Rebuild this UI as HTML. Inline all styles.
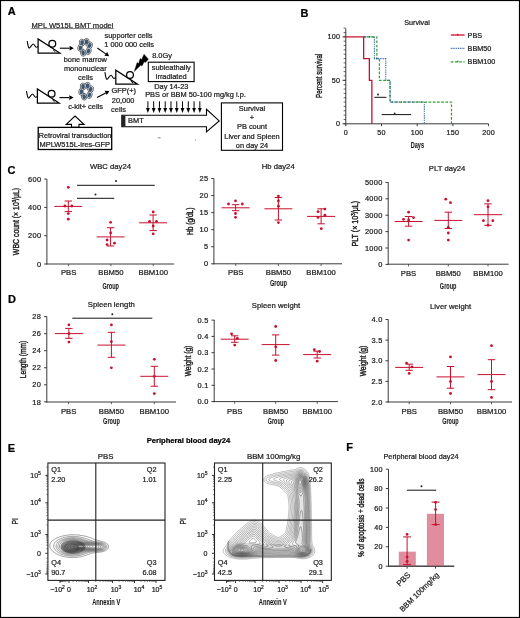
<!DOCTYPE html>
<html><head><meta charset="utf-8"><style>
html,body{margin:0;padding:0;background:#fff;}
body{width:520px;height:618px;overflow:hidden;position:relative;}
svg{position:absolute;left:0;top:0;font-family:"Liberation Sans",sans-serif;}
.frame{position:absolute;left:0;top:0;width:518px;height:616px;border:1px solid #000;}
</style></head><body>
<div style="position:absolute;left:0;top:0;width:520px;height:618px;will-change:transform"><svg width="520" height="618" viewBox="0 0 520 618">
<rect x="0" y="0" width="520" height="618" fill="#fff"/>
<text transform="translate(11.75,11.05)" x="0" y="3.94" font-size="11.0" text-anchor="middle" font-weight="bold" fill="#000" stroke="#000" stroke-width="0.22">A</text>
<text transform="translate(72.50,25.00)" x="0" y="2.72" font-size="7.6" text-anchor="middle" font-weight="normal" fill="#222" stroke="#222" stroke-width="0.22">MPL W515L BMT model</text>
<line x1="31.20" y1="28.60" x2="113.80" y2="28.60" stroke="#444" stroke-width="0.7"/>
<path d="M38.1,39.0 L38.1,53.0 L59.8,53.0 Z" fill="none" stroke="#000" stroke-width="1.25" stroke-linejoin="miter"/>
<circle cx="52.3" cy="43.7" r="3.4" fill="#fff" stroke="#000" stroke-width="1.25"/>
<path d="M53.1,49.8 L55.3,51.8" stroke="#000" stroke-width="1.0"/>
<path d="M27.200000000000003,41.0 C27.700000000000003,44.0 28.3,48.5 29.5,48.0 C30.700000000000003,47.4 31.900000000000002,44.2 33.300000000000004,44.0 C34.5,43.8 34.9,47.2 36.300000000000004,47.2 C37.1,47.2 37.6,46.5 38.1,46.2" fill="none" stroke="#000" stroke-width="1.05"/>
<line x1="59.80" y1="48.20" x2="69.60" y2="48.20" stroke="#000" stroke-width="1.1"/>
<path d="M73.80,48.20 L69.60,50.60 L69.60,45.80 Z" fill="#000"/>
<g>
<ellipse cx="82.00" cy="42.60" rx="2.7" ry="3.5" transform="rotate(-10 82.00 42.60)" fill="#eef1f4" stroke="#2a2a2a" stroke-width="0.6"/>
<ellipse cx="86.50" cy="41.80" rx="2.7" ry="3.5" transform="rotate(5 86.50 41.80)" fill="#eef1f4" stroke="#2a2a2a" stroke-width="0.6"/>
<ellipse cx="89.70" cy="45.40" rx="2.7" ry="3.5" transform="rotate(15 89.70 45.40)" fill="#eef1f4" stroke="#2a2a2a" stroke-width="0.6"/>
<ellipse cx="88.40" cy="51.10" rx="2.7" ry="3.5" transform="rotate(20 88.40 51.10)" fill="#eef1f4" stroke="#2a2a2a" stroke-width="0.6"/>
<ellipse cx="83.10" cy="52.80" rx="2.7" ry="3.5" transform="rotate(-15 83.10 52.80)" fill="#eef1f4" stroke="#2a2a2a" stroke-width="0.6"/>
<ellipse cx="80.40" cy="47.90" rx="2.7" ry="3.5" transform="rotate(5 80.40 47.90)" fill="#eef1f4" stroke="#2a2a2a" stroke-width="0.6"/>
<ellipse cx="82.00" cy="42.60" rx="1.75" ry="2.5" transform="rotate(-10 82.00 42.60)" fill="#3b5572"/>
<ellipse cx="86.50" cy="41.80" rx="1.75" ry="2.5" transform="rotate(5 86.50 41.80)" fill="#3b5572"/>
<ellipse cx="89.70" cy="45.40" rx="1.75" ry="2.5" transform="rotate(15 89.70 45.40)" fill="#3b5572"/>
<ellipse cx="88.40" cy="51.10" rx="1.75" ry="2.5" transform="rotate(20 88.40 51.10)" fill="#3b5572"/>
<ellipse cx="83.10" cy="52.80" rx="1.75" ry="2.5" transform="rotate(-15 83.10 52.80)" fill="#3b5572"/>
<ellipse cx="80.40" cy="47.90" rx="1.75" ry="2.5" transform="rotate(5 80.40 47.90)" fill="#3b5572"/>
<circle cx="84.6" cy="47.3" r="1.6" fill="#fff"/>
</g>
<text transform="translate(128.50,35.80)" x="0" y="2.65" font-size="7.4" text-anchor="middle" font-weight="normal" fill="#1a1a1a" stroke="#1a1a1a" stroke-width="0.22">supporter cells</text>
<text transform="translate(129.20,44.40)" x="0" y="2.65" font-size="7.4" text-anchor="middle" font-weight="normal" fill="#1a1a1a" stroke="#1a1a1a" stroke-width="0.22">1 000 000 cells</text>
<text transform="translate(85.30,59.80)" x="0" y="2.65" font-size="7.4" text-anchor="middle" font-weight="normal" fill="#1a1a1a" stroke="#1a1a1a" stroke-width="0.22">bone marrow</text>
<text transform="translate(85.30,68.80)" x="0" y="2.65" font-size="7.4" text-anchor="middle" font-weight="normal" fill="#1a1a1a" stroke="#1a1a1a" stroke-width="0.22">mononuclear</text>
<text transform="translate(85.50,77.70)" x="0" y="2.65" font-size="7.4" text-anchor="middle" font-weight="normal" fill="#1a1a1a" stroke="#1a1a1a" stroke-width="0.22">cells</text>
<line x1="97.30" y1="48.00" x2="105.76" y2="53.90" stroke="#000" stroke-width="1.1"/>
<path d="M109.20,56.30 L104.38,55.87 L107.13,51.93 Z" fill="#000"/>
<path d="M115.8,70.2 L115.8,84.2 L137.5,84.2 Z" fill="none" stroke="#000" stroke-width="1.25" stroke-linejoin="miter"/>
<circle cx="130.0" cy="74.9" r="3.4" fill="#fff" stroke="#000" stroke-width="1.25"/>
<path d="M130.8,81.0 L133.0,83.0" stroke="#000" stroke-width="1.0"/>
<path d="M104.89999999999999,72.2 C105.39999999999999,75.2 106.0,79.7 107.2,79.2 C108.39999999999999,78.60000000000001 109.6,75.4 111.0,75.2 C112.2,75.0 112.6,78.4 114.0,78.4 C114.8,78.4 115.3,77.7 115.8,77.4" fill="none" stroke="#000" stroke-width="1.05"/>
<path d="M134.2,71.6 L137.1,62.4 L138.6,63.4 L140.1,58.5 L141.6,59.6 L144.0,54.2 L148.5,59.2 L145.3,62.5 L144.2,61.8 L142.0,66.0 L140.8,65.2 Z" fill="#000" stroke="#000" stroke-width="0.3"/>
<text transform="translate(162.00,55.10)" x="0" y="2.65" font-size="7.4" text-anchor="middle" font-weight="normal" fill="#1a1a1a" stroke="#1a1a1a" stroke-width="0.22">8.0Gy</text>
<rect x="148.3" y="62.2" width="45.8" height="19.4" fill="none" stroke="#000" stroke-width="1.1"/>
<text transform="translate(171.20,67.40)" x="0" y="2.65" font-size="7.4" text-anchor="middle" font-weight="normal" fill="#1a1a1a" stroke="#1a1a1a" stroke-width="0.22">subleathally</text>
<text transform="translate(171.20,76.00)" x="0" y="2.65" font-size="7.4" text-anchor="middle" font-weight="normal" fill="#1a1a1a" stroke="#1a1a1a" stroke-width="0.22">irradiated</text>
<text transform="translate(171.30,86.70)" x="0" y="2.65" font-size="7.4" text-anchor="middle" font-weight="normal" fill="#1a1a1a" stroke="#1a1a1a" stroke-width="0.22">Day 14-23</text>
<text transform="translate(195.50,94.80)" x="0" y="2.65" font-size="7.4" text-anchor="middle" font-weight="normal" fill="#1a1a1a" stroke="#1a1a1a" stroke-width="0.22">PBS or BBM 50-100 mg/kg i.p.</text>
<line x1="147.90" y1="101.30" x2="147.90" y2="107.90" stroke="#000" stroke-width="1.0"/>
<path d="M147.90,112.90 L146.00,107.90 L149.80,107.90 Z" fill="#000"/>
<line x1="153.67" y1="101.30" x2="153.67" y2="107.90" stroke="#000" stroke-width="1.0"/>
<path d="M153.67,112.90 L151.77,107.90 L155.57,107.90 Z" fill="#000"/>
<line x1="159.44" y1="101.30" x2="159.44" y2="107.90" stroke="#000" stroke-width="1.0"/>
<path d="M159.44,112.90 L157.54,107.90 L161.34,107.90 Z" fill="#000"/>
<line x1="165.21" y1="101.30" x2="165.21" y2="107.90" stroke="#000" stroke-width="1.0"/>
<path d="M165.21,112.90 L163.31,107.90 L167.11,107.90 Z" fill="#000"/>
<line x1="170.98" y1="101.30" x2="170.98" y2="107.90" stroke="#000" stroke-width="1.0"/>
<path d="M170.98,112.90 L169.08,107.90 L172.88,107.90 Z" fill="#000"/>
<line x1="176.75" y1="101.30" x2="176.75" y2="107.90" stroke="#000" stroke-width="1.0"/>
<path d="M176.75,112.90 L174.85,107.90 L178.65,107.90 Z" fill="#000"/>
<line x1="182.52" y1="101.30" x2="182.52" y2="107.90" stroke="#000" stroke-width="1.0"/>
<path d="M182.52,112.90 L180.62,107.90 L184.42,107.90 Z" fill="#000"/>
<line x1="188.29" y1="101.30" x2="188.29" y2="107.90" stroke="#000" stroke-width="1.0"/>
<path d="M188.29,112.90 L186.39,107.90 L190.19,107.90 Z" fill="#000"/>
<line x1="194.06" y1="101.30" x2="194.06" y2="107.90" stroke="#000" stroke-width="1.0"/>
<path d="M194.06,112.90 L192.16,107.90 L195.96,107.90 Z" fill="#000"/>
<line x1="199.83" y1="101.30" x2="199.83" y2="107.90" stroke="#000" stroke-width="1.0"/>
<path d="M199.83,112.90 L197.93,107.90 L201.73,107.90 Z" fill="#000"/>
<path d="M121.8,115.2 L206.5,115.2 L206.5,109.3 L219.2,120.9 L206.5,131.9 L206.5,126.7 L121.8,126.7 Z" fill="#fff" stroke="#000" stroke-width="1.1" stroke-linejoin="miter"/>
<rect x="122" y="115.6" width="3.4" height="10.8" fill="#222"/>
<text transform="translate(135.90,120.80)" x="0" y="2.65" font-size="7.4" text-anchor="middle" font-weight="normal" fill="#1a1a1a" stroke="#1a1a1a" stroke-width="0.22">BMT</text>
<line x1="157.80" y1="137.80" x2="160.60" y2="137.80" stroke="#555" stroke-width="0.7"/>
<circle cx="195.5" cy="140" r="0.5" fill="#666"/>
<rect x="221.4" y="102.9" width="61.1" height="47.4" fill="none" stroke="#000" stroke-width="1.1"/>
<text transform="translate(252.00,108.40)" x="0" y="2.65" font-size="7.4" text-anchor="middle" font-weight="normal" fill="#1a1a1a" stroke="#1a1a1a" stroke-width="0.22">Survival</text>
<text transform="translate(252.00,117.60)" x="0" y="2.65" font-size="7.4" text-anchor="middle" font-weight="normal" fill="#1a1a1a" stroke="#1a1a1a" stroke-width="0.22">+</text>
<text transform="translate(252.00,126.80)" x="0" y="2.65" font-size="7.4" text-anchor="middle" font-weight="normal" fill="#1a1a1a" stroke="#1a1a1a" stroke-width="0.22">PB count</text>
<text transform="translate(252.00,135.90)" x="0" y="2.65" font-size="7.4" text-anchor="middle" font-weight="normal" fill="#1a1a1a" stroke="#1a1a1a" stroke-width="0.22">Liver and Spleen</text>
<text transform="translate(252.00,145.50)" x="0" y="2.65" font-size="7.4" text-anchor="middle" font-weight="normal" fill="#1a1a1a" stroke="#1a1a1a" stroke-width="0.22">on day 24</text>
<path d="M37.4,89.0 L37.4,103.0 L59.099999999999994,103.0 Z" fill="none" stroke="#000" stroke-width="1.25" stroke-linejoin="miter"/>
<circle cx="51.599999999999994" cy="93.7" r="3.4" fill="#fff" stroke="#000" stroke-width="1.25"/>
<path d="M52.4,99.8 L54.599999999999994,101.8" stroke="#000" stroke-width="1.0"/>
<path d="M26.5,91.0 C27.0,94.0 27.599999999999998,98.5 28.799999999999997,98.0 C30.0,97.4 31.2,94.2 32.6,94.0 C33.8,93.8 34.199999999999996,97.2 35.6,97.2 C36.4,97.2 36.9,96.5 37.4,96.2" fill="none" stroke="#000" stroke-width="1.05"/>
<line x1="59.40" y1="97.60" x2="69.30" y2="97.60" stroke="#000" stroke-width="1.1"/>
<path d="M73.50,97.60 L69.30,100.00 L69.30,95.20 Z" fill="#000"/>
<g>
<ellipse cx="83.00" cy="86.50" rx="2.7" ry="3.5" transform="rotate(-10 83.00 86.50)" fill="#eef1f4" stroke="#2a2a2a" stroke-width="0.6"/>
<ellipse cx="87.50" cy="85.70" rx="2.7" ry="3.5" transform="rotate(5 87.50 85.70)" fill="#eef1f4" stroke="#2a2a2a" stroke-width="0.6"/>
<ellipse cx="90.70" cy="89.30" rx="2.7" ry="3.5" transform="rotate(15 90.70 89.30)" fill="#eef1f4" stroke="#2a2a2a" stroke-width="0.6"/>
<ellipse cx="89.40" cy="95.00" rx="2.7" ry="3.5" transform="rotate(20 89.40 95.00)" fill="#eef1f4" stroke="#2a2a2a" stroke-width="0.6"/>
<ellipse cx="84.10" cy="96.70" rx="2.7" ry="3.5" transform="rotate(-15 84.10 96.70)" fill="#eef1f4" stroke="#2a2a2a" stroke-width="0.6"/>
<ellipse cx="81.40" cy="91.80" rx="2.7" ry="3.5" transform="rotate(5 81.40 91.80)" fill="#eef1f4" stroke="#2a2a2a" stroke-width="0.6"/>
<ellipse cx="83.00" cy="86.50" rx="1.75" ry="2.5" transform="rotate(-10 83.00 86.50)" fill="#3b5572"/>
<ellipse cx="87.50" cy="85.70" rx="1.75" ry="2.5" transform="rotate(5 87.50 85.70)" fill="#3b5572"/>
<ellipse cx="90.70" cy="89.30" rx="1.75" ry="2.5" transform="rotate(15 90.70 89.30)" fill="#3b5572"/>
<ellipse cx="89.40" cy="95.00" rx="1.75" ry="2.5" transform="rotate(20 89.40 95.00)" fill="#3b5572"/>
<ellipse cx="84.10" cy="96.70" rx="1.75" ry="2.5" transform="rotate(-15 84.10 96.70)" fill="#3b5572"/>
<ellipse cx="81.40" cy="91.80" rx="1.75" ry="2.5" transform="rotate(5 81.40 91.80)" fill="#3b5572"/>
<circle cx="85.6" cy="91.2" r="1.6" fill="#fff"/>
</g>
<text transform="translate(85.50,106.40)" x="0" y="2.65" font-size="7.4" text-anchor="middle" font-weight="normal" fill="#1a1a1a" stroke="#1a1a1a" stroke-width="0.22">c-kit+ cells</text>
<line x1="97.00" y1="97.60" x2="105.69" y2="92.97" stroke="#000" stroke-width="1.1"/>
<path d="M109.40,91.00 L106.82,95.09 L104.56,90.85 Z" fill="#000"/>
<text transform="translate(123.80,90.80)" x="0" y="2.65" font-size="7.4" text-anchor="middle" font-weight="normal" fill="#1a1a1a" stroke="#1a1a1a" stroke-width="0.22">GFP(+)</text>
<text transform="translate(123.10,100.20)" x="0" y="2.65" font-size="7.4" text-anchor="middle" font-weight="normal" fill="#1a1a1a" stroke="#1a1a1a" stroke-width="0.22">20,000</text>
<text transform="translate(118.50,109.80)" x="0" y="2.65" font-size="7.4" text-anchor="middle" font-weight="normal" fill="#1a1a1a" stroke="#1a1a1a" stroke-width="0.22">cells</text>
<path d="M75,116 L84.0,124.4 L79.0,124.4 L79.0,127.4 L71.5,127.4 L71.5,124.4 L66.2,124.4 Z" fill="#fff" stroke="#000" stroke-width="1.1" stroke-linejoin="miter"/>
<rect x="38.2" y="127.4" width="73.5" height="22.1" fill="#fff" stroke="#000" stroke-width="1.3"/>
<text transform="translate(75.00,135.20)" x="0" y="2.60" font-size="7.25" text-anchor="middle" font-weight="normal" fill="#1a1a1a" stroke="#1a1a1a" stroke-width="0.22">Retroviral transduction</text>
<text transform="translate(74.80,143.90)" x="0" y="2.67" font-size="7.45" text-anchor="middle" font-weight="normal" fill="#1a1a1a" stroke="#1a1a1a" stroke-width="0.22">MPLW515L-ires-GFP</text>
<text transform="translate(304.45,12.80)" x="0" y="3.94" font-size="11.0" text-anchor="middle" font-weight="bold" fill="#000" stroke="#000" stroke-width="0.22">B</text>
<text transform="translate(417.00,22.00)" x="0" y="2.58" font-size="7.2" text-anchor="middle" font-weight="normal" fill="#1a1a1a" stroke="#1a1a1a" stroke-width="0.22">Survival</text>
<line x1="345.80" y1="28.50" x2="345.80" y2="124.30" stroke="#3a3a3a" stroke-width="1.0"/>
<line x1="345.30" y1="123.80" x2="488.60" y2="123.80" stroke="#3a3a3a" stroke-width="1.0"/>
<line x1="343.60" y1="123.80" x2="345.80" y2="123.80" stroke="#3a3a3a" stroke-width="0.8"/>
<line x1="343.60" y1="119.45" x2="345.80" y2="119.45" stroke="#3a3a3a" stroke-width="0.8"/>
<line x1="343.60" y1="115.10" x2="345.80" y2="115.10" stroke="#3a3a3a" stroke-width="0.8"/>
<line x1="343.60" y1="110.76" x2="345.80" y2="110.76" stroke="#3a3a3a" stroke-width="0.8"/>
<line x1="343.60" y1="106.41" x2="345.80" y2="106.41" stroke="#3a3a3a" stroke-width="0.8"/>
<line x1="343.60" y1="102.06" x2="345.80" y2="102.06" stroke="#3a3a3a" stroke-width="0.8"/>
<line x1="343.60" y1="97.72" x2="345.80" y2="97.72" stroke="#3a3a3a" stroke-width="0.8"/>
<line x1="343.60" y1="93.37" x2="345.80" y2="93.37" stroke="#3a3a3a" stroke-width="0.8"/>
<line x1="343.60" y1="89.02" x2="345.80" y2="89.02" stroke="#3a3a3a" stroke-width="0.8"/>
<line x1="343.60" y1="84.67" x2="345.80" y2="84.67" stroke="#3a3a3a" stroke-width="0.8"/>
<line x1="343.60" y1="80.32" x2="345.80" y2="80.32" stroke="#3a3a3a" stroke-width="0.8"/>
<line x1="343.60" y1="75.98" x2="345.80" y2="75.98" stroke="#3a3a3a" stroke-width="0.8"/>
<line x1="343.60" y1="71.63" x2="345.80" y2="71.63" stroke="#3a3a3a" stroke-width="0.8"/>
<line x1="343.60" y1="67.28" x2="345.80" y2="67.28" stroke="#3a3a3a" stroke-width="0.8"/>
<line x1="343.60" y1="62.93" x2="345.80" y2="62.93" stroke="#3a3a3a" stroke-width="0.8"/>
<line x1="343.60" y1="58.59" x2="345.80" y2="58.59" stroke="#3a3a3a" stroke-width="0.8"/>
<line x1="343.60" y1="54.24" x2="345.80" y2="54.24" stroke="#3a3a3a" stroke-width="0.8"/>
<line x1="343.60" y1="49.89" x2="345.80" y2="49.89" stroke="#3a3a3a" stroke-width="0.8"/>
<line x1="343.60" y1="45.54" x2="345.80" y2="45.54" stroke="#3a3a3a" stroke-width="0.8"/>
<line x1="343.60" y1="41.20" x2="345.80" y2="41.20" stroke="#3a3a3a" stroke-width="0.8"/>
<line x1="343.60" y1="36.85" x2="345.80" y2="36.85" stroke="#3a3a3a" stroke-width="0.8"/>
<line x1="343.60" y1="32.50" x2="345.80" y2="32.50" stroke="#3a3a3a" stroke-width="0.8"/>
<line x1="343.60" y1="28.15" x2="345.80" y2="28.15" stroke="#3a3a3a" stroke-width="0.8"/>
<line x1="342.60" y1="123.80" x2="345.80" y2="123.80" stroke="#3a3a3a" stroke-width="1.0"/>
<text transform="translate(340.20,123.80)" x="0" y="2.58" font-size="7.2" text-anchor="end" font-weight="normal" fill="#1a1a1a" letter-spacing="0.25" stroke="#1a1a1a" stroke-width="0.22">0</text>
<line x1="342.60" y1="80.32" x2="345.80" y2="80.32" stroke="#3a3a3a" stroke-width="1.0"/>
<text transform="translate(340.20,80.32)" x="0" y="2.58" font-size="7.2" text-anchor="end" font-weight="normal" fill="#1a1a1a" letter-spacing="0.25" stroke="#1a1a1a" stroke-width="0.22">50</text>
<line x1="342.60" y1="36.85" x2="345.80" y2="36.85" stroke="#3a3a3a" stroke-width="1.0"/>
<text transform="translate(340.20,36.85)" x="0" y="2.58" font-size="7.2" text-anchor="end" font-weight="normal" fill="#1a1a1a" letter-spacing="0.25" stroke="#1a1a1a" stroke-width="0.22">100</text>
<line x1="345.80" y1="123.80" x2="345.80" y2="126.20" stroke="#3a3a3a" stroke-width="1.0"/>
<text transform="translate(345.80,132.80)" x="0" y="2.58" font-size="7.2" text-anchor="middle" font-weight="normal" fill="#1a1a1a" letter-spacing="0.25" stroke="#1a1a1a" stroke-width="0.22">0</text>
<line x1="381.50" y1="123.80" x2="381.50" y2="126.20" stroke="#3a3a3a" stroke-width="1.0"/>
<text transform="translate(381.50,132.80)" x="0" y="2.58" font-size="7.2" text-anchor="middle" font-weight="normal" fill="#1a1a1a" letter-spacing="0.25" stroke="#1a1a1a" stroke-width="0.22">50</text>
<line x1="417.20" y1="123.80" x2="417.20" y2="126.20" stroke="#3a3a3a" stroke-width="1.0"/>
<text transform="translate(417.20,132.80)" x="0" y="2.58" font-size="7.2" text-anchor="middle" font-weight="normal" fill="#1a1a1a" letter-spacing="0.25" stroke="#1a1a1a" stroke-width="0.22">100</text>
<line x1="452.90" y1="123.80" x2="452.90" y2="126.20" stroke="#3a3a3a" stroke-width="1.0"/>
<text transform="translate(452.90,132.80)" x="0" y="2.58" font-size="7.2" text-anchor="middle" font-weight="normal" fill="#1a1a1a" letter-spacing="0.25" stroke="#1a1a1a" stroke-width="0.22">150</text>
<line x1="488.60" y1="123.80" x2="488.60" y2="126.20" stroke="#3a3a3a" stroke-width="1.0"/>
<text transform="translate(488.60,132.80)" x="0" y="2.58" font-size="7.2" text-anchor="middle" font-weight="normal" fill="#1a1a1a" letter-spacing="0.25" stroke="#1a1a1a" stroke-width="0.22">200</text>
<text transform="translate(417.40,148.00)" x="0" y="0" font-size="9.3" text-anchor="middle" font-weight="bold" fill="#1a1a1a" textLength="13.2" lengthAdjust="spacingAndGlyphs" stroke="#1a1a1a" stroke-width="0.1">Days</text>
<text transform="translate(322.10,75.80) rotate(-90)" x="0" y="0" font-size="9.3" text-anchor="middle" font-weight="normal" fill="#1a1a1a" textLength="44.2" lengthAdjust="spacingAndGlyphs" stroke="#1a1a1a" stroke-width="0.4">Percent survival</text>
<path d="M363.65,36.85 L376.86,36.85 L376.86,58.59 L379.36,58.59 L379.36,80.32 L390.07,80.32 L390.07,102.06 L451.47,102.06 L451.47,123.80" fill="none" stroke="#2ca02c" stroke-width="1.2" stroke-dasharray="2.6,1.6"/>
<path d="M363.65,36.85 L374.36,36.85 L374.36,58.59 L385.78,58.59 L385.78,80.32 L390.07,80.32 L390.07,102.06 L424.34,102.06 L424.34,123.80" fill="none" stroke="#1f5499" stroke-width="1.1" stroke-dasharray="0.9,0.9"/>
<path d="M345.80,36.85 L363.65,36.85 L363.65,58.59 L369.36,58.59 L369.36,80.32 L371.86,80.32 L371.86,123.80" fill="none" stroke="#c8102e" stroke-width="1.3"/>
<line x1="374.30" y1="97.30" x2="386.40" y2="97.30" stroke="#111" stroke-width="1.0"/>
<circle cx="378.00" cy="94.50" r="1.0" fill="#222"/>
<line x1="381.70" y1="114.60" x2="411.10" y2="114.60" stroke="#111" stroke-width="1.0"/>
<circle cx="394.70" cy="113.40" r="0.9" fill="#222"/>
<line x1="450.80" y1="35.00" x2="464.60" y2="35.00" stroke="#c8102e" stroke-width="1.3"/>
<circle cx="457.70" cy="34.60" r="0.9" fill="#c8102e"/>
<text transform="translate(467.60,35.00)" x="0" y="2.58" font-size="7.2" text-anchor="start" font-weight="normal" fill="#1a1a1a" stroke="#1a1a1a" stroke-width="0.22">PBS</text>
<line x1="450.80" y1="48.40" x2="464.60" y2="48.40" stroke="#1f5499" stroke-width="1.1" stroke-dasharray="0.9,0.9"/>
<text transform="translate(467.60,48.40)" x="0" y="2.58" font-size="7.2" text-anchor="start" font-weight="normal" fill="#1a1a1a" stroke="#1a1a1a" stroke-width="0.22">BBM50</text>
<line x1="450.80" y1="61.80" x2="464.60" y2="61.80" stroke="#2ca02c" stroke-width="1.2" stroke-dasharray="2.6,1.6"/>
<circle cx="457.70" cy="61.40" r="0.9" fill="#2ca02c"/>
<text transform="translate(467.60,61.80)" x="0" y="2.58" font-size="7.2" text-anchor="start" font-weight="normal" fill="#1a1a1a" stroke="#1a1a1a" stroke-width="0.22">BBM100</text>
<text transform="translate(11.40,170.20)" x="0" y="3.94" font-size="11.0" text-anchor="middle" font-weight="bold" fill="#000" stroke="#000" stroke-width="0.22">C</text>
<line x1="46.90" y1="179.20" x2="46.90" y2="264.50" stroke="#3a3a3a" stroke-width="1.0"/>
<line x1="46.40" y1="264.00" x2="174.20" y2="264.00" stroke="#3a3a3a" stroke-width="1.0"/>
<line x1="44.20" y1="264.00" x2="46.90" y2="264.00" stroke="#3a3a3a" stroke-width="1.0"/>
<text transform="translate(41.30,264.00)" x="0" y="2.65" font-size="7.4" text-anchor="end" font-weight="normal" fill="#1a1a1a" letter-spacing="0.3" stroke="#1a1a1a" stroke-width="0.22">0</text>
<line x1="44.20" y1="235.70" x2="46.90" y2="235.70" stroke="#3a3a3a" stroke-width="1.0"/>
<text transform="translate(41.30,235.70)" x="0" y="2.65" font-size="7.4" text-anchor="end" font-weight="normal" fill="#1a1a1a" letter-spacing="0.3" stroke="#1a1a1a" stroke-width="0.22">200</text>
<line x1="44.20" y1="207.40" x2="46.90" y2="207.40" stroke="#3a3a3a" stroke-width="1.0"/>
<text transform="translate(41.30,207.40)" x="0" y="2.65" font-size="7.4" text-anchor="end" font-weight="normal" fill="#1a1a1a" letter-spacing="0.3" stroke="#1a1a1a" stroke-width="0.22">400</text>
<line x1="44.20" y1="179.10" x2="46.90" y2="179.10" stroke="#3a3a3a" stroke-width="1.0"/>
<text transform="translate(41.30,179.10)" x="0" y="2.65" font-size="7.4" text-anchor="end" font-weight="normal" fill="#1a1a1a" letter-spacing="0.3" stroke="#1a1a1a" stroke-width="0.22">600</text>
<line x1="68.60" y1="264.00" x2="68.60" y2="266.20" stroke="#3a3a3a" stroke-width="0.8"/>
<line x1="110.90" y1="264.00" x2="110.90" y2="266.20" stroke="#3a3a3a" stroke-width="0.8"/>
<line x1="153.30" y1="264.00" x2="153.30" y2="266.20" stroke="#3a3a3a" stroke-width="0.8"/>
<text transform="translate(68.60,272.40)" x="0" y="2.76" font-size="7.7" text-anchor="middle" font-weight="normal" fill="#1a1a1a" stroke="#1a1a1a" stroke-width="0.22">PBS</text>
<text transform="translate(110.90,272.40)" x="0" y="2.76" font-size="7.7" text-anchor="middle" font-weight="normal" fill="#1a1a1a" stroke="#1a1a1a" stroke-width="0.22">BBM50</text>
<text transform="translate(153.30,272.40)" x="0" y="2.76" font-size="7.7" text-anchor="middle" font-weight="normal" fill="#1a1a1a" stroke="#1a1a1a" stroke-width="0.22">BBM100</text>
<text transform="translate(110.65,288.80)" x="0" y="0" font-size="9.3" text-anchor="middle" font-weight="bold" fill="#1a1a1a" textLength="16.5" lengthAdjust="spacingAndGlyphs" stroke="#1a1a1a" stroke-width="0.1">Group</text>
<text transform="translate(110.50,166.00)" x="0" y="2.76" font-size="7.7" text-anchor="middle" font-weight="normal" fill="#1a1a1a" stroke="#1a1a1a" stroke-width="0.22">WBC day24</text>
<text transform="translate(18.70,221.50) rotate(-90)" x="0" y="0" font-size="9.0" text-anchor="middle" font-weight="normal" fill="#1a1a1a" textLength="67.3" lengthAdjust="spacingAndGlyphs" stroke="#1a1a1a" stroke-width="0.4">WBC count (× 10<tspan baseline-shift="super" font-size="5.5">3</tspan>/μL)</text>
<line x1="54.30" y1="206.40" x2="82.30" y2="206.40" stroke="#c8102e" stroke-width="1.0"/>
<line x1="68.30" y1="201.00" x2="68.30" y2="211.60" stroke="#c8102e" stroke-width="1.0"/>
<line x1="64.60" y1="201.00" x2="72.00" y2="201.00" stroke="#c8102e" stroke-width="1.0"/>
<line x1="64.60" y1="211.60" x2="72.00" y2="211.60" stroke="#c8102e" stroke-width="1.0"/>
<circle cx="68.30" cy="187.30" r="1.4" fill="#c8102e"/>
<circle cx="64.90" cy="206.00" r="1.4" fill="#c8102e"/>
<circle cx="71.80" cy="206.00" r="1.4" fill="#c8102e"/>
<circle cx="68.30" cy="213.60" r="1.4" fill="#c8102e"/>
<circle cx="68.30" cy="219.20" r="1.4" fill="#c8102e"/>
<line x1="96.60" y1="236.90" x2="124.60" y2="236.90" stroke="#c8102e" stroke-width="1.0"/>
<line x1="110.60" y1="227.70" x2="110.60" y2="246.00" stroke="#c8102e" stroke-width="1.0"/>
<line x1="106.90" y1="227.70" x2="114.30" y2="227.70" stroke="#c8102e" stroke-width="1.0"/>
<line x1="106.90" y1="246.00" x2="114.30" y2="246.00" stroke="#c8102e" stroke-width="1.0"/>
<circle cx="110.60" cy="222.30" r="1.4" fill="#c8102e"/>
<circle cx="110.60" cy="232.90" r="1.4" fill="#c8102e"/>
<circle cx="107.10" cy="240.00" r="1.4" fill="#c8102e"/>
<circle cx="114.50" cy="243.20" r="1.4" fill="#c8102e"/>
<circle cx="107.10" cy="244.60" r="1.4" fill="#c8102e"/>
<line x1="139.10" y1="222.80" x2="167.10" y2="222.80" stroke="#c8102e" stroke-width="1.0"/>
<line x1="153.10" y1="215.00" x2="153.10" y2="230.60" stroke="#c8102e" stroke-width="1.0"/>
<line x1="149.40" y1="215.00" x2="156.80" y2="215.00" stroke="#c8102e" stroke-width="1.0"/>
<line x1="149.40" y1="230.60" x2="156.80" y2="230.60" stroke="#c8102e" stroke-width="1.0"/>
<circle cx="153.20" cy="212.00" r="1.4" fill="#c8102e"/>
<circle cx="149.50" cy="221.50" r="1.4" fill="#c8102e"/>
<circle cx="156.50" cy="221.50" r="1.4" fill="#c8102e"/>
<circle cx="153.20" cy="226.00" r="1.4" fill="#c8102e"/>
<circle cx="153.20" cy="233.80" r="1.4" fill="#c8102e"/>
<line x1="77.00" y1="185.30" x2="154.80" y2="185.30" stroke="#111" stroke-width="1.0"/>
<circle cx="116.05" cy="180.90" r="1.0" fill="#222"/>
<line x1="77.00" y1="198.30" x2="114.30" y2="198.30" stroke="#111" stroke-width="1.0"/>
<circle cx="95.50" cy="194.40" r="1.0" fill="#222"/>
<line x1="213.90" y1="178.50" x2="213.90" y2="264.30" stroke="#3a3a3a" stroke-width="1.0"/>
<line x1="213.40" y1="263.80" x2="342.00" y2="263.80" stroke="#3a3a3a" stroke-width="1.0"/>
<line x1="211.20" y1="263.80" x2="213.90" y2="263.80" stroke="#3a3a3a" stroke-width="1.0"/>
<text transform="translate(208.30,263.80)" x="0" y="2.65" font-size="7.4" text-anchor="end" font-weight="normal" fill="#1a1a1a" letter-spacing="0.3" stroke="#1a1a1a" stroke-width="0.22">0</text>
<line x1="211.20" y1="246.75" x2="213.90" y2="246.75" stroke="#3a3a3a" stroke-width="1.0"/>
<text transform="translate(208.30,246.75)" x="0" y="2.65" font-size="7.4" text-anchor="end" font-weight="normal" fill="#1a1a1a" letter-spacing="0.3" stroke="#1a1a1a" stroke-width="0.22">5</text>
<line x1="211.20" y1="229.70" x2="213.90" y2="229.70" stroke="#3a3a3a" stroke-width="1.0"/>
<text transform="translate(208.30,229.70)" x="0" y="2.65" font-size="7.4" text-anchor="end" font-weight="normal" fill="#1a1a1a" letter-spacing="0.3" stroke="#1a1a1a" stroke-width="0.22">10</text>
<line x1="211.20" y1="212.65" x2="213.90" y2="212.65" stroke="#3a3a3a" stroke-width="1.0"/>
<text transform="translate(208.30,212.65)" x="0" y="2.65" font-size="7.4" text-anchor="end" font-weight="normal" fill="#1a1a1a" letter-spacing="0.3" stroke="#1a1a1a" stroke-width="0.22">15</text>
<line x1="211.20" y1="195.60" x2="213.90" y2="195.60" stroke="#3a3a3a" stroke-width="1.0"/>
<text transform="translate(208.30,195.60)" x="0" y="2.65" font-size="7.4" text-anchor="end" font-weight="normal" fill="#1a1a1a" letter-spacing="0.3" stroke="#1a1a1a" stroke-width="0.22">20</text>
<line x1="211.20" y1="178.55" x2="213.90" y2="178.55" stroke="#3a3a3a" stroke-width="1.0"/>
<text transform="translate(208.30,178.55)" x="0" y="2.65" font-size="7.4" text-anchor="end" font-weight="normal" fill="#1a1a1a" letter-spacing="0.3" stroke="#1a1a1a" stroke-width="0.22">25</text>
<line x1="235.70" y1="263.80" x2="235.70" y2="266.00" stroke="#3a3a3a" stroke-width="0.8"/>
<line x1="278.40" y1="263.80" x2="278.40" y2="266.00" stroke="#3a3a3a" stroke-width="0.8"/>
<line x1="321.10" y1="263.80" x2="321.10" y2="266.00" stroke="#3a3a3a" stroke-width="0.8"/>
<text transform="translate(235.70,272.00)" x="0" y="2.76" font-size="7.7" text-anchor="middle" font-weight="normal" fill="#1a1a1a" stroke="#1a1a1a" stroke-width="0.22">PBS</text>
<text transform="translate(278.40,272.00)" x="0" y="2.76" font-size="7.7" text-anchor="middle" font-weight="normal" fill="#1a1a1a" stroke="#1a1a1a" stroke-width="0.22">BBM50</text>
<text transform="translate(321.10,272.00)" x="0" y="2.76" font-size="7.7" text-anchor="middle" font-weight="normal" fill="#1a1a1a" stroke="#1a1a1a" stroke-width="0.22">BBM100</text>
<text transform="translate(278.40,285.70)" x="0" y="0" font-size="9.3" text-anchor="middle" font-weight="bold" fill="#1a1a1a" textLength="17.0" lengthAdjust="spacingAndGlyphs" stroke="#1a1a1a" stroke-width="0.1">Group</text>
<text transform="translate(278.20,166.00)" x="0" y="2.76" font-size="7.7" text-anchor="middle" font-weight="normal" fill="#1a1a1a" stroke="#1a1a1a" stroke-width="0.22">Hb day24</text>
<text transform="translate(193.40,221.30) rotate(-90)" x="0" y="0" font-size="9.0" text-anchor="middle" font-weight="normal" fill="#1a1a1a" textLength="27.6" lengthAdjust="spacingAndGlyphs" stroke="#1a1a1a" stroke-width="0.4">Hb (g/dL)</text>
<line x1="221.60" y1="207.80" x2="249.60" y2="207.80" stroke="#c8102e" stroke-width="1.0"/>
<line x1="235.60" y1="204.70" x2="235.60" y2="210.70" stroke="#c8102e" stroke-width="1.0"/>
<line x1="231.90" y1="204.70" x2="239.30" y2="204.70" stroke="#c8102e" stroke-width="1.0"/>
<line x1="231.90" y1="210.70" x2="239.30" y2="210.70" stroke="#c8102e" stroke-width="1.0"/>
<circle cx="235.50" cy="200.80" r="1.4" fill="#c8102e"/>
<circle cx="228.50" cy="204.00" r="1.4" fill="#c8102e"/>
<circle cx="242.30" cy="204.00" r="1.4" fill="#c8102e"/>
<circle cx="235.50" cy="213.50" r="1.4" fill="#c8102e"/>
<circle cx="235.50" cy="217.30" r="1.4" fill="#c8102e"/>
<line x1="264.40" y1="208.80" x2="292.40" y2="208.80" stroke="#c8102e" stroke-width="1.0"/>
<line x1="278.40" y1="197.50" x2="278.40" y2="220.00" stroke="#c8102e" stroke-width="1.0"/>
<line x1="274.70" y1="197.50" x2="282.10" y2="197.50" stroke="#c8102e" stroke-width="1.0"/>
<line x1="274.70" y1="220.00" x2="282.10" y2="220.00" stroke="#c8102e" stroke-width="1.0"/>
<circle cx="278.40" cy="196.10" r="1.4" fill="#c8102e"/>
<circle cx="278.40" cy="201.00" r="1.4" fill="#c8102e"/>
<circle cx="278.40" cy="206.20" r="1.4" fill="#c8102e"/>
<circle cx="278.40" cy="222.60" r="1.4" fill="#c8102e"/>
<line x1="307.10" y1="216.40" x2="335.10" y2="216.40" stroke="#c8102e" stroke-width="1.0"/>
<line x1="321.10" y1="208.80" x2="321.10" y2="223.80" stroke="#c8102e" stroke-width="1.0"/>
<line x1="317.40" y1="208.80" x2="324.80" y2="208.80" stroke="#c8102e" stroke-width="1.0"/>
<line x1="317.40" y1="223.80" x2="324.80" y2="223.80" stroke="#c8102e" stroke-width="1.0"/>
<circle cx="324.90" cy="209.10" r="1.4" fill="#c8102e"/>
<circle cx="318.00" cy="211.70" r="1.4" fill="#c8102e"/>
<circle cx="324.90" cy="215.20" r="1.4" fill="#c8102e"/>
<circle cx="318.00" cy="217.40" r="1.4" fill="#c8102e"/>
<circle cx="321.30" cy="228.70" r="1.4" fill="#c8102e"/>
<line x1="388.20" y1="182.20" x2="388.20" y2="264.70" stroke="#3a3a3a" stroke-width="1.0"/>
<line x1="387.70" y1="264.20" x2="508.60" y2="264.20" stroke="#3a3a3a" stroke-width="1.0"/>
<line x1="385.50" y1="264.40" x2="388.20" y2="264.40" stroke="#3a3a3a" stroke-width="1.0"/>
<text transform="translate(382.60,264.40)" x="0" y="2.65" font-size="7.4" text-anchor="end" font-weight="normal" fill="#1a1a1a" letter-spacing="0.3" stroke="#1a1a1a" stroke-width="0.22">0</text>
<line x1="385.50" y1="248.00" x2="388.20" y2="248.00" stroke="#3a3a3a" stroke-width="1.0"/>
<text transform="translate(382.60,248.00)" x="0" y="2.65" font-size="7.4" text-anchor="end" font-weight="normal" fill="#1a1a1a" letter-spacing="0.3" stroke="#1a1a1a" stroke-width="0.22">1000</text>
<line x1="385.50" y1="231.60" x2="388.20" y2="231.60" stroke="#3a3a3a" stroke-width="1.0"/>
<text transform="translate(382.60,231.60)" x="0" y="2.65" font-size="7.4" text-anchor="end" font-weight="normal" fill="#1a1a1a" letter-spacing="0.3" stroke="#1a1a1a" stroke-width="0.22">2000</text>
<line x1="385.50" y1="215.20" x2="388.20" y2="215.20" stroke="#3a3a3a" stroke-width="1.0"/>
<text transform="translate(382.60,215.20)" x="0" y="2.65" font-size="7.4" text-anchor="end" font-weight="normal" fill="#1a1a1a" letter-spacing="0.3" stroke="#1a1a1a" stroke-width="0.22">3000</text>
<line x1="385.50" y1="198.80" x2="388.20" y2="198.80" stroke="#3a3a3a" stroke-width="1.0"/>
<text transform="translate(382.60,198.80)" x="0" y="2.65" font-size="7.4" text-anchor="end" font-weight="normal" fill="#1a1a1a" letter-spacing="0.3" stroke="#1a1a1a" stroke-width="0.22">4000</text>
<line x1="385.50" y1="182.40" x2="388.20" y2="182.40" stroke="#3a3a3a" stroke-width="1.0"/>
<text transform="translate(382.60,182.40)" x="0" y="2.65" font-size="7.4" text-anchor="end" font-weight="normal" fill="#1a1a1a" letter-spacing="0.3" stroke="#1a1a1a" stroke-width="0.22">5000</text>
<line x1="408.50" y1="264.20" x2="408.50" y2="266.40" stroke="#3a3a3a" stroke-width="0.8"/>
<line x1="448.30" y1="264.20" x2="448.30" y2="266.40" stroke="#3a3a3a" stroke-width="0.8"/>
<line x1="488.00" y1="264.20" x2="488.00" y2="266.40" stroke="#3a3a3a" stroke-width="0.8"/>
<text transform="translate(408.50,273.00)" x="0" y="2.76" font-size="7.7" text-anchor="middle" font-weight="normal" fill="#1a1a1a" stroke="#1a1a1a" stroke-width="0.22">PBS</text>
<text transform="translate(448.30,273.00)" x="0" y="2.76" font-size="7.7" text-anchor="middle" font-weight="normal" fill="#1a1a1a" stroke="#1a1a1a" stroke-width="0.22">BBM50</text>
<text transform="translate(488.00,273.00)" x="0" y="2.76" font-size="7.7" text-anchor="middle" font-weight="normal" fill="#1a1a1a" stroke="#1a1a1a" stroke-width="0.22">BBM100</text>
<text transform="translate(448.10,288.60)" x="0" y="0" font-size="9.3" text-anchor="middle" font-weight="bold" fill="#1a1a1a" textLength="16.5" lengthAdjust="spacingAndGlyphs" stroke="#1a1a1a" stroke-width="0.1">Group</text>
<text transform="translate(447.10,167.80)" x="0" y="2.76" font-size="7.7" text-anchor="middle" font-weight="normal" fill="#1a1a1a" stroke="#1a1a1a" stroke-width="0.22">PLT day24</text>
<text transform="translate(358.40,223.70) rotate(-90)" x="0" y="0" font-size="9.0" text-anchor="middle" font-weight="normal" fill="#1a1a1a" textLength="45.8" lengthAdjust="spacingAndGlyphs" stroke="#1a1a1a" stroke-width="0.4">PLT (× 10<tspan baseline-shift="super" font-size="5.5">3</tspan>/μL)</text>
<line x1="394.60" y1="221.50" x2="422.60" y2="221.50" stroke="#c8102e" stroke-width="1.0"/>
<line x1="408.60" y1="216.50" x2="408.60" y2="226.20" stroke="#c8102e" stroke-width="1.0"/>
<line x1="404.90" y1="216.50" x2="412.30" y2="216.50" stroke="#c8102e" stroke-width="1.0"/>
<line x1="404.90" y1="226.20" x2="412.30" y2="226.20" stroke="#c8102e" stroke-width="1.0"/>
<circle cx="408.60" cy="212.20" r="1.4" fill="#c8102e"/>
<circle cx="403.50" cy="219.30" r="1.4" fill="#c8102e"/>
<circle cx="413.50" cy="217.60" r="1.4" fill="#c8102e"/>
<circle cx="408.60" cy="220.00" r="1.4" fill="#c8102e"/>
<circle cx="408.60" cy="240.10" r="1.4" fill="#c8102e"/>
<line x1="434.30" y1="220.40" x2="462.30" y2="220.40" stroke="#c8102e" stroke-width="1.0"/>
<line x1="448.30" y1="212.20" x2="448.30" y2="228.50" stroke="#c8102e" stroke-width="1.0"/>
<line x1="444.60" y1="212.20" x2="452.00" y2="212.20" stroke="#c8102e" stroke-width="1.0"/>
<line x1="444.60" y1="228.50" x2="452.00" y2="228.50" stroke="#c8102e" stroke-width="1.0"/>
<circle cx="445.80" cy="199.20" r="1.4" fill="#c8102e"/>
<circle cx="450.50" cy="202.70" r="1.4" fill="#c8102e"/>
<circle cx="448.30" cy="227.30" r="1.4" fill="#c8102e"/>
<circle cx="448.30" cy="233.00" r="1.4" fill="#c8102e"/>
<circle cx="448.30" cy="240.10" r="1.4" fill="#c8102e"/>
<line x1="474.00" y1="214.70" x2="502.00" y2="214.70" stroke="#c8102e" stroke-width="1.0"/>
<line x1="488.00" y1="203.90" x2="488.00" y2="225.30" stroke="#c8102e" stroke-width="1.0"/>
<line x1="484.30" y1="203.90" x2="491.70" y2="203.90" stroke="#c8102e" stroke-width="1.0"/>
<line x1="484.30" y1="225.30" x2="491.70" y2="225.30" stroke="#c8102e" stroke-width="1.0"/>
<circle cx="488.00" cy="200.70" r="1.4" fill="#c8102e"/>
<circle cx="488.00" cy="206.80" r="1.4" fill="#c8102e"/>
<circle cx="483.40" cy="220.70" r="1.4" fill="#c8102e"/>
<circle cx="492.80" cy="220.70" r="1.4" fill="#c8102e"/>
<circle cx="488.00" cy="225.30" r="1.4" fill="#c8102e"/>
<text transform="translate(11.90,299.40)" x="0" y="3.94" font-size="11.0" text-anchor="middle" font-weight="bold" fill="#000" stroke="#000" stroke-width="0.22">D</text>
<line x1="46.80" y1="316.60" x2="46.80" y2="402.50" stroke="#3a3a3a" stroke-width="1.0"/>
<line x1="46.30" y1="402.00" x2="176.00" y2="402.00" stroke="#3a3a3a" stroke-width="1.0"/>
<line x1="44.10" y1="401.85" x2="46.80" y2="401.85" stroke="#3a3a3a" stroke-width="1.0"/>
<text transform="translate(41.20,401.85)" x="0" y="2.65" font-size="7.4" text-anchor="end" font-weight="normal" fill="#1a1a1a" letter-spacing="0.3" stroke="#1a1a1a" stroke-width="0.22">18</text>
<line x1="44.10" y1="384.80" x2="46.80" y2="384.80" stroke="#3a3a3a" stroke-width="1.0"/>
<text transform="translate(41.20,384.80)" x="0" y="2.65" font-size="7.4" text-anchor="end" font-weight="normal" fill="#1a1a1a" letter-spacing="0.3" stroke="#1a1a1a" stroke-width="0.22">20</text>
<line x1="44.10" y1="367.75" x2="46.80" y2="367.75" stroke="#3a3a3a" stroke-width="1.0"/>
<text transform="translate(41.20,367.75)" x="0" y="2.65" font-size="7.4" text-anchor="end" font-weight="normal" fill="#1a1a1a" letter-spacing="0.3" stroke="#1a1a1a" stroke-width="0.22">22</text>
<line x1="44.10" y1="350.70" x2="46.80" y2="350.70" stroke="#3a3a3a" stroke-width="1.0"/>
<text transform="translate(41.20,350.70)" x="0" y="2.65" font-size="7.4" text-anchor="end" font-weight="normal" fill="#1a1a1a" letter-spacing="0.3" stroke="#1a1a1a" stroke-width="0.22">24</text>
<line x1="44.10" y1="333.65" x2="46.80" y2="333.65" stroke="#3a3a3a" stroke-width="1.0"/>
<text transform="translate(41.20,333.65)" x="0" y="2.65" font-size="7.4" text-anchor="end" font-weight="normal" fill="#1a1a1a" letter-spacing="0.3" stroke="#1a1a1a" stroke-width="0.22">26</text>
<line x1="44.10" y1="316.60" x2="46.80" y2="316.60" stroke="#3a3a3a" stroke-width="1.0"/>
<text transform="translate(41.20,316.60)" x="0" y="2.65" font-size="7.4" text-anchor="end" font-weight="normal" fill="#1a1a1a" letter-spacing="0.3" stroke="#1a1a1a" stroke-width="0.22">28</text>
<line x1="68.60" y1="402.00" x2="68.60" y2="404.20" stroke="#3a3a3a" stroke-width="0.8"/>
<line x1="111.40" y1="402.00" x2="111.40" y2="404.20" stroke="#3a3a3a" stroke-width="0.8"/>
<line x1="154.30" y1="402.00" x2="154.30" y2="404.20" stroke="#3a3a3a" stroke-width="0.8"/>
<text transform="translate(68.60,410.90)" x="0" y="2.76" font-size="7.7" text-anchor="middle" font-weight="normal" fill="#1a1a1a" stroke="#1a1a1a" stroke-width="0.22">PBS</text>
<text transform="translate(111.40,410.90)" x="0" y="2.76" font-size="7.7" text-anchor="middle" font-weight="normal" fill="#1a1a1a" stroke="#1a1a1a" stroke-width="0.22">BBM50</text>
<text transform="translate(154.30,410.90)" x="0" y="2.76" font-size="7.7" text-anchor="middle" font-weight="normal" fill="#1a1a1a" stroke="#1a1a1a" stroke-width="0.22">BBM100</text>
<text transform="translate(111.45,423.80)" x="0" y="0" font-size="9.3" text-anchor="middle" font-weight="bold" fill="#1a1a1a" textLength="16.7" lengthAdjust="spacingAndGlyphs" stroke="#1a1a1a" stroke-width="0.1">Group</text>
<text transform="translate(111.30,304.50)" x="0" y="2.76" font-size="7.7" text-anchor="middle" font-weight="normal" fill="#1a1a1a" stroke="#1a1a1a" stroke-width="0.22">Spleen length</text>
<text transform="translate(26.20,359.50) rotate(-90)" x="0" y="0" font-size="9.0" text-anchor="middle" font-weight="normal" fill="#1a1a1a" textLength="37.3" lengthAdjust="spacingAndGlyphs" stroke="#1a1a1a" stroke-width="0.4">Length (mm)</text>
<line x1="54.90" y1="333.60" x2="82.90" y2="333.60" stroke="#c8102e" stroke-width="1.0"/>
<line x1="68.90" y1="328.40" x2="68.90" y2="338.30" stroke="#c8102e" stroke-width="1.0"/>
<line x1="65.20" y1="328.40" x2="72.60" y2="328.40" stroke="#c8102e" stroke-width="1.0"/>
<line x1="65.20" y1="338.30" x2="72.60" y2="338.30" stroke="#c8102e" stroke-width="1.0"/>
<circle cx="68.90" cy="324.80" r="1.4" fill="#c8102e"/>
<circle cx="68.90" cy="333.60" r="1.4" fill="#c8102e"/>
<circle cx="68.90" cy="342.10" r="1.4" fill="#c8102e"/>
<line x1="97.40" y1="345.10" x2="125.40" y2="345.10" stroke="#c8102e" stroke-width="1.0"/>
<line x1="111.40" y1="332.30" x2="111.40" y2="357.30" stroke="#c8102e" stroke-width="1.0"/>
<line x1="107.70" y1="332.30" x2="115.10" y2="332.30" stroke="#c8102e" stroke-width="1.0"/>
<line x1="107.70" y1="357.30" x2="115.10" y2="357.30" stroke="#c8102e" stroke-width="1.0"/>
<circle cx="111.40" cy="324.90" r="1.4" fill="#c8102e"/>
<circle cx="111.40" cy="341.70" r="1.4" fill="#c8102e"/>
<circle cx="111.40" cy="367.80" r="1.4" fill="#c8102e"/>
<line x1="140.30" y1="376.30" x2="168.30" y2="376.30" stroke="#c8102e" stroke-width="1.0"/>
<line x1="154.30" y1="366.30" x2="154.30" y2="386.20" stroke="#c8102e" stroke-width="1.0"/>
<line x1="150.60" y1="366.30" x2="158.00" y2="366.30" stroke="#c8102e" stroke-width="1.0"/>
<line x1="150.60" y1="386.20" x2="158.00" y2="386.20" stroke="#c8102e" stroke-width="1.0"/>
<circle cx="154.30" cy="359.30" r="1.4" fill="#c8102e"/>
<circle cx="154.30" cy="376.30" r="1.4" fill="#c8102e"/>
<circle cx="154.30" cy="393.60" r="1.4" fill="#c8102e"/>
<line x1="72.30" y1="318.20" x2="152.30" y2="318.20" stroke="#111" stroke-width="1.0"/>
<circle cx="112.30" cy="314.20" r="1.0" fill="#222"/>
<line x1="214.20" y1="320.00" x2="214.20" y2="402.10" stroke="#3a3a3a" stroke-width="1.0"/>
<line x1="213.70" y1="401.60" x2="337.90" y2="401.60" stroke="#3a3a3a" stroke-width="1.0"/>
<line x1="211.50" y1="401.60" x2="214.20" y2="401.60" stroke="#3a3a3a" stroke-width="1.0"/>
<text transform="translate(208.60,401.60)" x="0" y="2.65" font-size="7.4" text-anchor="end" font-weight="normal" fill="#1a1a1a" letter-spacing="0.3" stroke="#1a1a1a" stroke-width="0.22">0.0</text>
<line x1="211.50" y1="385.30" x2="214.20" y2="385.30" stroke="#3a3a3a" stroke-width="1.0"/>
<text transform="translate(208.60,385.30)" x="0" y="2.65" font-size="7.4" text-anchor="end" font-weight="normal" fill="#1a1a1a" letter-spacing="0.3" stroke="#1a1a1a" stroke-width="0.22">0.1</text>
<line x1="211.50" y1="369.00" x2="214.20" y2="369.00" stroke="#3a3a3a" stroke-width="1.0"/>
<text transform="translate(208.60,369.00)" x="0" y="2.65" font-size="7.4" text-anchor="end" font-weight="normal" fill="#1a1a1a" letter-spacing="0.3" stroke="#1a1a1a" stroke-width="0.22">0.2</text>
<line x1="211.50" y1="352.70" x2="214.20" y2="352.70" stroke="#3a3a3a" stroke-width="1.0"/>
<text transform="translate(208.60,352.70)" x="0" y="2.65" font-size="7.4" text-anchor="end" font-weight="normal" fill="#1a1a1a" letter-spacing="0.3" stroke="#1a1a1a" stroke-width="0.22">0.3</text>
<line x1="211.50" y1="336.40" x2="214.20" y2="336.40" stroke="#3a3a3a" stroke-width="1.0"/>
<text transform="translate(208.60,336.40)" x="0" y="2.65" font-size="7.4" text-anchor="end" font-weight="normal" fill="#1a1a1a" letter-spacing="0.3" stroke="#1a1a1a" stroke-width="0.22">0.4</text>
<line x1="211.50" y1="320.10" x2="214.20" y2="320.10" stroke="#3a3a3a" stroke-width="1.0"/>
<text transform="translate(208.60,320.10)" x="0" y="2.65" font-size="7.4" text-anchor="end" font-weight="normal" fill="#1a1a1a" letter-spacing="0.3" stroke="#1a1a1a" stroke-width="0.22">0.5</text>
<line x1="234.70" y1="401.60" x2="234.70" y2="403.80" stroke="#3a3a3a" stroke-width="0.8"/>
<line x1="275.70" y1="401.60" x2="275.70" y2="403.80" stroke="#3a3a3a" stroke-width="0.8"/>
<line x1="317.20" y1="401.60" x2="317.20" y2="403.80" stroke="#3a3a3a" stroke-width="0.8"/>
<text transform="translate(234.70,410.90)" x="0" y="2.76" font-size="7.7" text-anchor="middle" font-weight="normal" fill="#1a1a1a" stroke="#1a1a1a" stroke-width="0.22">PBS</text>
<text transform="translate(275.70,410.90)" x="0" y="2.76" font-size="7.7" text-anchor="middle" font-weight="normal" fill="#1a1a1a" stroke="#1a1a1a" stroke-width="0.22">BBM50</text>
<text transform="translate(317.20,410.90)" x="0" y="2.76" font-size="7.7" text-anchor="middle" font-weight="normal" fill="#1a1a1a" stroke="#1a1a1a" stroke-width="0.22">BBM100</text>
<text transform="translate(275.90,423.80)" x="0" y="0" font-size="9.3" text-anchor="middle" font-weight="bold" fill="#1a1a1a" textLength="16.1" lengthAdjust="spacingAndGlyphs" stroke="#1a1a1a" stroke-width="0.1">Group</text>
<text transform="translate(276.00,305.60)" x="0" y="2.76" font-size="7.7" text-anchor="middle" font-weight="normal" fill="#1a1a1a" stroke="#1a1a1a" stroke-width="0.22">Spleen weight</text>
<text transform="translate(190.90,361.00) rotate(-90)" x="0" y="0" font-size="9.0" text-anchor="middle" font-weight="normal" fill="#1a1a1a" textLength="30.7" lengthAdjust="spacingAndGlyphs" stroke="#1a1a1a" stroke-width="0.4">Weight (g)</text>
<line x1="220.70" y1="339.20" x2="248.70" y2="339.20" stroke="#c8102e" stroke-width="1.0"/>
<line x1="234.70" y1="335.80" x2="234.70" y2="342.30" stroke="#c8102e" stroke-width="1.0"/>
<line x1="231.00" y1="335.80" x2="238.40" y2="335.80" stroke="#c8102e" stroke-width="1.0"/>
<line x1="231.00" y1="342.30" x2="238.40" y2="342.30" stroke="#c8102e" stroke-width="1.0"/>
<circle cx="231.60" cy="333.80" r="1.4" fill="#c8102e"/>
<circle cx="237.30" cy="338.50" r="1.4" fill="#c8102e"/>
<circle cx="234.70" cy="345.10" r="1.4" fill="#c8102e"/>
<line x1="261.70" y1="344.60" x2="289.70" y2="344.60" stroke="#c8102e" stroke-width="1.0"/>
<line x1="275.70" y1="334.90" x2="275.70" y2="355.10" stroke="#c8102e" stroke-width="1.0"/>
<line x1="272.00" y1="334.90" x2="279.40" y2="334.90" stroke="#c8102e" stroke-width="1.0"/>
<line x1="272.00" y1="355.10" x2="279.40" y2="355.10" stroke="#c8102e" stroke-width="1.0"/>
<circle cx="275.70" cy="326.50" r="1.4" fill="#c8102e"/>
<circle cx="275.70" cy="346.90" r="1.4" fill="#c8102e"/>
<circle cx="275.70" cy="360.50" r="1.4" fill="#c8102e"/>
<line x1="303.20" y1="354.60" x2="331.20" y2="354.60" stroke="#c8102e" stroke-width="1.0"/>
<line x1="317.20" y1="351.20" x2="317.20" y2="358.00" stroke="#c8102e" stroke-width="1.0"/>
<line x1="313.50" y1="351.20" x2="320.90" y2="351.20" stroke="#c8102e" stroke-width="1.0"/>
<line x1="313.50" y1="358.00" x2="320.90" y2="358.00" stroke="#c8102e" stroke-width="1.0"/>
<circle cx="314.30" cy="349.70" r="1.4" fill="#c8102e"/>
<circle cx="319.50" cy="351.50" r="1.4" fill="#c8102e"/>
<circle cx="317.20" cy="361.20" r="1.4" fill="#c8102e"/>
<line x1="388.20" y1="319.50" x2="388.20" y2="402.50" stroke="#3a3a3a" stroke-width="1.0"/>
<line x1="387.70" y1="402.00" x2="512.00" y2="402.00" stroke="#3a3a3a" stroke-width="1.0"/>
<line x1="385.50" y1="402.00" x2="388.20" y2="402.00" stroke="#3a3a3a" stroke-width="1.0"/>
<text transform="translate(382.60,402.00)" x="0" y="2.65" font-size="7.4" text-anchor="end" font-weight="normal" fill="#1a1a1a" letter-spacing="0.3" stroke="#1a1a1a" stroke-width="0.22">2.0</text>
<line x1="385.50" y1="381.38" x2="388.20" y2="381.38" stroke="#3a3a3a" stroke-width="1.0"/>
<text transform="translate(382.60,381.38)" x="0" y="2.65" font-size="7.4" text-anchor="end" font-weight="normal" fill="#1a1a1a" letter-spacing="0.3" stroke="#1a1a1a" stroke-width="0.22">2.5</text>
<line x1="385.50" y1="360.75" x2="388.20" y2="360.75" stroke="#3a3a3a" stroke-width="1.0"/>
<text transform="translate(382.60,360.75)" x="0" y="2.65" font-size="7.4" text-anchor="end" font-weight="normal" fill="#1a1a1a" letter-spacing="0.3" stroke="#1a1a1a" stroke-width="0.22">3.0</text>
<line x1="385.50" y1="340.12" x2="388.20" y2="340.12" stroke="#3a3a3a" stroke-width="1.0"/>
<text transform="translate(382.60,340.12)" x="0" y="2.65" font-size="7.4" text-anchor="end" font-weight="normal" fill="#1a1a1a" letter-spacing="0.3" stroke="#1a1a1a" stroke-width="0.22">3.5</text>
<line x1="385.50" y1="319.50" x2="388.20" y2="319.50" stroke="#3a3a3a" stroke-width="1.0"/>
<text transform="translate(382.60,319.50)" x="0" y="2.65" font-size="7.4" text-anchor="end" font-weight="normal" fill="#1a1a1a" letter-spacing="0.3" stroke="#1a1a1a" stroke-width="0.22">4.0</text>
<line x1="409.20" y1="402.00" x2="409.20" y2="404.20" stroke="#3a3a3a" stroke-width="0.8"/>
<line x1="450.50" y1="402.00" x2="450.50" y2="404.20" stroke="#3a3a3a" stroke-width="0.8"/>
<line x1="491.50" y1="402.00" x2="491.50" y2="404.20" stroke="#3a3a3a" stroke-width="0.8"/>
<text transform="translate(409.20,410.90)" x="0" y="2.76" font-size="7.7" text-anchor="middle" font-weight="normal" fill="#1a1a1a" stroke="#1a1a1a" stroke-width="0.22">PBS</text>
<text transform="translate(450.50,410.90)" x="0" y="2.76" font-size="7.7" text-anchor="middle" font-weight="normal" fill="#1a1a1a" stroke="#1a1a1a" stroke-width="0.22">BBM50</text>
<text transform="translate(491.50,410.90)" x="0" y="2.76" font-size="7.7" text-anchor="middle" font-weight="normal" fill="#1a1a1a" stroke="#1a1a1a" stroke-width="0.22">BBM100</text>
<text transform="translate(450.45,423.80)" x="0" y="0" font-size="9.3" text-anchor="middle" font-weight="bold" fill="#1a1a1a" textLength="16.5" lengthAdjust="spacingAndGlyphs" stroke="#1a1a1a" stroke-width="0.1">Group</text>
<text transform="translate(450.60,306.60)" x="0" y="2.76" font-size="7.7" text-anchor="middle" font-weight="normal" fill="#1a1a1a" stroke="#1a1a1a" stroke-width="0.22">Liver weight</text>
<text transform="translate(365.80,361.00) rotate(-90)" x="0" y="0" font-size="9.0" text-anchor="middle" font-weight="normal" fill="#1a1a1a" textLength="30.6" lengthAdjust="spacingAndGlyphs" stroke="#1a1a1a" stroke-width="0.4">Weight (g)</text>
<line x1="395.20" y1="367.40" x2="423.20" y2="367.40" stroke="#c8102e" stroke-width="1.0"/>
<line x1="409.20" y1="364.20" x2="409.20" y2="370.30" stroke="#c8102e" stroke-width="1.0"/>
<line x1="405.50" y1="364.20" x2="412.90" y2="364.20" stroke="#c8102e" stroke-width="1.0"/>
<line x1="405.50" y1="370.30" x2="412.90" y2="370.30" stroke="#c8102e" stroke-width="1.0"/>
<circle cx="406.60" cy="363.10" r="1.4" fill="#c8102e"/>
<circle cx="412.00" cy="366.90" r="1.4" fill="#c8102e"/>
<circle cx="409.20" cy="373.40" r="1.4" fill="#c8102e"/>
<line x1="436.50" y1="376.90" x2="464.50" y2="376.90" stroke="#c8102e" stroke-width="1.0"/>
<line x1="450.50" y1="366.50" x2="450.50" y2="388.20" stroke="#c8102e" stroke-width="1.0"/>
<line x1="446.80" y1="366.50" x2="454.20" y2="366.50" stroke="#c8102e" stroke-width="1.0"/>
<line x1="446.80" y1="388.20" x2="454.20" y2="388.20" stroke="#c8102e" stroke-width="1.0"/>
<circle cx="450.50" cy="356.90" r="1.4" fill="#c8102e"/>
<circle cx="450.50" cy="381.50" r="1.4" fill="#c8102e"/>
<circle cx="450.50" cy="393.50" r="1.4" fill="#c8102e"/>
<line x1="477.50" y1="374.60" x2="505.50" y2="374.60" stroke="#c8102e" stroke-width="1.0"/>
<line x1="491.50" y1="359.70" x2="491.50" y2="389.70" stroke="#c8102e" stroke-width="1.0"/>
<line x1="487.80" y1="359.70" x2="495.20" y2="359.70" stroke="#c8102e" stroke-width="1.0"/>
<line x1="487.80" y1="389.70" x2="495.20" y2="389.70" stroke="#c8102e" stroke-width="1.0"/>
<circle cx="491.50" cy="345.70" r="1.4" fill="#c8102e"/>
<circle cx="491.50" cy="381.50" r="1.4" fill="#c8102e"/>
<circle cx="491.50" cy="397.40" r="1.4" fill="#c8102e"/>
<text transform="translate(11.30,447.85)" x="0" y="3.94" font-size="11.0" text-anchor="middle" font-weight="bold" fill="#000" stroke="#000" stroke-width="0.22">E</text>
<text transform="translate(188.50,440.40)" x="0" y="2.72" font-size="7.6" text-anchor="middle" font-weight="bold" fill="#000" stroke="#000" stroke-width="0.22">Peripheral blood day24</text>
<text transform="translate(105.60,456.00)" x="0" y="2.79" font-size="7.8" text-anchor="middle" font-weight="normal" fill="#1a1a1a" stroke="#1a1a1a" stroke-width="0.22">PBS</text>
<path d="M74.2,557.5 L73.5,557.5 L72.8,557.6 L72.0,557.5 L71.2,557.5 L70.5,557.5 L70.0,557.5 L69.2,557.4 L68.5,557.4 L67.8,557.3 L67.2,557.2 L66.5,557.1 L66.0,557.0 L65.2,556.9 L64.7,556.8 L64.0,556.6 L63.5,556.5 L62.8,556.3 L62.2,556.1 L61.8,556.0 L61.0,555.8 L60.5,555.6 L60.0,555.4 L59.5,555.2 L59.0,555.0 L58.4,554.8 L57.9,554.5 L57.4,554.2 L56.9,554.0 L56.4,553.8 L56.0,553.5 L55.5,553.2 L55.0,552.9 L54.5,552.5 L54.1,552.2 L53.8,552.0 L53.2,551.6 L52.9,551.2 L52.5,550.9 L52.1,550.5 L51.8,550.1 L51.4,549.8 L51.1,549.2 L50.8,548.8 L50.5,548.3 L50.2,547.8 L50.0,547.2 L49.9,546.8 L49.8,546.0 L49.8,545.2 L49.9,544.5 L50.0,544.0 L50.2,543.5 L50.5,543.0 L50.8,542.5 L51.2,542.0 L51.5,541.6 L51.8,541.2 L52.2,540.9 L52.7,540.5 L53.0,540.2 L53.5,539.9 L54.0,539.5 L54.4,539.2 L54.8,539.0 L55.3,538.8 L55.8,538.5 L56.2,538.2 L56.8,538.0 L57.3,537.8 L57.9,537.5 L58.5,537.3 L59.0,537.1 L59.5,536.9 L60.0,536.7 L60.8,536.5 L61.2,536.4 L61.8,536.2 L62.5,536.0 L63.0,535.9 L63.7,535.8 L64.2,535.6 L65.0,535.5 L65.5,535.4 L66.2,535.3 L66.8,535.2 L67.5,535.1 L68.2,535.0 L68.8,535.0 L69.5,534.9 L70.2,534.9 L71.0,534.8 L71.8,534.8 L72.5,534.8 L73.2,534.8 L74.0,534.8 L74.8,534.8 L75.5,534.8 L76.2,534.9 L77.0,534.9 L77.8,535.0 L78.2,535.0 L79.0,535.1 L79.8,535.2 L80.2,535.3 L81.0,535.4 L81.8,535.5 L82.2,535.6 L83.0,535.7 L83.5,535.8 L84.2,536.0 L84.8,536.1 L85.4,536.2 L86.0,536.4 L86.5,536.5 L87.2,536.7 L87.8,536.9 L88.2,537.0 L88.9,537.2 L89.5,537.5 L90.0,537.6 L90.5,537.8 L91.0,538.0 L91.6,538.2 L92.2,538.5 L92.8,538.7 L93.2,538.9 L93.8,539.1 L94.2,539.3 L94.8,539.5 L95.4,539.8 L96.0,539.9 L96.5,540.1 L97.1,540.2 L97.8,540.4 L98.2,540.5 L99.0,540.7 L99.5,540.8 L100.2,541.0 L100.8,541.1 L101.4,541.2 L102.0,541.4 L102.5,541.5 L103.2,541.8 L103.8,541.9 L104.2,542.1 L104.8,542.3 L105.2,542.6 L105.8,542.9 L106.2,543.2 L106.7,543.5 L107.0,543.8 L107.5,544.2 L107.8,544.5 L108.1,545.0 L108.3,545.5 L108.5,546.2 L108.6,546.8 L108.5,547.2 L108.3,548.0 L108.0,548.5 L107.8,548.8 L107.4,549.2 L107.0,549.6 L106.5,550.0 L106.1,550.2 L105.7,550.5 L105.2,550.8 L104.6,551.0 L104.0,551.2 L103.5,551.4 L103.0,551.6 L102.2,551.7 L101.8,551.8 L101.0,552.0 L100.5,552.1 L99.8,552.2 L99.1,552.2 L98.5,552.3 L97.8,552.4 L97.0,552.5 L96.5,552.5 L95.8,552.6 L95.0,552.7 L94.5,552.8 L93.8,552.9 L93.1,553.0 L92.5,553.1 L91.9,553.2 L91.2,553.4 L90.8,553.6 L90.2,553.8 L89.5,554.0 L89.0,554.2 L88.5,554.4 L88.0,554.5 L87.4,554.8 L86.8,555.0 L86.2,555.2 L85.8,555.3 L85.2,555.5 L84.5,555.7 L84.0,555.9 L83.5,556.0 L82.8,556.2 L82.2,556.4 L81.6,556.5 L81.0,556.6 L80.5,556.8 L79.8,556.9 L79.1,557.0 L78.5,557.1 L77.8,557.2 L77.2,557.3 L76.5,557.3 L75.8,557.4 L75.0,557.5 L74.4,557.5 Z" fill="none" stroke="#404040" stroke-width="0.5"/>
<path d="M75.8,556.0 L75.0,556.1 L74.2,556.1 L73.5,556.2 L72.8,556.2 L72.0,556.2 L71.2,556.1 L70.5,556.1 L69.8,556.1 L69.2,556.0 L68.5,555.9 L67.8,555.8 L67.2,555.7 L66.5,555.6 L65.9,555.5 L65.2,555.4 L64.8,555.2 L64.0,555.0 L63.5,554.9 L63.0,554.7 L62.3,554.5 L61.8,554.3 L61.2,554.1 L60.8,553.9 L60.2,553.6 L59.8,553.4 L59.2,553.1 L58.8,552.8 L58.2,552.5 L57.8,552.2 L57.4,552.0 L57.0,551.7 L56.5,551.2 L56.2,551.0 L55.8,550.5 L55.5,550.2 L55.1,549.8 L54.8,549.3 L54.5,548.9 L54.2,548.5 L54.0,547.9 L53.8,547.2 L53.7,546.8 L53.7,546.0 L53.7,545.2 L53.8,544.8 L54.0,544.2 L54.2,543.7 L54.5,543.2 L54.8,542.8 L55.2,542.2 L55.5,542.0 L56.0,541.5 L56.3,541.2 L56.8,540.8 L57.2,540.5 L57.6,540.2 L58.0,540.0 L58.5,539.7 L59.0,539.4 L59.5,539.2 L60.0,538.9 L60.5,538.7 L61.0,538.5 L61.7,538.2 L62.2,538.1 L62.8,537.9 L63.2,537.7 L64.0,537.5 L64.5,537.4 L65.2,537.2 L65.8,537.1 L66.4,537.0 L67.0,536.9 L67.8,536.8 L68.2,536.7 L69.0,536.6 L69.8,536.6 L70.5,536.5 L71.0,536.5 L71.8,536.4 L72.5,536.4 L73.2,536.4 L74.0,536.4 L74.8,536.5 L75.5,536.5 L76.0,536.5 L76.8,536.6 L77.5,536.7 L78.1,536.8 L78.8,536.8 L79.5,537.0 L80.0,537.0 L80.8,537.2 L81.2,537.3 L82.0,537.5 L82.5,537.6 L83.1,537.8 L83.8,537.9 L84.2,538.1 L84.8,538.2 L85.5,538.5 L86.0,538.7 L86.5,538.8 L87.0,539.0 L87.6,539.2 L88.2,539.5 L88.8,539.7 L89.2,539.9 L89.8,540.1 L90.2,540.3 L91.0,540.5 L91.5,540.6 L92.0,540.8 L92.8,541.0 L93.2,541.1 L94.0,541.2 L94.5,541.3 L95.2,541.4 L95.8,541.5 L96.5,541.6 L97.2,541.7 L97.8,541.8 L98.5,541.9 L99.1,542.0 L99.8,542.1 L100.5,542.2 L101.0,542.3 L101.6,542.5 L102.2,542.7 L102.8,542.8 L103.2,543.0 L103.9,543.2 L104.4,543.5 L104.8,543.8 L105.2,544.0 L105.8,544.4 L106.1,544.8 L106.5,545.2 L106.7,545.8 L106.9,546.2 L106.9,547.0 L106.8,547.6 L106.5,548.1 L106.2,548.5 L105.8,549.0 L105.5,549.2 L105.0,549.6 L104.5,549.9 L104.0,550.1 L103.5,550.3 L103.0,550.5 L102.2,550.7 L101.8,550.8 L101.0,551.0 L100.5,551.1 L99.8,551.2 L99.2,551.3 L98.5,551.3 L97.8,551.4 L97.0,551.5 L96.5,551.5 L95.8,551.6 L95.0,551.6 L94.2,551.7 L93.5,551.7 L93.0,551.8 L92.2,551.9 L91.5,552.0 L91.0,552.1 L90.2,552.2 L89.8,552.3 L89.0,552.5 L88.5,552.6 L88.0,552.8 L87.3,553.0 L86.8,553.2 L86.2,553.4 L85.8,553.6 L85.2,553.8 L84.5,554.0 L84.0,554.2 L83.5,554.3 L83.0,554.5 L82.2,554.7 L81.8,554.9 L81.2,555.0 L80.5,555.2 L80.0,555.3 L79.2,555.5 L78.8,555.6 L78.0,555.7 L77.5,555.8 L76.8,555.9 L76.0,556.0 Z" fill="none" stroke="#404040" stroke-width="0.5"/>
<path d="M74.8,555.0 L74.0,555.1 L73.2,555.1 L72.5,555.1 L71.8,555.1 L71.0,555.1 L70.2,555.0 L69.8,555.0 L69.0,554.9 L68.2,554.8 L67.8,554.7 L67.0,554.6 L66.5,554.5 L65.8,554.3 L65.2,554.2 L64.7,554.0 L64.0,553.8 L63.5,553.6 L63.0,553.4 L62.5,553.2 L62.0,553.0 L61.5,552.8 L61.0,552.5 L60.5,552.2 L60.0,551.9 L59.5,551.6 L59.1,551.2 L58.8,551.0 L58.2,550.5 L58.0,550.2 L57.5,549.8 L57.2,549.4 L57.0,549.0 L56.7,548.5 L56.4,548.0 L56.2,547.4 L56.1,546.8 L56.1,546.0 L56.2,545.2 L56.3,544.8 L56.5,544.2 L56.8,543.8 L57.1,543.2 L57.5,542.8 L57.8,542.5 L58.2,542.0 L58.5,541.8 L59.0,541.4 L59.5,541.0 L59.9,540.8 L60.3,540.5 L60.8,540.2 L61.3,540.0 L61.8,539.8 L62.4,539.5 L63.0,539.3 L63.5,539.1 L64.0,538.9 L64.6,538.8 L65.2,538.6 L65.8,538.4 L66.5,538.3 L67.0,538.2 L67.8,538.0 L68.2,538.0 L69.0,537.9 L69.8,537.8 L70.2,537.7 L71.0,537.7 L71.8,537.6 L72.5,537.6 L73.2,537.6 L74.0,537.6 L74.8,537.7 L75.5,537.7 L76.0,537.8 L76.8,537.8 L77.5,537.9 L78.0,538.0 L78.8,538.1 L79.4,538.2 L80.0,538.4 L80.6,538.5 L81.2,538.7 L81.8,538.8 L82.4,539.0 L83.0,539.2 L83.5,539.3 L84.0,539.5 L84.7,539.8 L85.2,539.9 L85.8,540.1 L86.2,540.3 L86.8,540.5 L87.5,540.7 L88.0,540.9 L88.5,541.0 L89.2,541.2 L89.8,541.3 L90.4,541.5 L91.0,541.6 L91.7,541.8 L92.2,541.8 L93.0,542.0 L93.5,542.0 L94.2,542.1 L95.0,542.2 L95.5,542.3 L96.2,542.4 L97.0,542.5 L97.5,542.6 L98.2,542.7 L98.9,542.8 L99.5,542.8 L100.2,543.0 L100.8,543.1 L101.3,543.2 L102.0,543.4 L102.5,543.6 L103.0,543.8 L103.5,544.1 L104.0,544.4 L104.5,544.7 L104.8,545.0 L105.2,545.5 L105.5,546.0 L105.6,546.5 L105.6,547.2 L105.4,547.8 L105.0,548.2 L104.8,548.5 L104.2,549.0 L103.8,549.2 L103.3,549.5 L102.8,549.7 L102.2,549.9 L101.8,550.1 L101.0,550.2 L100.5,550.3 L99.8,550.5 L99.2,550.5 L98.5,550.6 L97.8,550.7 L97.1,550.8 L96.5,550.8 L95.8,550.8 L95.0,550.9 L94.2,550.9 L93.5,551.0 L93.0,551.0 L92.2,551.1 L91.5,551.2 L90.9,551.2 L90.2,551.3 L89.5,551.5 L89.0,551.5 L88.2,551.7 L87.8,551.8 L87.0,552.0 L86.5,552.1 L86.0,552.3 L85.2,552.5 L84.8,552.7 L84.2,552.8 L83.7,553.0 L83.0,553.2 L82.5,553.4 L82.0,553.6 L81.4,553.8 L80.8,553.9 L80.2,554.1 L79.6,554.2 L79.0,554.4 L78.4,554.5 L77.8,554.6 L77.0,554.7 L76.5,554.8 L75.8,554.9 L75.0,555.0 Z" fill="none" stroke="#404040" stroke-width="0.5"/>
<path d="M72.8,554.3 L72.0,554.2 L71.5,554.2 L70.8,554.2 L70.0,554.1 L69.2,554.1 L68.8,554.0 L68.0,553.9 L67.4,553.8 L66.8,553.6 L66.2,553.5 L65.5,553.3 L65.0,553.1 L64.5,553.0 L64.0,552.8 L63.4,552.5 L62.8,552.2 L62.3,552.0 L61.9,551.8 L61.5,551.5 L61.0,551.2 L60.5,550.8 L60.1,550.5 L59.8,550.2 L59.3,549.8 L59.0,549.4 L58.7,549.0 L58.4,548.5 L58.2,548.0 L58.0,547.4 L57.9,546.8 L57.9,546.0 L58.0,545.2 L58.1,544.8 L58.4,544.2 L58.7,543.8 L59.0,543.3 L59.3,543.0 L59.8,542.5 L60.0,542.2 L60.5,541.9 L61.0,541.5 L61.4,541.2 L61.9,541.0 L62.3,540.8 L62.8,540.5 L63.4,540.2 L64.0,540.0 L64.5,539.8 L65.0,539.7 L65.6,539.5 L66.2,539.3 L66.8,539.2 L67.5,539.0 L68.0,538.9 L68.8,538.8 L69.2,538.7 L70.0,538.7 L70.8,538.6 L71.5,538.6 L72.2,538.5 L73.0,538.5 L73.8,538.5 L74.5,538.6 L75.2,538.6 L76.0,538.7 L76.6,538.8 L77.2,538.8 L78.0,539.0 L78.5,539.1 L79.2,539.2 L79.8,539.3 L80.5,539.5 L81.0,539.6 L81.5,539.8 L82.2,540.0 L82.8,540.1 L83.2,540.3 L83.9,540.5 L84.5,540.7 L85.0,540.9 L85.5,541.0 L86.2,541.2 L86.8,541.4 L87.2,541.5 L88.0,541.7 L88.5,541.8 L89.2,542.0 L89.8,542.1 L90.5,542.2 L91.0,542.3 L91.8,542.4 L92.4,542.5 L93.0,542.6 L93.8,542.7 L94.3,542.8 L95.0,542.8 L95.8,542.9 L96.4,543.0 L97.0,543.1 L97.8,543.2 L98.3,543.2 L99.0,543.4 L99.8,543.5 L100.2,543.6 L100.8,543.8 L101.5,544.0 L102.0,544.1 L102.5,544.4 L103.0,544.6 L103.5,545.0 L103.8,545.2 L104.2,545.8 L104.5,546.2 L104.6,546.8 L104.5,547.2 L104.2,547.8 L103.8,548.2 L103.5,548.5 L103.0,548.9 L102.5,549.1 L102.0,549.3 L101.5,549.5 L100.8,549.7 L100.2,549.8 L99.5,549.9 L99.0,550.0 L98.2,550.1 L97.5,550.2 L96.8,550.2 L96.2,550.3 L95.5,550.3 L94.8,550.4 L94.0,550.4 L93.2,550.5 L92.8,550.5 L92.0,550.6 L91.2,550.7 L90.5,550.7 L90.0,550.8 L89.2,550.9 L88.5,551.0 L88.0,551.1 L87.2,551.2 L86.8,551.3 L86.0,551.5 L85.5,551.6 L84.9,551.8 L84.2,551.9 L83.8,552.1 L83.2,552.2 L82.5,552.5 L82.0,552.6 L81.5,552.8 L80.8,553.0 L80.2,553.2 L79.8,553.3 L79.0,553.5 L78.5,553.6 L77.8,553.7 L77.2,553.8 L76.5,554.0 L76.0,554.0 L75.2,554.1 L74.5,554.2 L73.8,554.2 L73.0,554.2 Z" fill="none" stroke="#404040" stroke-width="0.5"/>
<path d="M75.5,553.3 L74.8,553.4 L74.0,553.4 L73.2,553.5 L72.5,553.5 L71.8,553.4 L71.0,553.4 L70.2,553.4 L69.5,553.3 L69.0,553.2 L68.2,553.1 L67.8,553.0 L67.0,552.8 L66.5,552.7 L66.0,552.5 L65.2,552.3 L64.8,552.1 L64.2,551.9 L63.8,551.6 L63.2,551.4 L62.8,551.1 L62.3,550.8 L61.9,550.5 L61.5,550.2 L61.1,549.8 L60.8,549.4 L60.4,549.0 L60.1,548.5 L59.8,548.0 L59.6,547.5 L59.5,547.0 L59.5,546.2 L59.5,545.8 L59.7,545.0 L59.9,544.5 L60.2,544.0 L60.5,543.6 L60.8,543.2 L61.2,542.9 L61.7,542.5 L62.0,542.2 L62.5,541.9 L63.0,541.6 L63.5,541.3 L64.0,541.1 L64.5,540.9 L65.0,540.7 L65.5,540.5 L66.2,540.3 L66.8,540.1 L67.3,540.0 L68.0,539.8 L68.5,539.7 L69.2,539.6 L70.0,539.5 L70.5,539.5 L71.2,539.4 L72.0,539.4 L72.8,539.4 L73.5,539.4 L74.2,539.4 L75.0,539.5 L75.5,539.5 L76.2,539.6 L77.0,539.7 L77.5,539.8 L78.2,539.9 L78.8,540.0 L79.5,540.2 L80.0,540.3 L80.8,540.5 L81.2,540.6 L81.8,540.8 L82.5,540.9 L83.0,541.1 L83.6,541.2 L84.2,541.4 L84.8,541.6 L85.5,541.8 L86.0,541.9 L86.5,542.0 L87.2,542.2 L87.8,542.3 L88.5,542.4 L89.0,542.5 L89.8,542.6 L90.3,542.8 L91.0,542.8 L91.8,543.0 L92.2,543.0 L93.0,543.1 L93.8,543.2 L94.2,543.3 L95.0,543.4 L95.8,543.5 L96.2,543.5 L97.0,543.6 L97.8,543.7 L98.2,543.8 L99.0,543.9 L99.5,544.0 L100.2,544.2 L100.8,544.4 L101.2,544.5 L101.8,544.8 L102.2,545.0 L102.8,545.4 L103.1,545.8 L103.4,546.2 L103.4,547.0 L103.2,547.5 L102.8,548.0 L102.5,548.3 L102.0,548.6 L101.5,548.8 L101.0,549.0 L100.2,549.2 L99.8,549.3 L99.0,549.5 L98.5,549.5 L97.8,549.6 L97.0,549.7 L96.4,549.8 L95.8,549.8 L95.0,549.9 L94.2,549.9 L93.5,550.0 L92.9,550.0 L92.2,550.1 L91.5,550.1 L90.8,550.2 L90.1,550.2 L89.5,550.3 L88.8,550.4 L88.1,550.5 L87.5,550.6 L86.8,550.7 L86.2,550.8 L85.5,551.0 L85.0,551.1 L84.2,551.2 L83.8,551.4 L83.2,551.5 L82.5,551.7 L82.0,551.8 L81.4,552.0 L80.8,552.2 L80.2,552.3 L79.5,552.5 L79.0,552.6 L78.5,552.8 L77.8,552.9 L77.2,553.0 L76.5,553.1 L75.8,553.2 Z" fill="none" stroke="#404040" stroke-width="0.5"/>
<path d="M75.2,552.5 L74.5,552.6 L73.8,552.7 L73.0,552.7 L72.2,552.7 L71.5,552.7 L70.8,552.6 L70.0,552.5 L69.5,552.5 L68.8,552.3 L68.2,552.2 L67.5,552.1 L67.0,551.9 L66.5,551.8 L65.8,551.5 L65.2,551.3 L64.8,551.0 L64.2,550.8 L63.8,550.5 L63.4,550.2 L63.0,550.0 L62.5,549.5 L62.2,549.2 L61.8,548.8 L61.5,548.3 L61.3,547.8 L61.1,547.2 L61.0,546.7 L61.0,546.2 L61.1,545.5 L61.3,545.0 L61.6,544.5 L61.9,544.0 L62.2,543.6 L62.6,543.2 L63.0,542.9 L63.5,542.6 L64.0,542.3 L64.5,542.0 L65.0,541.8 L65.5,541.5 L66.0,541.3 L66.5,541.1 L67.0,541.0 L67.8,540.8 L68.2,540.7 L69.0,540.5 L69.5,540.4 L70.2,540.3 L71.0,540.3 L71.5,540.2 L72.2,540.2 L73.0,540.2 L73.8,540.2 L74.4,540.2 L75.0,540.3 L75.8,540.4 L76.5,540.5 L77.0,540.5 L77.8,540.6 L78.3,540.8 L79.0,540.9 L79.5,541.0 L80.2,541.2 L80.8,541.3 L81.5,541.4 L82.0,541.6 L82.8,541.7 L83.2,541.9 L83.9,542.0 L84.5,542.1 L85.0,542.3 L85.8,542.4 L86.2,542.5 L87.0,542.7 L87.5,542.8 L88.2,542.9 L88.8,543.0 L89.5,543.1 L90.2,543.2 L90.8,543.3 L91.5,543.4 L92.0,543.5 L92.8,543.6 L93.5,543.7 L94.0,543.8 L94.8,543.9 L95.5,543.9 L96.0,544.0 L96.8,544.1 L97.5,544.2 L98.0,544.3 L98.8,544.5 L99.2,544.6 L99.9,544.8 L100.5,545.0 L101.0,545.2 L101.5,545.5 L101.8,545.8 L102.2,546.2 L102.3,546.8 L102.2,547.2 L101.8,547.8 L101.4,548.0 L101.0,548.3 L100.4,548.5 L99.8,548.7 L99.2,548.8 L98.5,549.0 L98.0,549.1 L97.2,549.1 L96.5,549.2 L96.0,549.3 L95.2,549.3 L94.5,549.4 L93.8,549.5 L93.1,549.5 L92.5,549.5 L91.8,549.6 L91.0,549.7 L90.2,549.7 L89.8,549.8 L89.0,549.9 L88.2,550.0 L87.8,550.0 L87.0,550.2 L86.4,550.2 L85.8,550.4 L85.0,550.5 L84.5,550.6 L83.8,550.7 L83.2,550.9 L82.6,551.0 L82.0,551.1 L81.5,551.3 L80.8,551.4 L80.2,551.6 L79.5,551.7 L79.0,551.9 L78.3,552.0 L77.8,552.1 L77.1,552.2 L76.5,552.4 L75.8,552.5 L75.2,552.5 Z" fill="none" stroke="#404040" stroke-width="0.5"/>
<path d="M75.2,551.8 L74.5,551.8 L73.8,551.9 L73.0,551.9 L72.2,551.9 L71.5,551.9 L70.8,551.8 L70.1,551.8 L69.5,551.7 L68.8,551.5 L68.2,551.4 L67.7,551.2 L67.0,551.0 L66.5,550.8 L66.0,550.6 L65.5,550.3 L65.0,550.1 L64.5,549.8 L64.2,549.5 L63.8,549.1 L63.4,548.8 L63.1,548.2 L62.8,547.8 L62.6,547.2 L62.5,546.5 L62.6,545.8 L62.8,545.2 L63.0,544.8 L63.4,544.2 L63.8,543.9 L64.2,543.5 L64.5,543.2 L65.0,542.9 L65.5,542.6 L66.0,542.4 L66.5,542.2 L67.0,542.0 L67.7,541.8 L68.2,541.6 L68.8,541.5 L69.5,541.3 L70.0,541.2 L70.8,541.1 L71.5,541.1 L72.2,541.0 L73.0,541.0 L73.8,541.0 L74.5,541.1 L75.2,541.1 L76.0,541.2 L76.5,541.3 L77.2,541.4 L78.0,541.5 L78.5,541.5 L79.2,541.7 L79.8,541.8 L80.5,541.9 L81.1,542.0 L81.8,542.1 L82.3,542.2 L83.0,542.4 L83.5,542.5 L84.2,542.6 L84.8,542.8 L85.5,542.9 L86.0,543.0 L86.8,543.1 L87.3,543.2 L88.0,543.4 L88.7,543.5 L89.2,543.6 L90.0,543.7 L90.5,543.8 L91.2,543.9 L92.0,544.0 L92.5,544.1 L93.2,544.2 L93.8,544.2 L94.5,544.3 L95.2,544.4 L95.8,544.5 L96.5,544.6 L97.2,544.8 L97.8,544.9 L98.3,545.0 L99.0,545.2 L99.5,545.4 L100.0,545.6 L100.5,546.0 L100.8,546.2 L100.9,547.0 L100.5,547.5 L100.1,547.8 L99.6,548.0 L99.0,548.2 L98.5,548.3 L97.8,548.5 L97.2,548.6 L96.5,548.7 L95.9,548.8 L95.2,548.8 L94.5,548.9 L93.8,549.0 L93.2,549.0 L92.5,549.1 L91.8,549.1 L91.0,549.2 L90.5,549.3 L89.8,549.3 L89.0,549.4 L88.3,549.5 L87.8,549.6 L87.0,549.7 L86.5,549.8 L85.8,549.9 L85.0,550.0 L84.5,550.1 L83.8,550.2 L83.2,550.3 L82.5,550.4 L82.0,550.5 L81.2,550.7 L80.8,550.8 L80.0,550.9 L79.5,551.0 L78.8,551.2 L78.2,551.3 L77.5,551.4 L77.0,551.5 L76.2,551.6 L75.5,551.7 Z" fill="none" stroke="#404040" stroke-width="0.5"/>
<path d="M75.0,551.0 L74.2,551.1 L73.5,551.1 L72.8,551.1 L72.0,551.1 L71.2,551.0 L70.8,551.0 L70.0,550.9 L69.3,550.8 L68.8,550.6 L68.2,550.5 L67.6,550.2 L67.1,550.0 L66.6,549.8 L66.1,549.5 L65.8,549.2 L65.2,548.8 L64.9,548.5 L64.5,548.0 L64.3,547.5 L64.1,547.0 L64.1,546.2 L64.2,545.6 L64.5,545.1 L64.8,544.7 L65.2,544.2 L65.5,544.0 L66.0,543.6 L66.5,543.3 L67.0,543.1 L67.5,542.8 L68.0,542.7 L68.5,542.5 L69.2,542.3 L69.8,542.2 L70.5,542.1 L71.0,542.0 L71.8,541.9 L72.5,541.9 L73.2,541.9 L74.0,541.9 L74.8,541.9 L75.5,541.9 L76.2,542.0 L76.8,542.0 L77.5,542.1 L78.2,542.2 L78.8,542.2 L79.5,542.3 L80.2,542.5 L80.8,542.5 L81.5,542.7 L82.1,542.8 L82.8,542.9 L83.4,543.0 L84.0,543.1 L84.7,543.2 L85.2,543.3 L86.0,543.5 L86.5,543.6 L87.2,543.7 L87.8,543.8 L88.5,544.0 L89.0,544.0 L89.8,544.2 L90.3,544.2 L91.0,544.4 L91.8,544.5 L92.2,544.6 L93.0,544.7 L93.5,544.8 L94.2,544.9 L95.0,545.0 L95.5,545.1 L96.2,545.2 L96.8,545.4 L97.3,545.5 L98.0,545.7 L98.5,546.0 L98.9,546.2 L99.1,546.8 L98.8,547.2 L98.3,547.5 L97.8,547.7 L97.2,547.9 L96.6,548.0 L96.0,548.1 L95.2,548.2 L94.8,548.3 L94.0,548.4 L93.2,548.5 L92.8,548.5 L92.0,548.6 L91.2,548.7 L90.6,548.8 L90.0,548.8 L89.2,548.9 L88.5,549.0 L88.0,549.1 L87.2,549.2 L86.7,549.2 L86.0,549.4 L85.2,549.5 L84.8,549.6 L84.0,549.7 L83.5,549.8 L82.8,549.9 L82.1,550.0 L81.5,550.1 L80.8,550.2 L80.2,550.3 L79.5,550.4 L79.0,550.5 L78.2,550.6 L77.5,550.7 L77.0,550.8 L76.2,550.9 L75.5,551.0 L75.0,551.0 Z" fill="none" stroke="#404040" stroke-width="0.5"/>
<path d="M75.8,550.3 L75.0,550.3 L74.2,550.3 L73.5,550.4 L72.8,550.4 L72.0,550.3 L71.3,550.2 L70.8,550.2 L70.0,550.0 L69.5,549.9 L69.0,549.8 L68.3,549.5 L67.8,549.2 L67.3,549.0 L66.9,548.8 L66.5,548.4 L66.2,548.0 L65.9,547.5 L65.7,547.0 L65.6,546.2 L65.8,545.8 L66.0,545.2 L66.5,544.8 L66.8,544.5 L67.2,544.1 L67.8,543.8 L68.2,543.6 L68.8,543.4 L69.2,543.2 L70.0,543.0 L70.5,542.9 L71.2,542.8 L71.8,542.8 L72.5,542.7 L73.2,542.6 L74.0,542.6 L74.8,542.6 L75.5,542.6 L76.2,542.6 L77.0,542.7 L77.8,542.7 L78.2,542.8 L79.0,542.8 L79.8,542.9 L80.5,543.0 L81.0,543.0 L81.8,543.2 L82.3,543.2 L83.0,543.4 L83.7,543.5 L84.2,543.6 L85.0,543.7 L85.5,543.8 L86.2,544.0 L86.8,544.1 L87.5,544.2 L88.0,544.3 L88.8,544.5 L89.2,544.5 L90.0,544.7 L90.5,544.8 L91.2,544.9 L91.8,545.0 L92.5,545.2 L93.0,545.3 L93.8,545.4 L94.2,545.5 L95.0,545.7 L95.5,545.9 L96.0,546.1 L96.5,546.4 L96.5,546.9 L96.0,547.2 L95.5,547.4 L95.0,547.5 L94.2,547.7 L93.8,547.8 L93.0,547.9 L92.5,548.0 L91.8,548.1 L91.0,548.2 L90.5,548.3 L89.8,548.4 L89.0,548.5 L88.5,548.6 L87.8,548.7 L87.2,548.8 L86.5,548.9 L85.8,549.0 L85.2,549.1 L84.5,549.2 L84.0,549.3 L83.2,549.4 L82.5,549.5 L82.0,549.6 L81.2,549.7 L80.7,549.8 L80.0,549.8 L79.2,549.9 L78.7,550.0 L78.0,550.1 L77.2,550.1 L76.5,550.2 L75.9,550.2 Z" fill="none" stroke="#404040" stroke-width="0.5"/>
<path d="M78.0,549.5 L77.2,549.5 L76.5,549.6 L75.8,549.6 L75.0,549.6 L74.2,549.6 L73.5,549.5 L73.0,549.5 L72.2,549.4 L71.5,549.3 L71.0,549.2 L70.2,549.0 L69.8,548.9 L69.2,548.7 L68.8,548.4 L68.2,548.0 L68.0,547.8 L67.6,547.2 L67.5,546.8 L67.5,546.2 L67.8,545.7 L68.1,545.2 L68.5,544.9 L69.0,544.6 L69.5,544.4 L70.0,544.2 L70.5,544.0 L71.2,543.8 L71.8,543.7 L72.5,543.6 L73.2,543.5 L73.8,543.5 L74.5,543.4 L75.2,543.3 L76.0,543.3 L76.8,543.3 L77.5,543.3 L78.2,543.3 L79.0,543.3 L79.8,543.4 L80.5,543.5 L81.0,543.5 L81.8,543.6 L82.5,543.7 L83.0,543.8 L83.8,543.9 L84.2,544.0 L85.0,544.2 L85.5,544.3 L86.2,544.4 L86.8,544.5 L87.5,544.7 L88.0,544.8 L88.8,545.0 L89.2,545.1 L89.9,545.2 L90.5,545.4 L91.0,545.5 L91.8,545.7 L92.2,545.9 L92.8,546.2 L93.1,546.5 L92.8,547.0 L92.2,547.2 L91.8,547.4 L91.2,547.5 L90.5,547.7 L90.0,547.8 L89.2,547.9 L88.8,548.0 L88.0,548.1 L87.4,548.2 L86.8,548.4 L86.0,548.5 L85.5,548.6 L84.8,548.7 L84.2,548.8 L83.5,548.9 L82.8,549.0 L82.2,549.1 L81.5,549.2 L81.0,549.2 L80.2,549.3 L79.5,549.4 L78.8,549.5 L78.1,549.5 Z" fill="none" stroke="#404040" stroke-width="0.5"/>
<path d="M81.5,548.8 L80.8,548.8 L80.0,548.9 L79.2,549.0 L78.5,549.0 L77.8,549.0 L77.0,549.0 L76.2,548.9 L75.5,548.9 L74.8,548.8 L74.2,548.7 L73.5,548.6 L72.8,548.5 L72.2,548.4 L71.8,548.2 L71.2,548.0 L70.7,547.8 L70.2,547.4 L69.9,547.0 L69.9,546.2 L70.2,545.8 L70.6,545.5 L71.0,545.2 L71.5,545.0 L72.2,544.8 L72.8,544.6 L73.2,544.4 L74.0,544.3 L74.5,544.2 L75.2,544.1 L75.8,544.0 L76.5,543.9 L77.2,543.8 L78.0,543.8 L78.8,543.8 L79.5,543.8 L80.2,543.9 L81.0,543.9 L81.5,544.0 L82.2,544.1 L83.0,544.2 L83.5,544.3 L84.2,544.5 L84.8,544.6 L85.5,544.7 L86.0,544.9 L86.6,545.0 L87.2,545.2 L87.8,545.3 L88.4,545.5 L89.0,545.7 L89.5,545.9 L90.0,546.2 L90.0,546.8 L89.7,547.0 L89.1,547.2 L88.5,547.4 L88.0,547.6 L87.3,547.8 L86.8,547.9 L86.1,548.0 L85.5,548.1 L84.8,548.2 L84.2,548.4 L83.5,548.5 L83.0,548.6 L82.2,548.7 L81.6,548.8 Z" fill="none" stroke="#404040" stroke-width="0.5"/>
<path d="M79.0,548.5 L78.5,548.5 L77.8,548.5 L77.0,548.4 L76.2,548.3 L75.8,548.2 L75.0,548.0 L74.5,547.8 L74.0,547.6 L73.5,547.3 L73.1,547.0 L73.0,546.5 L73.2,546.0 L73.5,545.7 L74.0,545.4 L74.5,545.1 L75.0,544.9 L75.5,544.8 L76.2,544.6 L76.8,544.5 L77.5,544.4 L78.2,544.3 L79.0,544.3 L79.8,544.3 L80.5,544.3 L81.2,544.4 L82.0,544.5 L82.5,544.6 L83.2,544.7 L83.8,544.8 L84.5,545.0 L85.0,545.1 L85.5,545.3 L86.2,545.5 L86.8,545.7 L87.2,545.9 L87.6,546.2 L87.5,546.8 L87.0,547.1 L86.5,547.3 L85.9,547.5 L85.2,547.7 L84.8,547.8 L84.0,548.0 L83.5,548.1 L82.8,548.2 L82.2,548.3 L81.5,548.4 L80.8,548.4 L80.0,548.5 L79.2,548.5 Z" fill="none" stroke="#404040" stroke-width="0.5"/>
<path d="M80.5,548.0 L79.8,548.0 L79.0,548.0 L78.5,548.0 L77.8,547.9 L77.1,547.8 L76.5,547.6 L76.0,547.4 L75.5,547.0 L75.2,546.5 L75.3,546.2 L75.6,545.8 L76.0,545.5 L76.5,545.2 L77.2,545.0 L77.8,544.9 L78.5,544.8 L79.0,544.7 L79.8,544.7 L80.4,544.8 L81.0,544.8 L81.8,544.9 L82.4,545.0 L83.0,545.1 L83.5,545.2 L84.2,545.5 L84.8,545.7 L85.2,545.9 L85.6,546.2 L85.5,546.8 L85.0,547.1 L84.5,547.3 L83.8,547.5 L83.2,547.6 L82.6,547.8 L82.0,547.8 L81.2,547.9 L80.6,548.0 Z" fill="none" stroke="#404040" stroke-width="0.5"/>
<path d="M80.2,547.5 L79.7,547.5 L79.0,547.4 L78.2,547.3 L77.8,547.1 L77.2,546.8 L77.1,546.2 L77.5,545.8 L78.0,545.6 L78.5,545.4 L79.2,545.3 L80.0,545.3 L80.8,545.3 L81.5,545.4 L82.1,545.5 L82.8,545.7 L83.2,545.9 L83.7,546.2 L83.5,546.8 L83.0,547.0 L82.3,547.2 L81.8,547.3 L81.0,547.5 L80.3,547.5 Z" fill="none" stroke="#404040" stroke-width="0.5"/><ellipse cx="73" cy="547" rx="12.5" ry="6.8" fill="#1a1a1a" opacity="0.4"/><ellipse cx="71" cy="548" rx="8.5" ry="4.8" fill="#1a1a1a" opacity="0.3"/>
<rect x="47.9" y="463.0" width="117.1" height="117.39999999999998" fill="none" stroke="#222" stroke-width="1.1"/>
<line x1="95.80" y1="463.00" x2="95.80" y2="580.40" stroke="#222" stroke-width="1.1"/>
<line x1="47.90" y1="520.10" x2="165.00" y2="520.10" stroke="#222" stroke-width="1.1"/>
<text transform="translate(51.20,469.80)" x="0" y="2.61" font-size="7.3" text-anchor="start" font-weight="normal" fill="#222" stroke="#222" stroke-width="0.22">Q1</text>
<text transform="translate(51.20,479.00)" x="0" y="2.61" font-size="7.3" text-anchor="start" font-weight="normal" fill="#222" stroke="#222" stroke-width="0.22">2.20</text>
<text transform="translate(156.60,469.80)" x="0" y="2.61" font-size="7.3" text-anchor="end" font-weight="normal" fill="#222" stroke="#222" stroke-width="0.22">Q2</text>
<text transform="translate(156.60,479.00)" x="0" y="2.61" font-size="7.3" text-anchor="end" font-weight="normal" fill="#222" stroke="#222" stroke-width="0.22">1.01</text>
<text transform="translate(51.20,562.50)" x="0" y="2.61" font-size="7.3" text-anchor="start" font-weight="normal" fill="#222" stroke="#222" stroke-width="0.22">Q4</text>
<text transform="translate(51.20,572.00)" x="0" y="2.61" font-size="7.3" text-anchor="start" font-weight="normal" fill="#222" stroke="#222" stroke-width="0.22">90.7</text>
<text transform="translate(156.60,562.50)" x="0" y="2.61" font-size="7.3" text-anchor="end" font-weight="normal" fill="#222" stroke="#222" stroke-width="0.22">Q3</text>
<text transform="translate(156.60,572.00)" x="0" y="2.61" font-size="7.3" text-anchor="end" font-weight="normal" fill="#222" stroke="#222" stroke-width="0.22">6.08</text>
<line x1="45.30" y1="475.40" x2="47.90" y2="475.40" stroke="#222" stroke-width="0.9"/>
<line x1="45.30" y1="502.80" x2="47.90" y2="502.80" stroke="#222" stroke-width="0.9"/>
<line x1="45.30" y1="534.50" x2="47.90" y2="534.50" stroke="#222" stroke-width="0.9"/>
<line x1="45.30" y1="553.30" x2="47.90" y2="553.30" stroke="#222" stroke-width="0.9"/>
<line x1="45.30" y1="574.00" x2="47.90" y2="574.00" stroke="#222" stroke-width="0.9"/>
<line x1="46.30" y1="524.96" x2="47.90" y2="524.96" stroke="#333" stroke-width="0.6"/>
<line x1="46.30" y1="494.55" x2="47.90" y2="494.55" stroke="#333" stroke-width="0.6"/>
<line x1="46.30" y1="519.38" x2="47.90" y2="519.38" stroke="#333" stroke-width="0.6"/>
<line x1="46.30" y1="489.73" x2="47.90" y2="489.73" stroke="#333" stroke-width="0.6"/>
<line x1="46.30" y1="515.41" x2="47.90" y2="515.41" stroke="#333" stroke-width="0.6"/>
<line x1="46.30" y1="486.30" x2="47.90" y2="486.30" stroke="#333" stroke-width="0.6"/>
<line x1="46.30" y1="512.34" x2="47.90" y2="512.34" stroke="#333" stroke-width="0.6"/>
<line x1="46.30" y1="483.65" x2="47.90" y2="483.65" stroke="#333" stroke-width="0.6"/>
<line x1="46.30" y1="509.83" x2="47.90" y2="509.83" stroke="#333" stroke-width="0.6"/>
<line x1="46.30" y1="481.48" x2="47.90" y2="481.48" stroke="#333" stroke-width="0.6"/>
<line x1="46.30" y1="507.71" x2="47.90" y2="507.71" stroke="#333" stroke-width="0.6"/>
<line x1="46.30" y1="479.64" x2="47.90" y2="479.64" stroke="#333" stroke-width="0.6"/>
<line x1="46.30" y1="505.87" x2="47.90" y2="505.87" stroke="#333" stroke-width="0.6"/>
<line x1="46.30" y1="478.06" x2="47.90" y2="478.06" stroke="#333" stroke-width="0.6"/>
<line x1="46.30" y1="504.25" x2="47.90" y2="504.25" stroke="#333" stroke-width="0.6"/>
<line x1="46.30" y1="476.65" x2="47.90" y2="476.65" stroke="#333" stroke-width="0.6"/>
<line x1="46.30" y1="467.15" x2="47.90" y2="467.15" stroke="#333" stroke-width="0.6"/>
<line x1="46.30" y1="548.68" x2="47.90" y2="548.68" stroke="#333" stroke-width="0.6"/>
<line x1="46.30" y1="558.29" x2="47.90" y2="558.29" stroke="#333" stroke-width="0.6"/>
<line x1="46.30" y1="545.17" x2="47.90" y2="545.17" stroke="#333" stroke-width="0.6"/>
<line x1="46.30" y1="562.06" x2="47.90" y2="562.06" stroke="#333" stroke-width="0.6"/>
<line x1="46.30" y1="542.62" x2="47.90" y2="542.62" stroke="#333" stroke-width="0.6"/>
<line x1="46.30" y1="564.81" x2="47.90" y2="564.81" stroke="#333" stroke-width="0.6"/>
<line x1="46.30" y1="540.67" x2="47.90" y2="540.67" stroke="#333" stroke-width="0.6"/>
<line x1="46.30" y1="566.92" x2="47.90" y2="566.92" stroke="#333" stroke-width="0.6"/>
<line x1="46.30" y1="539.11" x2="47.90" y2="539.11" stroke="#333" stroke-width="0.6"/>
<line x1="46.30" y1="568.60" x2="47.90" y2="568.60" stroke="#333" stroke-width="0.6"/>
<line x1="46.30" y1="537.81" x2="47.90" y2="537.81" stroke="#333" stroke-width="0.6"/>
<line x1="46.30" y1="570.00" x2="47.90" y2="570.00" stroke="#333" stroke-width="0.6"/>
<line x1="46.30" y1="536.70" x2="47.90" y2="536.70" stroke="#333" stroke-width="0.6"/>
<line x1="46.30" y1="571.20" x2="47.90" y2="571.20" stroke="#333" stroke-width="0.6"/>
<line x1="46.30" y1="535.73" x2="47.90" y2="535.73" stroke="#333" stroke-width="0.6"/>
<line x1="46.30" y1="572.25" x2="47.90" y2="572.25" stroke="#333" stroke-width="0.6"/>
<line x1="46.30" y1="534.87" x2="47.90" y2="534.87" stroke="#333" stroke-width="0.6"/>
<line x1="46.30" y1="573.17" x2="47.90" y2="573.17" stroke="#333" stroke-width="0.6"/>
<line x1="95.72" y1="580.40" x2="95.72" y2="582.00" stroke="#333" stroke-width="0.6"/>
<line x1="99.95" y1="580.40" x2="99.95" y2="582.00" stroke="#333" stroke-width="0.6"/>
<line x1="102.95" y1="580.40" x2="102.95" y2="582.00" stroke="#333" stroke-width="0.6"/>
<line x1="105.28" y1="580.40" x2="105.28" y2="582.00" stroke="#333" stroke-width="0.6"/>
<line x1="107.18" y1="580.40" x2="107.18" y2="582.00" stroke="#333" stroke-width="0.6"/>
<line x1="108.78" y1="580.40" x2="108.78" y2="582.00" stroke="#333" stroke-width="0.6"/>
<line x1="110.17" y1="580.40" x2="110.17" y2="582.00" stroke="#333" stroke-width="0.6"/>
<line x1="111.40" y1="580.40" x2="111.40" y2="582.00" stroke="#333" stroke-width="0.6"/>
<line x1="119.12" y1="580.40" x2="119.12" y2="582.00" stroke="#333" stroke-width="0.6"/>
<line x1="123.00" y1="580.40" x2="123.00" y2="582.00" stroke="#333" stroke-width="0.6"/>
<line x1="125.75" y1="580.40" x2="125.75" y2="582.00" stroke="#333" stroke-width="0.6"/>
<line x1="127.88" y1="580.40" x2="127.88" y2="582.00" stroke="#333" stroke-width="0.6"/>
<line x1="129.62" y1="580.40" x2="129.62" y2="582.00" stroke="#333" stroke-width="0.6"/>
<line x1="131.09" y1="580.40" x2="131.09" y2="582.00" stroke="#333" stroke-width="0.6"/>
<line x1="132.37" y1="580.40" x2="132.37" y2="582.00" stroke="#333" stroke-width="0.6"/>
<line x1="133.49" y1="580.40" x2="133.49" y2="582.00" stroke="#333" stroke-width="0.6"/>
<line x1="140.97" y1="580.40" x2="140.97" y2="582.00" stroke="#333" stroke-width="0.6"/>
<line x1="144.76" y1="580.40" x2="144.76" y2="582.00" stroke="#333" stroke-width="0.6"/>
<line x1="147.44" y1="580.40" x2="147.44" y2="582.00" stroke="#333" stroke-width="0.6"/>
<line x1="149.53" y1="580.40" x2="149.53" y2="582.00" stroke="#333" stroke-width="0.6"/>
<line x1="151.23" y1="580.40" x2="151.23" y2="582.00" stroke="#333" stroke-width="0.6"/>
<line x1="152.67" y1="580.40" x2="152.67" y2="582.00" stroke="#333" stroke-width="0.6"/>
<line x1="153.92" y1="580.40" x2="153.92" y2="582.00" stroke="#333" stroke-width="0.6"/>
<line x1="155.02" y1="580.40" x2="155.02" y2="582.00" stroke="#333" stroke-width="0.6"/>
<line x1="73.06" y1="580.40" x2="73.06" y2="582.00" stroke="#333" stroke-width="0.6"/>
<line x1="67.13" y1="580.40" x2="67.13" y2="582.00" stroke="#333" stroke-width="0.6"/>
<line x1="76.43" y1="580.40" x2="76.43" y2="582.00" stroke="#333" stroke-width="0.6"/>
<line x1="65.57" y1="580.40" x2="65.57" y2="582.00" stroke="#333" stroke-width="0.6"/>
<line x1="79.08" y1="580.40" x2="79.08" y2="582.00" stroke="#333" stroke-width="0.6"/>
<line x1="64.35" y1="580.40" x2="64.35" y2="582.00" stroke="#333" stroke-width="0.6"/>
<line x1="81.17" y1="580.40" x2="81.17" y2="582.00" stroke="#333" stroke-width="0.6"/>
<line x1="63.38" y1="580.40" x2="63.38" y2="582.00" stroke="#333" stroke-width="0.6"/>
<line x1="82.89" y1="580.40" x2="82.89" y2="582.00" stroke="#333" stroke-width="0.6"/>
<line x1="62.59" y1="580.40" x2="62.59" y2="582.00" stroke="#333" stroke-width="0.6"/>
<line x1="84.33" y1="580.40" x2="84.33" y2="582.00" stroke="#333" stroke-width="0.6"/>
<line x1="61.92" y1="580.40" x2="61.92" y2="582.00" stroke="#333" stroke-width="0.6"/>
<line x1="85.58" y1="580.40" x2="85.58" y2="582.00" stroke="#333" stroke-width="0.6"/>
<line x1="61.35" y1="580.40" x2="61.35" y2="582.00" stroke="#333" stroke-width="0.6"/>
<line x1="86.66" y1="580.40" x2="86.66" y2="582.00" stroke="#333" stroke-width="0.6"/>
<line x1="60.85" y1="580.40" x2="60.85" y2="582.00" stroke="#333" stroke-width="0.6"/>
<line x1="87.63" y1="580.40" x2="87.63" y2="582.00" stroke="#333" stroke-width="0.6"/>
<line x1="60.40" y1="580.40" x2="60.40" y2="582.00" stroke="#333" stroke-width="0.6"/>
<line x1="60.00" y1="580.40" x2="60.00" y2="583.00" stroke="#222" stroke-width="0.9"/>
<line x1="69.00" y1="580.40" x2="69.00" y2="583.00" stroke="#222" stroke-width="0.9"/>
<line x1="88.50" y1="580.40" x2="88.50" y2="583.00" stroke="#222" stroke-width="0.9"/>
<line x1="112.50" y1="580.40" x2="112.50" y2="583.00" stroke="#222" stroke-width="0.9"/>
<line x1="134.50" y1="580.40" x2="134.50" y2="583.00" stroke="#222" stroke-width="0.9"/>
<line x1="156.00" y1="580.40" x2="156.00" y2="583.00" stroke="#222" stroke-width="0.9"/>
<text transform="translate(40.90,475.40)" x="0" y="2.51" font-size="7.0" text-anchor="end" font-weight="normal" fill="#1a1a1a" stroke="#1a1a1a" stroke-width="0.22">10<tspan baseline-shift="super" font-size="5">5</tspan></text>
<text transform="translate(40.90,502.80)" x="0" y="2.51" font-size="7.0" text-anchor="end" font-weight="normal" fill="#1a1a1a" stroke="#1a1a1a" stroke-width="0.22">10<tspan baseline-shift="super" font-size="5">4</tspan></text>
<text transform="translate(40.90,534.50)" x="0" y="2.51" font-size="7.0" text-anchor="end" font-weight="normal" fill="#1a1a1a" stroke="#1a1a1a" stroke-width="0.22">10<tspan baseline-shift="super" font-size="5">3</tspan></text>
<text transform="translate(40.90,553.30)" x="0" y="2.51" font-size="7.0" text-anchor="end" font-weight="normal" fill="#1a1a1a" stroke="#1a1a1a" stroke-width="0.22">0</text>
<text transform="translate(40.90,574.00)" x="0" y="2.51" font-size="7.0" text-anchor="end" font-weight="normal" fill="#1a1a1a" stroke="#1a1a1a" stroke-width="0.22">−10<tspan baseline-shift="super" font-size="5">3</tspan></text>
<text transform="translate(57.50,589.90)" x="0" y="2.51" font-size="7.0" text-anchor="middle" font-weight="normal" fill="#1a1a1a" stroke="#1a1a1a" stroke-width="0.22">−10<tspan baseline-shift="super" font-size="5">2</tspan></text>
<text transform="translate(69.00,589.90)" x="0" y="2.51" font-size="7.0" text-anchor="middle" font-weight="normal" fill="#1a1a1a" stroke="#1a1a1a" stroke-width="0.22">0</text>
<text transform="translate(92.00,589.90)" x="0" y="2.51" font-size="7.0" text-anchor="middle" font-weight="normal" fill="#1a1a1a" stroke="#1a1a1a" stroke-width="0.22">10<tspan baseline-shift="super" font-size="5">2</tspan></text>
<text transform="translate(116.00,589.90)" x="0" y="2.51" font-size="7.0" text-anchor="middle" font-weight="normal" fill="#1a1a1a" stroke="#1a1a1a" stroke-width="0.22">10<tspan baseline-shift="super" font-size="5">3</tspan></text>
<text transform="translate(139.00,589.90)" x="0" y="2.51" font-size="7.0" text-anchor="middle" font-weight="normal" fill="#1a1a1a" stroke="#1a1a1a" stroke-width="0.22">10<tspan baseline-shift="super" font-size="5">4</tspan></text>
<text transform="translate(157.00,589.90)" x="0" y="2.51" font-size="7.0" text-anchor="middle" font-weight="normal" fill="#1a1a1a" stroke="#1a1a1a" stroke-width="0.22">10<tspan baseline-shift="super" font-size="5">5</tspan></text>
<text transform="translate(106.20,604.60)" x="0" y="0" font-size="9.3" text-anchor="middle" font-weight="bold" fill="#1a1a1a" textLength="28.0" lengthAdjust="spacingAndGlyphs" stroke="#1a1a1a" stroke-width="0.1">Annexin V</text>
<text transform="translate(17.70,521.20) rotate(-90)" x="0" y="0" font-size="8.8" text-anchor="middle" font-weight="normal" fill="#1a1a1a" textLength="6.0" lengthAdjust="spacingAndGlyphs" stroke="#1a1a1a" stroke-width="0.35">PI</text>
<text transform="translate(273.60,456.00)" x="0" y="2.79" font-size="7.8" text-anchor="middle" font-weight="normal" fill="#1a1a1a" stroke="#1a1a1a" stroke-width="0.22">BBM 100mg/kg</text>
<path d="M246.0,559.0 L245.2,559.1 L244.5,559.1 L243.8,559.1 L243.0,559.1 L242.2,559.1 L241.5,559.1 L240.8,559.1 L240.0,559.1 L239.2,559.1 L238.5,559.0 L238.0,559.0 L237.2,558.9 L236.5,558.8 L236.0,558.7 L235.2,558.6 L234.8,558.5 L234.0,558.4 L233.5,558.2 L232.8,558.1 L232.2,558.0 L231.5,557.8 L231.0,557.6 L230.5,557.5 L229.9,557.2 L229.2,557.0 L228.8,556.8 L228.2,556.6 L227.8,556.3 L227.2,556.0 L226.8,555.8 L226.4,555.5 L226.0,555.2 L225.5,554.8 L225.2,554.5 L224.8,554.1 L224.5,553.8 L224.1,553.2 L223.8,552.8 L223.5,552.3 L223.3,551.8 L223.2,551.2 L223.2,550.5 L223.3,550.0 L223.5,549.3 L223.8,548.8 L224.0,548.4 L224.3,548.0 L224.7,547.5 L225.0,547.1 L225.3,546.8 L225.7,546.2 L226.0,545.9 L226.3,545.5 L226.7,545.0 L227.0,544.5 L227.2,544.0 L227.5,543.5 L227.7,543.0 L228.0,542.5 L228.2,542.1 L228.5,541.6 L228.8,541.2 L229.1,540.8 L229.5,540.3 L229.8,540.0 L230.1,539.5 L230.5,539.1 L230.8,538.8 L231.2,538.2 L231.5,537.9 L231.9,537.5 L232.2,537.1 L232.5,536.8 L233.0,536.2 L233.2,535.9 L233.6,535.5 L234.0,535.1 L234.3,534.8 L234.8,534.3 L235.0,534.0 L235.5,533.5 L235.8,533.2 L236.2,532.8 L236.5,532.5 L237.0,532.0 L237.3,531.8 L237.8,531.4 L238.2,531.0 L238.5,530.7 L239.0,530.3 L239.3,530.0 L239.8,529.6 L240.2,529.2 L240.5,528.9 L241.0,528.5 L241.3,528.2 L241.8,527.9 L242.2,527.5 L242.5,527.2 L243.0,526.8 L243.3,526.5 L243.8,526.2 L244.2,525.8 L244.6,525.5 L245.0,525.1 L245.5,524.8 L245.8,524.5 L246.2,524.2 L246.8,523.8 L247.2,523.5 L247.6,523.2 L248.0,522.9 L248.5,522.6 L249.0,522.2 L249.3,522.0 L249.8,521.7 L250.2,521.4 L250.8,521.1 L251.2,520.8 L251.8,520.6 L252.2,520.4 L252.8,520.2 L253.5,520.2 L254.2,520.2 L255.0,520.2 L255.5,520.3 L256.2,520.4 L256.8,520.6 L257.3,520.8 L257.9,521.0 L258.4,521.2 L258.8,521.5 L259.2,521.8 L259.7,522.2 L260.0,522.5 L260.5,522.9 L260.8,523.2 L261.2,523.7 L261.6,524.0 L262.0,524.4 L262.3,524.8 L262.8,525.2 L263.0,525.5 L263.4,526.0 L263.8,526.4 L264.1,526.8 L264.5,527.2 L264.8,527.5 L265.2,528.0 L265.5,528.4 L265.8,528.8 L266.2,529.2 L266.5,529.5 L266.9,530.0 L267.2,530.4 L267.5,530.8 L268.0,531.2 L268.2,531.5 L268.7,532.0 L269.0,532.3 L269.5,532.8 L269.8,533.0 L270.2,533.4 L270.8,533.7 L271.1,534.0 L271.5,534.2 L272.0,534.5 L272.5,534.8 L273.0,535.1 L273.5,535.4 L274.0,535.7 L274.5,536.0 L275.0,536.2 L275.5,536.5 L276.0,536.8 L276.5,537.0 L277.0,537.2 L277.5,537.3 L278.2,537.4 L279.0,537.4 L279.5,537.2 L280.1,537.0 L280.6,536.8 L281.0,536.5 L281.5,536.1 L282.0,535.8 L282.3,535.5 L282.8,535.2 L283.2,534.8 L283.5,534.5 L284.0,534.1 L284.3,533.8 L284.8,533.3 L285.0,532.9 L285.3,532.5 L285.5,532.0 L285.8,531.4 L285.9,530.8 L286.1,530.2 L286.2,529.5 L286.3,529.0 L286.5,528.3 L286.6,527.8 L286.8,527.0 L286.8,526.5 L287.0,525.8 L287.1,525.2 L287.2,524.5 L287.3,524.0 L287.5,523.2 L287.6,522.8 L287.7,522.0 L287.8,521.5 L287.9,520.8 L288.0,520.1 L288.1,519.5 L288.1,518.8 L288.2,518.0 L288.3,517.5 L288.3,516.8 L288.4,516.0 L288.4,515.2 L288.5,514.7 L288.6,514.0 L288.6,513.2 L288.7,512.5 L288.8,511.8 L288.8,511.2 L288.9,510.5 L288.9,509.8 L289.0,509.0 L289.0,508.5 L289.1,507.8 L289.1,507.0 L289.1,506.2 L289.0,505.5 L289.0,505.0 L288.9,504.2 L288.8,503.5 L288.8,502.8 L288.7,502.2 L288.6,501.5 L288.6,500.8 L288.5,500.2 L288.4,499.5 L288.3,498.8 L288.3,498.0 L288.2,497.5 L288.1,496.8 L288.0,496.2 L287.8,495.5 L287.5,495.0 L287.3,494.5 L287.0,494.1 L286.8,493.7 L286.3,493.2 L286.0,492.9 L285.7,492.5 L285.2,492.1 L284.9,491.8 L284.5,491.3 L284.2,491.0 L283.8,490.6 L283.4,490.2 L283.0,489.8 L282.7,489.5 L282.2,489.1 L281.9,488.8 L281.5,488.3 L281.1,488.0 L280.8,487.6 L280.3,487.2 L280.0,487.0 L279.5,486.6 L279.0,486.3 L278.5,486.1 L278.0,485.9 L277.5,485.7 L276.8,485.5 L276.2,485.4 L275.5,485.3 L275.0,485.2 L274.3,485.0 L273.8,484.9 L273.0,484.8 L272.5,484.7 L271.8,484.5 L271.2,484.4 L270.6,484.2 L270.0,484.1 L269.4,484.0 L268.8,483.8 L268.2,483.7 L267.8,483.5 L267.2,483.2 L266.6,483.0 L266.2,482.8 L265.8,482.5 L265.2,482.1 L264.8,481.8 L264.5,481.4 L264.2,481.0 L264.0,480.3 L263.9,479.8 L264.0,479.1 L264.2,478.5 L264.4,478.0 L264.8,477.5 L265.0,477.2 L265.5,476.8 L266.0,476.5 L266.4,476.2 L267.0,476.0 L267.5,475.8 L268.0,475.6 L268.5,475.4 L269.0,475.2 L269.8,475.0 L270.2,474.8 L270.8,474.7 L271.3,474.5 L272.0,474.3 L272.5,474.1 L273.0,473.9 L273.6,473.8 L274.2,473.6 L274.8,473.4 L275.5,473.2 L276.0,473.1 L276.6,473.0 L277.2,472.8 L277.8,472.7 L278.5,472.6 L279.0,472.5 L279.8,472.3 L280.2,472.2 L281.0,472.1 L281.5,472.0 L282.2,471.8 L282.8,471.7 L283.5,471.5 L284.0,471.4 L284.8,471.3 L285.2,471.2 L286.0,471.0 L286.5,470.9 L287.2,470.8 L287.8,470.6 L288.5,470.5 L289.0,470.4 L289.8,470.3 L290.2,470.2 L291.0,470.2 L291.8,470.1 L292.5,470.0 L293.0,470.0 L293.8,469.8 L294.2,469.7 L295.0,469.5 L295.5,469.3 L296.0,469.1 L296.5,468.8 L297.0,468.6 L297.5,468.3 L298.0,468.1 L298.5,467.9 L299.0,467.7 L299.8,467.6 L300.5,467.5 L301.2,467.6 L302.0,467.7 L302.5,467.9 L303.0,468.1 L303.5,468.4 L304.0,468.7 L304.5,469.0 L304.8,469.2 L305.2,469.6 L305.7,470.0 L306.0,470.3 L306.4,470.8 L306.8,471.2 L307.0,471.5 L307.4,472.0 L307.7,472.5 L308.0,473.0 L308.2,473.4 L308.5,473.9 L308.7,474.5 L308.9,475.0 L309.0,475.5 L309.2,476.2 L309.3,476.8 L309.5,477.5 L309.6,478.0 L309.8,478.6 L309.9,479.2 L310.0,479.9 L310.1,480.5 L310.2,481.2 L310.2,482.0 L310.3,482.5 L310.3,483.2 L310.4,484.0 L310.4,484.8 L310.5,485.5 L310.5,486.2 L310.5,486.8 L310.6,487.5 L310.6,488.2 L310.6,489.0 L310.6,489.8 L310.6,490.5 L310.7,491.2 L310.7,492.0 L310.7,492.8 L310.7,493.5 L310.8,494.0 L310.8,494.8 L310.8,495.5 L310.9,496.2 L310.9,497.0 L310.9,497.8 L310.9,498.5 L311.0,499.2 L311.0,500.0 L311.0,500.5 L311.1,501.2 L311.1,502.0 L311.1,502.8 L311.1,503.5 L311.2,504.2 L311.2,505.0 L311.2,505.8 L311.2,506.5 L311.2,507.2 L311.2,508.0 L311.2,508.8 L311.2,509.5 L311.2,510.2 L311.3,510.8 L311.3,511.5 L311.3,512.2 L311.3,513.0 L311.3,513.8 L311.3,514.5 L311.3,515.2 L311.3,516.0 L311.3,516.8 L311.3,517.5 L311.4,518.2 L311.4,519.0 L311.4,519.8 L311.4,520.5 L311.4,521.2 L311.4,522.0 L311.4,522.8 L311.5,523.5 L311.5,524.2 L311.5,524.8 L311.5,525.5 L311.6,526.2 L311.6,527.0 L311.6,527.8 L311.6,528.5 L311.6,529.2 L311.6,530.0 L311.6,530.8 L311.6,531.5 L311.6,532.2 L311.6,533.0 L311.6,533.8 L311.6,534.5 L311.6,535.2 L311.6,536.0 L311.7,536.8 L311.7,537.5 L311.7,538.2 L311.7,539.0 L311.7,539.8 L311.8,540.2 L311.8,541.0 L311.8,541.8 L311.9,542.5 L312.0,543.1 L312.2,543.8 L312.3,544.2 L312.5,544.8 L312.8,545.3 L313.0,545.8 L313.2,546.3 L313.5,546.8 L313.8,547.2 L314.0,547.8 L314.2,548.3 L314.5,549.0 L314.6,549.5 L314.8,550.1 L314.8,550.8 L314.8,551.4 L314.6,552.0 L314.5,552.5 L314.2,553.2 L314.0,553.6 L313.8,554.1 L313.4,554.5 L313.0,555.0 L312.8,555.3 L312.2,555.7 L311.9,556.0 L311.5,556.3 L311.0,556.6 L310.5,556.9 L310.0,557.2 L309.5,557.4 L309.0,557.6 L308.5,557.8 L307.8,558.0 L307.2,558.2 L306.8,558.3 L306.0,558.4 L305.5,558.5 L304.8,558.6 L304.0,558.7 L303.2,558.7 L302.5,558.7 L301.8,558.7 L301.0,558.7 L300.2,558.6 L299.5,558.5 L299.0,558.5 L298.2,558.3 L297.8,558.2 L297.0,558.1 L296.5,558.0 L295.8,557.8 L295.2,557.7 L294.5,557.6 L293.8,557.5 L293.2,557.4 L292.5,557.4 L291.8,557.3 L291.1,557.2 L290.5,557.2 L289.8,557.2 L289.0,557.2 L288.2,557.2 L287.5,557.2 L286.8,557.2 L286.0,557.2 L285.2,557.2 L284.5,557.2 L284.0,557.3 L283.2,557.3 L282.5,557.3 L281.8,557.4 L281.0,557.4 L280.2,557.4 L279.5,557.4 L278.8,557.4 L278.0,557.4 L277.2,557.4 L276.5,557.4 L275.8,557.4 L275.0,557.4 L274.2,557.5 L273.5,557.5 L273.0,557.5 L272.2,557.6 L271.5,557.6 L270.8,557.6 L270.0,557.6 L269.2,557.6 L268.5,557.6 L267.8,557.6 L267.0,557.6 L266.2,557.6 L265.5,557.6 L264.8,557.7 L264.0,557.7 L263.2,557.7 L262.5,557.7 L261.8,557.7 L261.0,557.7 L260.2,557.7 L259.8,557.8 L259.0,557.8 L258.2,557.8 L257.5,557.9 L256.8,558.0 L256.2,558.0 L255.5,558.1 L254.8,558.1 L254.0,558.2 L253.5,558.3 L252.8,558.4 L252.0,558.4 L251.5,558.5 L250.8,558.6 L250.0,558.7 L249.2,558.7 L248.8,558.8 L248.0,558.9 L247.2,558.9 L246.5,559.0 L246.0,559.0 Z" fill="none" stroke="#6a6a6a" stroke-width="0.45"/>
<path d="M245.8,558.0 L245.0,558.1 L244.2,558.1 L243.5,558.1 L242.8,558.1 L242.0,558.1 L241.2,558.1 L240.5,558.1 L239.8,558.1 L239.0,558.0 L238.5,558.0 L237.8,557.9 L237.0,557.8 L236.5,557.8 L235.8,557.6 L235.1,557.5 L234.5,557.4 L234.0,557.2 L233.2,557.1 L232.8,556.9 L232.1,556.8 L231.5,556.6 L231.0,556.4 L230.5,556.2 L229.9,556.0 L229.4,555.8 L228.9,555.5 L228.5,555.2 L228.0,554.9 L227.5,554.5 L227.2,554.2 L226.8,553.8 L226.5,553.5 L226.1,553.0 L225.9,552.5 L225.6,552.0 L225.5,551.4 L225.4,550.8 L225.5,550.1 L225.6,549.5 L225.8,549.0 L226.1,548.5 L226.3,548.0 L226.7,547.5 L227.0,547.0 L227.2,546.6 L227.5,546.2 L227.8,545.8 L228.1,545.2 L228.4,544.8 L228.7,544.2 L228.9,543.8 L229.2,543.2 L229.5,542.8 L229.8,542.4 L230.0,542.0 L230.4,541.5 L230.8,541.0 L231.0,540.7 L231.4,540.2 L231.8,539.9 L232.1,539.5 L232.5,539.0 L232.8,538.7 L233.2,538.2 L233.5,537.9 L233.8,537.5 L234.2,537.0 L234.5,536.7 L234.9,536.2 L235.2,535.9 L235.6,535.5 L236.0,535.1 L236.3,534.8 L236.8,534.3 L237.0,534.0 L237.5,533.6 L237.8,533.2 L238.2,532.9 L238.7,532.5 L239.0,532.2 L239.5,531.8 L239.8,531.5 L240.2,531.1 L240.7,530.8 L241.0,530.4 L241.5,530.0 L241.8,529.8 L242.2,529.4 L242.7,529.0 L243.0,528.7 L243.5,528.3 L243.8,528.0 L244.2,527.6 L244.7,527.2 L245.0,527.0 L245.5,526.6 L246.0,526.2 L246.3,526.0 L246.8,525.6 L247.2,525.3 L247.6,525.0 L248.0,524.7 L248.5,524.4 L249.0,524.0 L249.4,523.8 L249.8,523.5 L250.2,523.1 L250.8,522.8 L251.2,522.5 L251.7,522.2 L252.2,522.0 L252.8,521.9 L253.3,521.8 L254.0,521.7 L254.8,521.7 L255.2,521.8 L256.0,521.9 L256.5,522.1 L257.0,522.3 L257.5,522.5 L258.0,522.8 L258.5,523.1 L258.9,523.5 L259.2,523.8 L259.8,524.2 L260.0,524.5 L260.5,525.0 L260.8,525.2 L261.2,525.8 L261.5,526.0 L261.9,526.5 L262.2,526.9 L262.6,527.2 L263.0,527.7 L263.2,528.0 L263.7,528.5 L264.0,528.9 L264.3,529.2 L264.8,529.7 L265.0,530.0 L265.4,530.5 L265.8,530.9 L266.0,531.2 L266.5,531.8 L266.8,532.1 L267.1,532.5 L267.5,532.9 L267.9,533.2 L268.2,533.6 L268.7,534.0 L269.0,534.3 L269.5,534.7 L270.0,535.0 L270.4,535.2 L270.8,535.5 L271.2,535.8 L271.8,536.1 L272.2,536.4 L272.8,536.7 L273.2,536.9 L273.8,537.2 L274.2,537.5 L274.7,537.8 L275.2,538.0 L275.7,538.2 L276.2,538.5 L276.8,538.7 L277.2,538.8 L278.0,539.0 L278.8,539.0 L279.5,538.9 L280.0,538.7 L280.5,538.5 L281.0,538.2 L281.5,537.9 L282.0,537.6 L282.4,537.2 L282.8,537.0 L283.2,536.6 L283.7,536.2 L284.0,536.0 L284.5,535.6 L284.9,535.2 L285.2,534.9 L285.7,534.5 L286.0,534.1 L286.3,533.8 L286.6,533.2 L286.8,532.8 L287.0,532.2 L287.2,531.6 L287.4,531.0 L287.5,530.5 L287.7,529.8 L287.8,529.2 L287.9,528.5 L288.0,528.0 L288.2,527.2 L288.3,526.8 L288.4,526.0 L288.5,525.5 L288.7,524.8 L288.8,524.2 L288.9,523.5 L289.0,523.0 L289.2,522.2 L289.2,521.7 L289.4,521.0 L289.5,520.2 L289.5,519.8 L289.6,519.0 L289.6,518.2 L289.7,517.5 L289.8,517.0 L289.8,516.2 L289.9,515.5 L290.0,514.8 L290.0,514.2 L290.1,513.5 L290.1,512.8 L290.2,512.0 L290.2,511.4 L290.3,510.8 L290.4,510.0 L290.4,509.2 L290.5,508.5 L290.5,508.0 L290.5,507.2 L290.5,506.5 L290.5,506.0 L290.5,505.2 L290.4,504.5 L290.3,503.8 L290.3,503.0 L290.2,502.5 L290.1,501.8 L290.1,501.0 L290.0,500.5 L289.9,499.8 L289.8,499.0 L289.8,498.2 L289.7,497.8 L289.6,497.0 L289.5,496.3 L289.4,495.8 L289.2,495.2 L289.0,494.6 L288.8,494.1 L288.5,493.6 L288.2,493.2 L287.9,492.8 L287.5,492.3 L287.2,492.0 L286.8,491.5 L286.5,491.2 L286.0,490.8 L285.7,490.5 L285.2,490.0 L285.0,489.8 L284.5,489.3 L284.2,489.0 L283.8,488.5 L283.5,488.2 L283.0,487.8 L282.7,487.5 L282.2,487.0 L281.9,486.8 L281.5,486.3 L281.1,486.0 L280.8,485.7 L280.2,485.3 L279.8,485.0 L279.2,484.8 L278.8,484.6 L278.2,484.4 L277.7,484.2 L277.0,484.1 L276.5,484.0 L275.8,483.8 L275.2,483.7 L274.5,483.6 L274.0,483.5 L273.2,483.3 L272.8,483.2 L272.0,483.0 L271.5,482.9 L270.8,482.8 L270.2,482.7 L269.7,482.5 L269.0,482.3 L268.5,482.1 L268.0,481.9 L267.5,481.6 L267.0,481.3 L266.6,481.0 L266.2,480.5 L266.0,480.0 L266.0,479.5 L266.1,479.0 L266.3,478.5 L266.8,478.0 L267.1,477.8 L267.5,477.5 L268.0,477.2 L268.6,477.0 L269.2,476.8 L269.8,476.6 L270.2,476.4 L270.8,476.2 L271.4,476.0 L272.0,475.8 L272.5,475.6 L273.0,475.5 L273.7,475.2 L274.2,475.1 L274.8,474.9 L275.5,474.8 L276.0,474.6 L276.5,474.5 L277.2,474.3 L277.8,474.2 L278.5,474.1 L279.0,474.0 L279.8,473.8 L280.2,473.7 L281.0,473.6 L281.5,473.4 L282.2,473.3 L282.8,473.2 L283.5,473.0 L284.0,472.9 L284.8,472.8 L285.2,472.7 L286.0,472.5 L286.5,472.4 L287.2,472.2 L287.8,472.1 L288.5,472.0 L289.0,471.9 L289.8,471.8 L290.2,471.7 L291.0,471.6 L291.8,471.5 L292.3,471.5 L293.0,471.4 L293.8,471.3 L294.2,471.2 L294.9,471.0 L295.5,470.8 L296.0,470.6 L296.5,470.4 L297.0,470.2 L297.5,469.9 L298.0,469.8 L298.8,469.5 L299.2,469.4 L300.0,469.3 L300.8,469.3 L301.5,469.3 L302.2,469.5 L302.8,469.7 L303.2,469.9 L303.8,470.2 L304.2,470.5 L304.6,470.8 L305.0,471.1 L305.4,471.5 L305.8,471.9 L306.1,472.2 L306.5,472.8 L306.8,473.2 L307.0,473.6 L307.2,474.0 L307.5,474.5 L307.8,475.1 L308.0,475.8 L308.1,476.2 L308.2,476.8 L308.4,477.5 L308.6,478.0 L308.8,478.7 L308.9,479.2 L309.0,479.9 L309.1,480.5 L309.2,481.2 L309.3,481.8 L309.3,482.5 L309.4,483.2 L309.4,484.0 L309.4,484.8 L309.5,485.5 L309.5,486.1 L309.5,486.8 L309.6,487.5 L309.6,488.2 L309.6,489.0 L309.6,489.8 L309.6,490.5 L309.7,491.2 L309.7,492.0 L309.7,492.8 L309.7,493.5 L309.8,494.2 L309.8,494.8 L309.8,495.5 L309.9,496.2 L309.9,497.0 L309.9,497.8 L309.9,498.5 L309.9,499.2 L310.0,500.0 L310.0,500.5 L310.0,501.2 L310.1,502.0 L310.1,502.8 L310.1,503.5 L310.1,504.2 L310.2,505.0 L310.2,505.8 L310.2,506.5 L310.2,507.2 L310.2,508.0 L310.2,508.8 L310.2,509.5 L310.2,510.2 L310.2,511.0 L310.2,511.8 L310.3,512.2 L310.3,513.0 L310.3,513.8 L310.3,514.5 L310.3,515.2 L310.3,516.0 L310.3,516.8 L310.3,517.5 L310.3,518.2 L310.4,519.0 L310.4,519.8 L310.4,520.5 L310.4,521.2 L310.4,522.0 L310.4,522.8 L310.4,523.5 L310.4,524.2 L310.5,525.0 L310.5,525.8 L310.5,526.5 L310.5,527.0 L310.5,527.8 L310.5,528.5 L310.5,529.0 L310.5,529.8 L310.5,530.5 L310.5,531.2 L310.5,531.8 L310.5,532.5 L310.5,533.2 L310.5,534.0 L310.5,534.8 L310.5,535.2 L310.5,536.0 L310.5,536.6 L310.5,537.2 L310.5,538.0 L310.5,538.8 L310.6,539.5 L310.6,540.2 L310.6,541.0 L310.6,541.8 L310.7,542.5 L310.8,543.2 L310.9,543.8 L311.0,544.3 L311.2,545.0 L311.5,545.5 L311.7,546.0 L311.9,546.5 L312.2,547.0 L312.4,547.5 L312.6,548.0 L312.8,548.5 L313.0,549.1 L313.1,549.8 L313.2,550.5 L313.2,551.2 L313.0,552.0 L312.9,552.5 L312.7,553.0 L312.4,553.5 L312.1,554.0 L311.8,554.4 L311.4,554.8 L311.0,555.1 L310.5,555.5 L310.1,555.8 L309.7,556.0 L309.2,556.2 L308.6,556.5 L308.0,556.7 L307.5,556.9 L307.0,557.1 L306.3,557.2 L305.8,557.4 L305.0,557.5 L304.5,557.6 L303.8,557.6 L303.0,557.7 L302.2,557.7 L301.5,557.7 L300.8,557.6 L300.0,557.5 L299.5,557.5 L298.8,557.3 L298.2,557.2 L297.5,557.1 L297.0,556.9 L296.2,556.8 L295.8,556.7 L295.1,556.5 L294.5,556.4 L293.9,556.2 L293.2,556.1 L292.5,556.0 L292.0,556.0 L291.2,555.9 L290.5,555.8 L289.8,555.8 L289.2,555.7 L288.5,555.7 L287.8,555.7 L287.0,555.7 L286.2,555.7 L285.5,555.7 L285.0,555.8 L284.2,555.8 L283.5,555.8 L282.8,555.9 L282.0,555.9 L281.2,555.9 L280.5,555.9 L279.8,555.9 L279.0,555.9 L278.2,555.9 L277.5,555.9 L276.8,555.9 L276.0,555.9 L275.2,556.0 L274.5,556.0 L274.0,556.0 L273.2,556.1 L272.5,556.1 L271.8,556.1 L271.0,556.2 L270.2,556.2 L269.5,556.2 L268.8,556.2 L268.0,556.2 L267.2,556.2 L266.5,556.2 L265.8,556.2 L265.0,556.2 L264.2,556.2 L263.5,556.2 L262.9,556.2 L262.2,556.3 L261.5,556.3 L260.8,556.3 L260.0,556.4 L259.2,556.4 L258.5,556.5 L258.0,556.5 L257.2,556.6 L256.5,556.7 L256.0,556.8 L255.2,556.9 L254.5,557.0 L254.0,557.0 L253.2,557.1 L252.5,557.2 L252.0,557.3 L251.2,557.4 L250.7,557.5 L250.0,557.6 L249.2,557.7 L248.6,557.8 L248.0,557.8 L247.2,557.9 L246.5,558.0 L245.8,558.0 Z" fill="none" stroke="#626262" stroke-width="0.45"/>
<path d="M245.5,557.3 L244.8,557.3 L244.0,557.3 L243.2,557.4 L242.5,557.4 L241.8,557.4 L241.0,557.4 L240.2,557.3 L239.5,557.3 L238.8,557.3 L238.2,557.2 L237.5,557.1 L236.8,557.0 L236.2,556.9 L235.5,556.8 L235.0,556.7 L234.3,556.5 L233.8,556.4 L233.2,556.2 L232.5,556.0 L232.0,555.8 L231.5,555.7 L231.0,555.5 L230.5,555.2 L230.0,555.0 L229.5,554.7 L229.0,554.4 L228.5,554.0 L228.2,553.7 L227.8,553.2 L227.5,552.8 L227.2,552.4 L227.0,551.8 L226.9,551.2 L226.8,550.5 L226.9,549.8 L227.1,549.2 L227.3,548.8 L227.5,548.2 L227.8,547.8 L228.1,547.2 L228.5,546.8 L228.8,546.3 L229.0,546.0 L229.3,545.5 L229.6,545.0 L229.9,544.5 L230.2,544.0 L230.5,543.6 L230.8,543.2 L231.1,542.8 L231.5,542.3 L231.8,542.0 L232.1,541.5 L232.5,541.1 L232.8,540.8 L233.2,540.2 L233.5,540.0 L233.9,539.5 L234.2,539.1 L234.6,538.8 L235.0,538.3 L235.2,538.0 L235.7,537.5 L236.0,537.1 L236.3,536.8 L236.8,536.3 L237.0,536.0 L237.5,535.5 L237.8,535.2 L238.2,534.8 L238.5,534.5 L239.0,534.1 L239.4,533.8 L239.8,533.4 L240.2,533.0 L240.5,532.7 L241.0,532.3 L241.3,532.0 L241.8,531.6 L242.2,531.2 L242.5,531.0 L243.0,530.6 L243.4,530.2 L243.8,529.9 L244.2,529.5 L244.5,529.2 L245.0,528.8 L245.4,528.5 L245.8,528.2 L246.2,527.8 L246.6,527.5 L247.0,527.2 L247.5,526.8 L247.9,526.5 L248.3,526.2 L248.8,525.9 L249.2,525.6 L249.7,525.2 L250.0,525.0 L250.5,524.7 L251.0,524.3 L251.5,524.0 L252.0,523.8 L252.5,523.5 L253.0,523.4 L253.5,523.2 L254.2,523.2 L255.0,523.2 L255.5,523.3 L256.1,523.5 L256.7,523.8 L257.2,524.0 L257.6,524.2 L258.0,524.6 L258.5,525.0 L258.8,525.2 L259.2,525.7 L259.5,526.0 L260.0,526.5 L260.3,526.8 L260.7,527.2 L261.0,527.5 L261.4,528.0 L261.8,528.4 L262.1,528.8 L262.5,529.2 L262.8,529.6 L263.1,530.0 L263.5,530.4 L263.8,530.8 L264.2,531.2 L264.5,531.6 L264.8,532.0 L265.2,532.5 L265.5,532.8 L265.9,533.2 L266.2,533.6 L266.6,534.0 L267.0,534.4 L267.4,534.8 L267.8,535.0 L268.2,535.5 L268.6,535.8 L269.0,536.0 L269.5,536.3 L270.0,536.7 L270.5,537.0 L271.0,537.2 L271.4,537.5 L271.9,537.8 L272.3,538.0 L272.8,538.3 L273.2,538.5 L273.8,538.8 L274.2,539.1 L274.8,539.3 L275.2,539.6 L275.8,539.8 L276.2,540.0 L276.9,540.2 L277.5,540.4 L278.2,540.5 L279.0,540.4 L279.8,540.3 L280.2,540.2 L280.8,540.0 L281.2,539.7 L281.8,539.4 L282.2,539.1 L282.8,538.8 L283.1,538.5 L283.5,538.2 L284.0,537.8 L284.4,537.5 L284.8,537.2 L285.2,536.8 L285.6,536.5 L286.0,536.2 L286.5,535.8 L286.8,535.4 L287.1,535.0 L287.5,534.5 L287.8,534.1 L288.0,533.6 L288.2,533.1 L288.4,532.5 L288.6,532.0 L288.8,531.4 L288.9,530.8 L289.0,530.2 L289.2,529.5 L289.3,529.0 L289.4,528.2 L289.5,527.8 L289.7,527.0 L289.8,526.5 L289.9,525.8 L290.0,525.2 L290.2,524.5 L290.3,524.0 L290.4,523.2 L290.5,522.7 L290.6,522.0 L290.7,521.2 L290.8,520.8 L290.9,520.0 L291.0,519.2 L291.0,518.8 L291.1,518.0 L291.1,517.2 L291.2,516.5 L291.3,516.0 L291.3,515.2 L291.4,514.5 L291.4,513.8 L291.5,513.1 L291.6,512.5 L291.6,511.8 L291.7,511.0 L291.7,510.2 L291.8,509.8 L291.8,509.0 L291.9,508.2 L291.9,507.5 L291.9,506.8 L291.9,506.0 L291.9,505.2 L291.8,504.5 L291.8,503.9 L291.7,503.2 L291.6,502.5 L291.5,501.8 L291.5,501.2 L291.4,500.5 L291.3,499.8 L291.2,499.1 L291.2,498.5 L291.1,497.8 L291.0,497.0 L290.9,496.5 L290.8,495.8 L290.7,495.2 L290.5,494.5 L290.3,494.0 L290.1,493.5 L289.8,493.0 L289.5,492.6 L289.2,492.2 L288.8,491.8 L288.5,491.4 L288.2,491.0 L287.8,490.6 L287.4,490.2 L287.0,489.8 L286.7,489.5 L286.2,489.1 L285.9,488.8 L285.5,488.3 L285.2,488.0 L284.8,487.6 L284.4,487.2 L284.0,486.8 L283.7,486.5 L283.2,486.1 L282.9,485.8 L282.5,485.4 L282.1,485.0 L281.8,484.7 L281.2,484.3 L280.8,484.0 L280.4,483.8 L279.9,483.5 L279.3,483.2 L278.8,483.1 L278.2,482.9 L277.5,482.8 L277.0,482.6 L276.4,482.5 L275.8,482.4 L275.2,482.2 L274.5,482.1 L274.0,482.0 L273.2,481.8 L272.8,481.7 L272.1,481.5 L271.5,481.3 L271.0,481.2 L270.5,481.0 L270.0,480.8 L269.5,480.5 L269.1,480.0 L268.9,479.5 L269.2,479.0 L269.5,478.7 L270.0,478.3 L270.5,478.1 L271.0,477.8 L271.5,477.6 L272.0,477.4 L272.5,477.2 L273.1,477.0 L273.8,476.8 L274.2,476.6 L274.8,476.4 L275.4,476.2 L276.0,476.1 L276.5,476.0 L277.2,475.8 L277.8,475.7 L278.5,475.5 L279.0,475.4 L279.7,475.2 L280.2,475.1 L280.9,475.0 L281.5,474.9 L282.1,474.8 L282.8,474.6 L283.3,474.5 L284.0,474.3 L284.5,474.2 L285.2,474.1 L285.8,474.0 L286.5,473.8 L287.0,473.7 L287.8,473.6 L288.2,473.5 L289.0,473.3 L289.5,473.2 L290.2,473.1 L291.0,473.0 L291.5,473.0 L292.2,472.9 L293.0,472.8 L293.5,472.7 L294.2,472.5 L294.8,472.3 L295.2,472.1 L295.8,471.9 L296.2,471.7 L296.8,471.5 L297.3,471.2 L297.9,471.0 L298.5,470.8 L299.0,470.6 L299.7,470.5 L300.2,470.4 L301.0,470.5 L301.5,470.5 L302.2,470.7 L302.8,470.9 L303.2,471.2 L303.8,471.5 L304.2,471.8 L304.5,472.0 L305.0,472.5 L305.2,472.8 L305.6,473.2 L306.0,473.7 L306.2,474.1 L306.5,474.6 L306.8,475.1 L307.0,475.7 L307.2,476.2 L307.4,476.8 L307.5,477.2 L307.7,478.0 L307.9,478.5 L308.0,479.0 L308.2,479.8 L308.3,480.2 L308.4,481.0 L308.5,481.8 L308.5,482.2 L308.5,483.0 L308.6,483.8 L308.6,484.5 L308.7,485.2 L308.7,486.0 L308.7,486.8 L308.7,487.5 L308.7,488.2 L308.7,489.0 L308.8,489.5 L308.8,490.2 L308.8,491.0 L308.8,491.8 L308.8,492.5 L308.8,493.2 L308.9,494.0 L308.9,494.8 L309.0,495.5 L309.0,496.2 L309.0,496.8 L309.0,497.5 L309.0,498.2 L309.1,499.0 L309.1,499.8 L309.1,500.5 L309.2,501.2 L309.2,502.0 L309.2,502.8 L309.2,503.3 L309.3,504.0 L309.3,504.8 L309.3,505.5 L309.3,506.2 L309.3,507.0 L309.3,507.8 L309.3,508.5 L309.3,509.2 L309.3,510.0 L309.4,510.8 L309.4,511.5 L309.4,512.2 L309.4,513.0 L309.4,513.8 L309.4,514.5 L309.4,515.2 L309.4,516.0 L309.4,516.8 L309.4,517.5 L309.5,518.2 L309.5,519.0 L309.5,519.8 L309.5,520.2 L309.5,521.0 L309.5,521.8 L309.5,522.5 L309.5,523.2 L309.5,524.0 L309.6,524.8 L309.6,525.5 L309.6,526.2 L309.6,527.0 L309.6,527.8 L309.6,528.5 L309.6,529.2 L309.6,530.0 L309.6,530.8 L309.6,531.5 L309.6,532.2 L309.6,533.0 L309.6,533.8 L309.6,534.5 L309.6,535.2 L309.6,536.0 L309.6,536.8 L309.6,537.5 L309.6,538.2 L309.6,539.0 L309.6,539.8 L309.6,540.5 L309.6,541.2 L309.6,542.0 L309.7,542.8 L309.8,543.3 L309.9,544.0 L310.0,544.5 L310.2,545.1 L310.5,545.7 L310.7,546.2 L311.0,546.8 L311.2,547.2 L311.4,547.8 L311.6,548.2 L311.8,548.8 L312.0,549.5 L312.1,550.0 L312.1,550.8 L312.0,551.5 L311.9,552.0 L311.7,552.5 L311.5,553.0 L311.2,553.5 L310.8,554.0 L310.5,554.3 L310.0,554.7 L309.6,555.0 L309.2,555.2 L308.7,555.5 L308.2,555.8 L307.6,556.0 L307.0,556.2 L306.5,556.4 L305.9,556.5 L305.2,556.7 L304.6,556.8 L304.0,556.8 L303.2,556.9 L302.5,556.9 L301.8,556.9 L301.0,556.9 L300.2,556.8 L299.8,556.7 L299.0,556.6 L298.5,556.5 L297.8,556.3 L297.2,556.1 L296.8,556.0 L296.0,555.8 L295.5,555.6 L295.0,555.5 L294.3,555.2 L293.8,555.1 L293.2,555.0 L292.5,554.8 L292.0,554.7 L291.2,554.6 L290.6,554.5 L290.0,554.4 L289.2,554.4 L288.5,554.4 L287.8,554.3 L287.0,554.3 L286.2,554.3 L285.5,554.3 L284.8,554.4 L284.0,554.4 L283.2,554.5 L282.5,554.5 L282.0,554.5 L281.2,554.5 L280.5,554.5 L279.8,554.5 L279.0,554.6 L278.2,554.6 L277.5,554.6 L276.8,554.6 L276.0,554.6 L275.2,554.6 L274.5,554.6 L273.8,554.6 L273.0,554.7 L272.2,554.7 L271.7,554.8 L271.0,554.8 L270.2,554.8 L269.5,554.8 L268.8,554.8 L268.0,554.8 L267.2,554.8 L266.5,554.8 L265.8,554.8 L265.0,554.8 L264.2,554.9 L263.5,554.9 L262.8,554.9 L262.0,555.0 L261.2,555.0 L260.8,555.0 L260.0,555.1 L259.2,555.2 L258.7,555.2 L258.0,555.4 L257.2,555.5 L256.8,555.5 L256.0,555.7 L255.5,555.8 L254.8,555.9 L254.2,556.0 L253.5,556.1 L252.9,556.2 L252.2,556.4 L251.5,556.5 L251.0,556.6 L250.2,556.7 L249.8,556.8 L249.0,556.9 L248.2,557.0 L247.8,557.0 L247.0,557.1 L246.2,557.2 L245.6,557.2 Z" fill="none" stroke="#5a5a5a" stroke-width="0.45"/>
<path d="M243.8,556.8 L243.0,556.8 L242.2,556.8 L241.5,556.8 L240.8,556.8 L240.2,556.8 L239.5,556.7 L238.8,556.7 L238.0,556.6 L237.5,556.5 L236.8,556.4 L236.1,556.2 L235.5,556.1 L235.0,556.0 L234.2,555.8 L233.8,555.7 L233.2,555.5 L232.5,555.3 L232.0,555.1 L231.5,554.9 L231.0,554.7 L230.5,554.4 L230.0,554.1 L229.5,553.8 L229.2,553.5 L228.8,553.0 L228.5,552.6 L228.2,552.2 L228.0,551.5 L227.9,551.0 L227.9,550.2 L228.0,549.7 L228.2,549.0 L228.5,548.5 L228.7,548.0 L229.0,547.6 L229.2,547.2 L229.6,546.8 L229.9,546.2 L230.2,545.8 L230.5,545.5 L230.9,545.0 L231.2,544.5 L231.5,544.2 L231.8,543.8 L232.2,543.2 L232.5,542.9 L232.9,542.5 L233.2,542.1 L233.6,541.8 L234.0,541.3 L234.3,541.0 L234.8,540.5 L235.0,540.2 L235.4,539.8 L235.8,539.4 L236.1,539.0 L236.5,538.5 L236.8,538.2 L237.2,537.8 L237.5,537.4 L237.9,537.0 L238.2,536.6 L238.6,536.2 L239.0,535.9 L239.4,535.5 L239.8,535.2 L240.2,534.8 L240.5,534.5 L241.0,534.0 L241.3,533.8 L241.8,533.4 L242.2,533.0 L242.5,532.7 L243.0,532.3 L243.3,532.0 L243.8,531.6 L244.2,531.2 L244.5,531.0 L245.0,530.6 L245.4,530.2 L245.8,529.9 L246.2,529.5 L246.6,529.2 L247.0,528.9 L247.5,528.5 L247.8,528.2 L248.2,527.9 L248.8,527.5 L249.1,527.2 L249.5,527.0 L250.0,526.6 L250.5,526.3 L250.9,526.0 L251.3,525.8 L251.8,525.5 L252.2,525.2 L252.8,525.0 L253.4,524.8 L254.0,524.6 L254.8,524.6 L255.4,524.8 L256.0,525.0 L256.5,525.2 L257.0,525.5 L257.3,525.8 L257.8,526.1 L258.2,526.5 L258.5,526.8 L258.9,527.2 L259.2,527.6 L259.6,528.0 L260.0,528.4 L260.3,528.8 L260.8,529.2 L261.0,529.5 L261.4,530.0 L261.8,530.4 L262.0,530.8 L262.5,531.2 L262.8,531.6 L263.1,532.0 L263.5,532.4 L263.8,532.8 L264.2,533.2 L264.5,533.6 L264.9,534.0 L265.2,534.4 L265.5,534.8 L266.0,535.2 L266.3,535.5 L266.8,535.9 L267.1,536.2 L267.5,536.5 L268.0,536.9 L268.5,537.2 L268.9,537.5 L269.3,537.8 L269.8,538.0 L270.2,538.3 L270.8,538.6 L271.2,538.9 L271.8,539.2 L272.2,539.5 L272.7,539.8 L273.2,540.0 L273.6,540.2 L274.1,540.5 L274.6,540.8 L275.1,541.0 L275.7,541.2 L276.2,541.4 L276.8,541.6 L277.5,541.7 L278.0,541.8 L278.8,541.8 L279.4,541.8 L280.0,541.6 L280.5,541.5 L281.2,541.2 L281.7,541.0 L282.2,540.8 L282.6,540.5 L283.0,540.2 L283.5,539.8 L284.0,539.5 L284.3,539.2 L284.8,538.9 L285.2,538.5 L285.6,538.2 L286.0,537.9 L286.5,537.5 L286.8,537.2 L287.2,536.8 L287.6,536.5 L288.0,536.1 L288.3,535.8 L288.6,535.2 L288.9,534.8 L289.2,534.2 L289.4,533.8 L289.6,533.2 L289.8,532.8 L290.0,532.0 L290.1,531.5 L290.2,530.8 L290.3,530.2 L290.5,529.5 L290.6,529.0 L290.8,528.3 L290.9,527.8 L291.0,527.0 L291.1,526.5 L291.2,525.8 L291.3,525.2 L291.5,524.5 L291.6,524.0 L291.7,523.2 L291.8,522.8 L291.9,522.0 L292.0,521.5 L292.1,520.8 L292.2,520.0 L292.3,519.5 L292.3,518.8 L292.4,518.0 L292.5,517.2 L292.5,516.8 L292.6,516.0 L292.6,515.2 L292.7,514.5 L292.8,513.9 L292.8,513.2 L292.9,512.5 L292.9,511.8 L293.0,511.0 L293.0,510.5 L293.1,509.8 L293.2,509.0 L293.2,508.2 L293.2,507.5 L293.2,506.8 L293.2,506.0 L293.2,505.2 L293.1,504.5 L293.1,503.8 L293.0,503.2 L292.9,502.5 L292.9,501.8 L292.8,501.0 L292.7,500.5 L292.6,499.8 L292.6,499.0 L292.5,498.4 L292.4,497.8 L292.3,497.0 L292.2,496.3 L292.2,495.8 L292.0,495.0 L291.9,494.5 L291.7,494.0 L291.5,493.4 L291.2,492.9 L291.0,492.4 L290.7,492.0 L290.3,491.5 L290.0,491.1 L289.7,490.8 L289.3,490.2 L289.0,490.0 L288.5,489.5 L288.2,489.2 L287.8,488.8 L287.5,488.5 L287.0,488.0 L286.8,487.7 L286.3,487.2 L286.0,487.0 L285.5,486.5 L285.2,486.2 L284.8,485.8 L284.5,485.5 L284.0,485.0 L283.8,484.7 L283.2,484.3 L283.0,484.0 L282.5,483.6 L282.1,483.2 L281.7,483.0 L281.2,482.7 L280.8,482.4 L280.2,482.2 L279.8,482.0 L279.2,481.8 L278.5,481.5 L278.0,481.4 L277.5,481.2 L276.8,481.0 L276.2,480.9 L275.8,480.7 L275.1,480.5 L274.5,480.2 L274.1,480.0 L273.8,479.6 L273.8,479.1 L274.0,478.8 L274.5,478.4 L275.0,478.1 L275.5,477.9 L276.0,477.7 L276.5,477.5 L277.2,477.3 L277.8,477.2 L278.3,477.0 L279.0,476.8 L279.5,476.7 L280.2,476.5 L280.8,476.4 L281.5,476.2 L282.0,476.1 L282.6,476.0 L283.2,475.9 L283.8,475.7 L284.5,475.6 L285.0,475.5 L285.8,475.3 L286.2,475.2 L287.0,475.1 L287.5,475.0 L288.2,474.8 L288.8,474.7 L289.5,474.6 L290.0,474.5 L290.8,474.4 L291.5,474.3 L292.0,474.2 L292.8,474.1 L293.2,474.0 L294.0,473.8 L294.5,473.6 L295.0,473.4 L295.5,473.1 L296.0,472.9 L296.5,472.6 L297.0,472.4 L297.5,472.1 L298.0,471.9 L298.5,471.7 L299.2,471.5 L299.8,471.4 L300.5,471.4 L301.2,471.4 L301.8,471.5 L302.4,471.8 L303.0,472.0 L303.4,472.2 L303.8,472.5 L304.2,472.9 L304.6,473.2 L305.0,473.7 L305.3,474.0 L305.6,474.5 L305.9,475.0 L306.2,475.5 L306.4,476.0 L306.6,476.5 L306.8,477.0 L307.0,477.8 L307.1,478.2 L307.3,478.8 L307.5,479.5 L307.6,480.0 L307.7,480.8 L307.8,481.2 L307.8,482.0 L307.9,482.8 L307.9,483.5 L307.9,484.2 L308.0,485.0 L308.0,485.8 L308.0,486.3 L308.0,487.0 L308.0,487.8 L308.0,488.5 L308.0,489.2 L308.0,490.0 L308.0,490.8 L308.1,491.5 L308.1,492.2 L308.1,493.0 L308.1,493.8 L308.1,494.5 L308.2,495.2 L308.2,496.0 L308.2,496.8 L308.3,497.2 L308.3,498.0 L308.3,498.8 L308.3,499.5 L308.3,500.2 L308.4,501.0 L308.4,501.8 L308.5,502.5 L308.5,503.2 L308.5,504.0 L308.5,504.5 L308.5,505.2 L308.5,506.0 L308.5,506.8 L308.5,507.5 L308.5,508.2 L308.5,509.0 L308.6,509.8 L308.6,510.5 L308.6,511.2 L308.6,512.0 L308.6,512.8 L308.6,513.5 L308.6,514.2 L308.6,515.0 L308.6,515.8 L308.6,516.5 L308.7,517.2 L308.7,518.0 L308.7,518.8 L308.7,519.5 L308.7,520.2 L308.7,521.0 L308.7,521.8 L308.7,522.5 L308.8,523.0 L308.8,523.8 L308.8,524.5 L308.8,525.2 L308.8,526.0 L308.8,526.8 L308.8,527.5 L308.8,528.2 L308.8,529.0 L308.8,529.8 L308.8,530.5 L308.8,531.2 L308.8,532.0 L308.8,532.8 L308.8,533.5 L308.8,534.2 L308.8,535.0 L308.8,535.8 L308.7,536.2 L308.7,537.0 L308.8,537.5 L308.8,538.2 L308.8,539.0 L308.8,539.5 L308.7,540.2 L308.8,540.8 L308.8,541.5 L308.8,542.2 L308.9,543.0 L309.0,543.8 L309.1,544.2 L309.3,544.8 L309.5,545.4 L309.8,546.0 L310.0,546.5 L310.2,547.0 L310.5,547.5 L310.7,548.0 L310.9,548.5 L311.1,549.0 L311.2,549.8 L311.3,550.2 L311.3,551.0 L311.2,551.5 L311.0,552.1 L310.8,552.7 L310.5,553.1 L310.2,553.5 L309.8,554.0 L309.4,554.2 L309.0,554.6 L308.5,554.9 L308.0,555.1 L307.5,555.3 L307.0,555.5 L306.3,555.8 L305.8,555.9 L305.2,556.0 L304.5,556.2 L303.8,556.2 L303.2,556.3 L302.5,556.3 L301.8,556.3 L301.1,556.2 L300.5,556.2 L299.8,556.1 L299.2,556.0 L298.5,555.8 L298.0,555.6 L297.5,555.5 L296.9,555.2 L296.2,555.0 L295.8,554.8 L295.2,554.6 L294.8,554.5 L294.2,554.2 L293.5,554.0 L293.0,553.8 L292.5,553.7 L291.8,553.5 L291.2,553.4 L290.5,553.2 L290.0,553.2 L289.2,553.1 L288.5,553.1 L287.8,553.0 L287.0,553.0 L286.2,553.0 L285.5,553.0 L284.8,553.1 L284.0,553.1 L283.2,553.1 L282.5,553.2 L281.8,553.2 L281.0,553.2 L280.2,553.2 L279.5,553.2 L278.8,553.2 L278.0,553.2 L277.2,553.2 L276.5,553.2 L276.0,553.3 L275.2,553.3 L274.5,553.3 L273.8,553.3 L273.0,553.4 L272.2,553.4 L271.5,553.4 L270.8,553.5 L270.0,553.5 L269.2,553.5 L268.8,553.5 L268.0,553.5 L267.2,553.5 L266.5,553.5 L265.8,553.5 L265.0,553.6 L264.2,553.6 L263.5,553.6 L262.8,553.7 L262.0,553.7 L261.5,553.8 L260.8,553.8 L260.0,553.9 L259.5,554.0 L258.8,554.1 L258.1,554.2 L257.5,554.4 L256.9,554.5 L256.2,554.7 L255.8,554.8 L255.0,555.0 L254.5,555.1 L253.8,555.2 L253.2,555.4 L252.7,555.5 L252.0,555.7 L251.5,555.8 L250.8,555.9 L250.2,556.0 L249.5,556.1 L248.9,556.2 L248.2,556.3 L247.5,556.4 L247.0,556.5 L246.2,556.6 L245.5,556.7 L244.8,556.7 L244.0,556.7 Z" fill="none" stroke="#555555" stroke-width="0.45"/>
<path d="M243.5,556.3 L242.8,556.3 L242.0,556.3 L241.2,556.3 L240.5,556.3 L240.0,556.2 L239.2,556.2 L238.5,556.1 L237.8,556.0 L237.2,555.9 L236.5,555.8 L236.0,555.7 L235.3,555.5 L234.8,555.4 L234.2,555.2 L233.6,555.0 L233.0,554.8 L232.5,554.6 L232.0,554.4 L231.5,554.1 L231.0,553.9 L230.5,553.5 L230.2,553.2 L229.8,552.9 L229.5,552.5 L229.2,552.0 L229.0,551.5 L228.8,550.8 L228.9,550.0 L229.0,549.5 L229.2,548.8 L229.5,548.4 L229.8,548.0 L230.1,547.5 L230.4,547.0 L230.8,546.6 L231.0,546.2 L231.4,545.8 L231.8,545.4 L232.1,545.0 L232.5,544.5 L232.8,544.2 L233.2,543.8 L233.5,543.5 L234.0,543.0 L234.3,542.8 L234.8,542.3 L235.0,542.0 L235.5,541.5 L235.8,541.2 L236.2,540.8 L236.5,540.5 L236.9,540.0 L237.2,539.6 L237.6,539.2 L238.0,538.8 L238.3,538.5 L238.7,538.0 L239.0,537.7 L239.4,537.2 L239.8,536.9 L240.2,536.5 L240.5,536.2 L241.0,535.8 L241.3,535.5 L241.8,535.1 L242.2,534.8 L242.5,534.4 L243.0,534.0 L243.3,533.8 L243.8,533.4 L244.2,533.0 L244.5,532.7 L245.0,532.3 L245.3,532.0 L245.8,531.6 L246.2,531.2 L246.5,531.0 L247.0,530.6 L247.4,530.2 L247.8,529.9 L248.2,529.5 L248.6,529.2 L249.0,529.0 L249.5,528.6 L250.0,528.2 L250.3,528.0 L250.8,527.7 L251.2,527.4 L251.8,527.0 L252.2,526.8 L252.7,526.5 L253.2,526.3 L253.8,526.1 L254.5,526.1 L255.2,526.2 L255.8,526.4 L256.2,526.7 L256.7,527.0 L257.0,527.2 L257.5,527.7 L257.8,528.0 L258.2,528.4 L258.6,528.8 L259.0,529.2 L259.3,529.5 L259.7,530.0 L260.0,530.4 L260.3,530.8 L260.8,531.2 L261.0,531.5 L261.4,532.0 L261.8,532.4 L262.1,532.8 L262.5,533.2 L262.8,533.6 L263.1,534.0 L263.5,534.4 L263.8,534.8 L264.2,535.2 L264.5,535.5 L265.0,536.0 L265.2,536.3 L265.7,536.8 L266.0,537.0 L266.5,537.4 L266.9,537.8 L267.3,538.0 L267.8,538.3 L268.2,538.6 L268.8,539.0 L269.2,539.2 L269.7,539.5 L270.1,539.8 L270.5,540.0 L271.0,540.3 L271.5,540.5 L272.0,540.8 L272.5,541.1 L273.0,541.4 L273.5,541.6 L274.0,541.9 L274.5,542.1 L275.0,542.4 L275.5,542.6 L276.0,542.8 L276.8,542.9 L277.2,543.0 L278.0,543.1 L278.8,543.1 L279.5,543.1 L280.0,543.0 L280.8,542.8 L281.2,542.6 L281.8,542.4 L282.2,542.2 L282.8,541.9 L283.2,541.6 L283.8,541.3 L284.1,541.0 L284.5,540.7 L285.0,540.3 L285.4,540.0 L285.8,539.7 L286.2,539.3 L286.7,539.0 L287.0,538.8 L287.5,538.3 L287.9,538.0 L288.2,537.7 L288.7,537.2 L289.0,536.9 L289.3,536.5 L289.7,536.0 L290.0,535.5 L290.2,535.1 L290.5,534.5 L290.7,534.0 L290.9,533.5 L291.0,533.0 L291.2,532.2 L291.3,531.8 L291.5,531.0 L291.6,530.5 L291.8,529.8 L291.9,529.2 L292.0,528.6 L292.1,528.0 L292.2,527.3 L292.4,526.8 L292.5,526.1 L292.6,525.5 L292.8,524.8 L292.9,524.2 L293.0,523.5 L293.1,523.0 L293.2,522.2 L293.3,521.8 L293.4,521.0 L293.5,520.2 L293.5,519.8 L293.6,519.0 L293.7,518.2 L293.7,517.5 L293.8,517.0 L293.8,516.2 L293.9,515.5 L294.0,514.8 L294.0,514.2 L294.1,513.5 L294.1,512.8 L294.2,512.0 L294.2,511.4 L294.3,510.8 L294.4,510.0 L294.4,509.2 L294.5,508.5 L294.5,507.8 L294.5,507.2 L294.5,506.5 L294.5,506.0 L294.5,505.2 L294.4,504.5 L294.3,503.8 L294.3,503.0 L294.2,502.5 L294.2,501.8 L294.1,501.0 L294.0,500.3 L293.9,499.8 L293.9,499.0 L293.8,498.2 L293.7,497.8 L293.6,497.0 L293.5,496.2 L293.5,495.8 L293.3,495.0 L293.2,494.5 L293.0,493.8 L292.8,493.2 L292.6,492.8 L292.4,492.2 L292.1,491.8 L291.8,491.2 L291.5,490.9 L291.2,490.5 L290.8,490.0 L290.5,489.7 L290.1,489.2 L289.8,488.9 L289.3,488.5 L289.0,488.2 L288.6,487.8 L288.2,487.4 L287.9,487.0 L287.5,486.6 L287.1,486.2 L286.8,485.9 L286.4,485.5 L286.0,485.1 L285.6,484.8 L285.2,484.4 L284.9,484.0 L284.5,483.6 L284.1,483.2 L283.8,482.9 L283.3,482.5 L283.0,482.2 L282.5,481.8 L282.1,481.5 L281.7,481.2 L281.2,480.9 L280.8,480.6 L280.2,480.3 L279.9,480.0 L279.5,479.6 L279.5,479.0 L279.8,478.7 L280.2,478.4 L280.8,478.1 L281.2,477.9 L281.8,477.7 L282.4,477.5 L283.0,477.3 L283.5,477.2 L284.2,477.0 L284.8,476.9 L285.3,476.8 L286.0,476.6 L286.5,476.5 L287.2,476.3 L287.8,476.2 L288.5,476.1 L289.0,476.0 L289.8,475.8 L290.2,475.7 L291.0,475.6 L291.8,475.5 L292.2,475.4 L293.0,475.3 L293.5,475.1 L294.0,475.0 L294.5,474.7 L295.0,474.5 L295.5,474.2 L296.0,473.9 L296.5,473.6 L297.0,473.3 L297.5,473.0 L298.0,472.8 L298.5,472.6 L299.0,472.4 L299.8,472.3 L300.2,472.2 L301.0,472.2 L301.5,472.3 L302.1,472.5 L302.7,472.8 L303.1,473.0 L303.5,473.2 L304.0,473.7 L304.4,474.0 L304.8,474.4 L305.0,474.8 L305.3,475.2 L305.6,475.8 L305.8,476.2 L306.0,476.8 L306.2,477.3 L306.5,478.0 L306.6,478.5 L306.8,479.1 L306.9,479.8 L307.0,480.2 L307.1,481.0 L307.2,481.8 L307.3,482.2 L307.3,483.0 L307.3,483.8 L307.3,484.5 L307.4,485.2 L307.4,486.0 L307.4,486.8 L307.4,487.5 L307.4,488.2 L307.3,489.0 L307.3,489.8 L307.3,490.5 L307.3,491.2 L307.3,492.0 L307.3,492.8 L307.4,493.5 L307.4,494.2 L307.4,495.0 L307.4,495.8 L307.5,496.5 L307.5,497.2 L307.5,497.8 L307.5,498.5 L307.5,499.2 L307.6,500.0 L307.6,500.8 L307.6,501.5 L307.7,502.2 L307.7,503.0 L307.7,503.8 L307.7,504.5 L307.8,505.0 L307.8,505.8 L307.8,506.5 L307.8,507.2 L307.8,508.0 L307.8,508.8 L307.8,509.5 L307.8,510.2 L307.8,511.0 L307.9,511.8 L307.9,512.5 L307.9,513.2 L307.9,514.0 L307.9,514.8 L307.9,515.5 L307.9,516.2 L307.9,517.0 L307.9,517.8 L307.9,518.5 L308.0,519.2 L308.0,520.0 L308.0,520.8 L308.0,521.5 L308.0,522.2 L308.0,522.8 L308.0,523.5 L308.0,524.2 L308.0,525.0 L308.1,525.8 L308.1,526.5 L308.1,527.2 L308.1,528.0 L308.1,528.8 L308.1,529.5 L308.0,530.2 L308.0,531.0 L308.0,531.8 L308.0,532.5 L308.0,533.2 L308.0,534.0 L308.0,534.8 L308.0,535.2 L308.0,536.0 L308.0,536.8 L308.0,537.5 L308.0,538.2 L308.0,539.0 L308.0,539.8 L308.0,540.5 L308.0,541.2 L308.0,541.8 L308.0,542.5 L308.1,543.2 L308.2,543.9 L308.4,544.5 L308.6,545.0 L308.8,545.5 L309.0,546.0 L309.2,546.6 L309.5,547.1 L309.8,547.6 L310.0,548.1 L310.2,548.8 L310.4,549.2 L310.5,549.8 L310.6,550.5 L310.5,551.2 L310.4,551.8 L310.2,552.2 L309.9,552.8 L309.5,553.2 L309.2,553.5 L308.8,554.0 L308.3,554.2 L307.9,554.5 L307.4,554.8 L306.8,555.0 L306.2,555.2 L305.8,555.3 L305.1,555.5 L304.5,555.6 L303.8,555.7 L303.2,555.8 L302.5,555.8 L301.8,555.8 L301.2,555.7 L300.5,555.6 L299.8,555.5 L299.2,555.4 L298.8,555.2 L298.0,555.0 L297.5,554.8 L297.0,554.6 L296.5,554.4 L296.0,554.2 L295.5,553.9 L295.0,553.7 L294.5,553.4 L294.0,553.2 L293.5,552.9 L293.0,552.7 L292.4,552.5 L291.8,552.3 L291.2,552.2 L290.5,552.0 L290.0,551.9 L289.2,551.8 L288.5,551.8 L287.8,551.8 L287.2,551.7 L286.5,551.7 L285.8,551.7 L285.2,551.8 L284.5,551.8 L283.8,551.8 L283.0,551.9 L282.2,551.9 L281.5,551.9 L280.8,551.9 L280.0,552.0 L279.2,552.0 L278.5,552.0 L277.8,552.0 L277.0,552.0 L276.2,552.0 L275.5,552.0 L274.8,552.0 L274.2,552.0 L273.5,552.0 L272.8,552.1 L272.0,552.1 L271.2,552.2 L270.5,552.2 L269.8,552.2 L269.0,552.2 L268.2,552.2 L267.5,552.2 L266.8,552.2 L266.1,552.2 L265.5,552.3 L264.8,552.3 L264.0,552.3 L263.2,552.4 L262.5,552.4 L261.8,552.5 L261.2,552.6 L260.5,552.7 L260.0,552.8 L259.2,552.9 L258.8,553.0 L258.0,553.2 L257.5,553.3 L256.9,553.5 L256.2,553.7 L255.8,553.9 L255.2,554.0 L254.5,554.2 L254.0,554.4 L253.5,554.5 L252.8,554.8 L252.2,554.9 L251.8,555.0 L251.0,555.2 L250.5,555.3 L249.8,555.5 L249.2,555.6 L248.5,555.7 L248.0,555.8 L247.2,555.9 L246.7,556.0 L246.0,556.1 L245.2,556.1 L244.5,556.2 L243.8,556.2 Z" fill="none" stroke="#505050" stroke-width="0.45"/>
<path d="M244.0,555.8 L243.2,555.8 L242.5,555.8 L241.8,555.8 L241.0,555.8 L240.2,555.8 L239.8,555.7 L239.0,555.7 L238.2,555.6 L237.7,555.5 L237.0,555.4 L236.4,555.2 L235.8,555.1 L235.2,555.0 L234.6,554.8 L234.0,554.6 L233.5,554.4 L233.0,554.2 L232.5,553.9 L232.0,553.7 L231.5,553.4 L231.0,553.0 L230.7,552.8 L230.3,552.2 L230.0,551.8 L229.8,551.2 L229.7,550.8 L229.7,550.0 L229.9,549.5 L230.1,549.0 L230.3,548.5 L230.6,548.0 L231.0,547.5 L231.2,547.2 L231.6,546.8 L232.0,546.4 L232.3,546.0 L232.8,545.6 L233.1,545.2 L233.5,544.8 L233.9,544.5 L234.2,544.2 L234.7,543.8 L235.0,543.5 L235.5,543.1 L235.9,542.8 L236.2,542.4 L236.7,542.0 L237.0,541.7 L237.5,541.2 L237.8,540.9 L238.2,540.5 L238.5,540.1 L238.9,539.8 L239.2,539.3 L239.6,539.0 L240.0,538.5 L240.3,538.2 L240.8,537.8 L241.0,537.5 L241.5,537.1 L241.8,536.8 L242.2,536.4 L242.7,536.0 L243.0,535.7 L243.5,535.3 L243.8,535.0 L244.2,534.6 L244.7,534.2 L245.0,534.0 L245.5,533.5 L245.8,533.2 L246.2,532.9 L246.7,532.5 L247.0,532.2 L247.5,531.8 L247.9,531.5 L248.2,531.2 L248.8,530.8 L249.1,530.5 L249.5,530.2 L250.0,529.8 L250.4,529.5 L250.8,529.2 L251.2,528.9 L251.8,528.6 L252.2,528.3 L252.8,528.0 L253.2,527.8 L253.8,527.7 L254.5,527.7 L255.0,527.8 L255.6,528.0 L256.0,528.2 L256.5,528.6 L257.0,529.0 L257.2,529.3 L257.7,529.8 L258.0,530.0 L258.4,530.5 L258.8,530.9 L259.1,531.2 L259.5,531.8 L259.8,532.0 L260.1,532.5 L260.5,532.9 L260.8,533.2 L261.2,533.8 L261.5,534.1 L261.9,534.5 L262.2,535.0 L262.5,535.2 L263.0,535.8 L263.2,536.1 L263.6,536.5 L264.0,536.9 L264.4,537.2 L264.8,537.6 L265.2,538.0 L265.5,538.3 L266.0,538.7 L266.5,539.0 L266.8,539.2 L267.2,539.5 L267.8,539.9 L268.2,540.2 L268.8,540.5 L269.2,540.7 L269.7,541.0 L270.1,541.2 L270.6,541.5 L271.0,541.8 L271.5,542.0 L272.0,542.3 L272.5,542.6 L273.0,542.8 L273.5,543.1 L274.0,543.3 L274.5,543.6 L275.0,543.8 L275.6,544.0 L276.2,544.2 L276.8,544.3 L277.5,544.4 L278.2,544.5 L279.0,544.5 L279.8,544.4 L280.5,544.3 L281.0,544.1 L281.5,544.0 L282.0,543.8 L282.6,543.5 L283.1,543.2 L283.5,543.0 L284.0,542.7 L284.5,542.3 L284.9,542.0 L285.3,541.8 L285.8,541.4 L286.2,541.0 L286.6,540.8 L287.0,540.4 L287.5,540.0 L287.8,539.8 L288.2,539.4 L288.7,539.0 L289.0,538.7 L289.5,538.3 L289.8,538.0 L290.2,537.5 L290.5,537.1 L290.8,536.8 L291.1,536.2 L291.4,535.8 L291.6,535.2 L291.8,534.8 L292.0,534.2 L292.2,533.5 L292.4,533.0 L292.5,532.5 L292.7,531.8 L292.8,531.2 L292.9,530.5 L293.0,530.0 L293.2,529.2 L293.3,528.8 L293.4,528.0 L293.5,527.5 L293.7,526.8 L293.8,526.2 L293.9,525.5 L294.0,525.0 L294.1,524.2 L294.2,523.7 L294.4,523.0 L294.5,522.2 L294.6,521.8 L294.7,521.0 L294.7,520.2 L294.8,519.8 L294.8,519.0 L294.9,518.2 L295.0,517.5 L295.0,517.0 L295.1,516.2 L295.1,515.5 L295.2,514.8 L295.3,514.2 L295.3,513.5 L295.4,512.8 L295.4,512.0 L295.5,511.3 L295.5,510.8 L295.6,510.0 L295.7,509.2 L295.7,508.5 L295.7,507.8 L295.7,507.0 L295.7,506.2 L295.7,505.5 L295.7,504.8 L295.6,504.0 L295.6,503.2 L295.5,502.5 L295.4,502.0 L295.4,501.2 L295.3,500.5 L295.2,500.0 L295.2,499.2 L295.1,498.5 L295.0,497.8 L294.9,497.2 L294.8,496.5 L294.8,496.0 L294.6,495.2 L294.5,494.7 L294.3,494.0 L294.2,493.5 L294.0,493.0 L293.8,492.3 L293.5,491.8 L293.2,491.3 L293.0,490.9 L292.7,490.5 L292.4,490.0 L292.0,489.5 L291.8,489.2 L291.3,488.8 L291.0,488.4 L290.6,488.0 L290.2,487.6 L289.9,487.2 L289.5,486.8 L289.2,486.5 L288.8,486.1 L288.4,485.8 L288.0,485.3 L287.7,485.0 L287.2,484.6 L286.9,484.2 L286.5,483.8 L286.2,483.5 L285.8,483.0 L285.5,482.7 L285.0,482.2 L284.8,481.9 L284.4,481.5 L284.0,481.0 L283.8,480.6 L283.5,480.0 L283.5,479.7 L283.8,479.2 L284.2,478.8 L284.7,478.5 L285.2,478.3 L285.8,478.1 L286.2,478.0 L287.0,477.8 L287.5,477.6 L288.0,477.5 L288.8,477.3 L289.2,477.2 L290.0,477.1 L290.6,477.0 L291.2,476.9 L292.0,476.8 L292.5,476.6 L293.1,476.5 L293.7,476.2 L294.2,476.0 L294.7,475.8 L295.1,475.5 L295.5,475.2 L296.0,474.9 L296.5,474.5 L296.9,474.2 L297.3,474.0 L297.8,473.8 L298.3,473.5 L298.9,473.2 L299.5,473.1 L300.1,473.0 L300.8,473.0 L301.2,473.0 L302.0,473.2 L302.5,473.5 L303.0,473.7 L303.4,474.0 L303.8,474.3 L304.2,474.8 L304.5,475.1 L304.8,475.5 L305.1,476.0 L305.3,476.5 L305.5,477.0 L305.8,477.6 L306.0,478.2 L306.1,478.8 L306.2,479.3 L306.4,480.0 L306.5,480.5 L306.6,481.2 L306.7,482.0 L306.7,482.8 L306.7,483.5 L306.8,484.0 L306.8,484.8 L306.8,485.5 L306.8,486.2 L306.7,486.8 L306.7,487.5 L306.7,488.2 L306.7,489.0 L306.7,489.8 L306.6,490.5 L306.6,491.2 L306.6,492.0 L306.6,492.8 L306.6,493.5 L306.6,494.2 L306.6,495.0 L306.7,495.8 L306.7,496.5 L306.7,497.2 L306.7,498.0 L306.8,498.5 L306.8,499.2 L306.8,500.0 L306.8,500.8 L306.9,501.5 L306.9,502.2 L306.9,503.0 L307.0,503.8 L307.0,504.5 L307.0,505.2 L307.0,506.0 L307.0,506.8 L307.0,507.5 L307.0,508.2 L307.0,508.8 L307.0,509.5 L307.0,510.2 L307.1,511.0 L307.1,511.8 L307.1,512.5 L307.1,513.2 L307.1,514.0 L307.1,514.8 L307.1,515.5 L307.1,516.2 L307.1,517.0 L307.1,517.8 L307.2,518.5 L307.2,519.2 L307.2,520.0 L307.2,520.8 L307.2,521.5 L307.2,522.2 L307.2,523.0 L307.2,523.8 L307.3,524.2 L307.3,525.0 L307.3,525.8 L307.3,526.5 L307.3,527.2 L307.3,528.0 L307.3,528.8 L307.3,529.5 L307.3,530.2 L307.3,531.0 L307.3,531.8 L307.3,532.5 L307.3,533.2 L307.3,534.0 L307.2,534.7 L307.2,535.2 L307.2,536.0 L307.2,536.8 L307.2,537.5 L307.2,538.2 L307.2,539.0 L307.2,539.8 L307.2,540.5 L307.2,541.2 L307.2,541.9 L307.3,542.5 L307.4,543.2 L307.5,544.0 L307.6,544.5 L307.8,545.0 L308.0,545.5 L308.2,546.0 L308.5,546.5 L308.8,547.0 L309.0,547.5 L309.2,548.0 L309.5,548.6 L309.7,549.2 L309.8,549.8 L309.9,550.5 L309.8,551.2 L309.7,551.8 L309.5,552.2 L309.1,552.8 L308.8,553.2 L308.4,553.5 L308.0,553.8 L307.5,554.1 L307.0,554.4 L306.5,554.6 L306.0,554.8 L305.2,555.0 L304.8,555.1 L304.0,555.2 L303.5,555.2 L302.8,555.3 L302.0,555.3 L301.5,555.2 L300.8,555.2 L300.0,555.0 L299.5,554.9 L299.0,554.8 L298.3,554.5 L297.8,554.3 L297.2,554.0 L296.8,553.8 L296.2,553.5 L295.8,553.2 L295.4,553.0 L295.0,552.7 L294.5,552.4 L294.0,552.1 L293.5,551.8 L293.0,551.5 L292.5,551.3 L292.0,551.1 L291.5,550.9 L290.8,550.8 L290.2,550.7 L289.5,550.6 L288.8,550.5 L288.2,550.5 L287.5,550.5 L286.8,550.4 L286.0,550.4 L285.2,550.5 L284.5,550.5 L283.9,550.5 L283.2,550.5 L282.5,550.6 L281.8,550.6 L281.0,550.6 L280.2,550.6 L279.5,550.6 L278.8,550.6 L278.0,550.6 L277.2,550.6 L276.5,550.6 L275.8,550.7 L275.0,550.7 L274.2,550.7 L273.5,550.7 L273.0,550.8 L272.2,550.8 L271.5,550.9 L270.8,550.9 L270.0,550.9 L269.2,550.9 L268.5,550.9 L267.8,550.9 L267.0,550.9 L266.2,551.0 L265.5,551.0 L264.8,551.0 L264.2,551.0 L263.5,551.1 L262.8,551.1 L262.0,551.2 L261.5,551.3 L260.8,551.4 L260.1,551.5 L259.5,551.6 L259.0,551.8 L258.2,552.0 L257.8,552.1 L257.2,552.3 L256.8,552.5 L256.1,552.8 L255.5,553.0 L255.0,553.2 L254.5,553.4 L254.0,553.6 L253.5,553.8 L252.9,554.0 L252.2,554.2 L251.8,554.4 L251.2,554.5 L250.5,554.7 L250.0,554.9 L249.4,555.0 L248.8,555.1 L248.2,555.2 L247.5,555.4 L246.8,555.5 L246.2,555.6 L245.5,555.6 L244.8,555.7 L244.1,555.8 Z" fill="none" stroke="#4a4a4a" stroke-width="0.45"/>
<path d="M244.8,555.3 L244.0,555.3 L243.2,555.4 L242.5,555.4 L241.8,555.4 L241.0,555.4 L240.2,555.3 L239.5,555.3 L239.0,555.2 L238.2,555.1 L237.6,555.0 L237.0,554.9 L236.4,554.8 L235.8,554.6 L235.2,554.4 L234.7,554.2 L234.1,554.0 L233.5,553.8 L233.0,553.5 L232.5,553.2 L232.1,553.0 L231.8,552.7 L231.3,552.2 L231.0,551.9 L230.8,551.4 L230.6,550.8 L230.6,550.0 L230.8,549.4 L231.0,548.9 L231.2,548.4 L231.6,548.0 L232.0,547.5 L232.2,547.2 L232.7,546.8 L233.0,546.4 L233.4,546.0 L233.8,545.7 L234.2,545.3 L234.6,545.0 L235.0,544.7 L235.5,544.3 L235.9,544.0 L236.3,543.8 L236.8,543.4 L237.2,543.0 L237.5,542.8 L238.0,542.4 L238.4,542.0 L238.8,541.7 L239.2,541.2 L239.5,540.9 L239.9,540.5 L240.2,540.1 L240.6,539.8 L241.0,539.4 L241.3,539.0 L241.8,538.6 L242.1,538.2 L242.5,537.9 L243.0,537.5 L243.2,537.2 L243.8,536.8 L244.1,536.5 L244.5,536.1 L244.9,535.8 L245.2,535.5 L245.8,535.0 L246.1,534.8 L246.5,534.4 L247.0,534.0 L247.2,533.7 L247.8,533.3 L248.1,533.0 L248.5,532.7 L249.0,532.3 L249.3,532.0 L249.8,531.7 L250.2,531.3 L250.6,531.0 L251.0,530.7 L251.5,530.4 L252.0,530.1 L252.5,529.8 L253.0,529.5 L253.5,529.4 L254.2,529.3 L255.0,529.5 L255.5,529.7 L256.0,530.0 L256.3,530.2 L256.8,530.7 L257.1,531.0 L257.5,531.5 L257.8,531.8 L258.2,532.2 L258.5,532.6 L258.9,533.0 L259.2,533.5 L259.5,533.8 L259.9,534.2 L260.2,534.6 L260.6,535.0 L261.0,535.5 L261.2,535.8 L261.7,536.2 L262.0,536.6 L262.3,537.0 L262.8,537.4 L263.0,537.8 L263.5,538.2 L263.8,538.5 L264.2,538.9 L264.7,539.2 L265.0,539.5 L265.5,539.9 L266.0,540.2 L266.3,540.5 L266.8,540.8 L267.2,541.1 L267.8,541.4 L268.2,541.7 L268.8,542.0 L269.2,542.2 L269.7,542.5 L270.1,542.8 L270.6,543.0 L271.0,543.2 L271.5,543.5 L272.0,543.8 L272.5,544.1 L273.0,544.4 L273.5,544.6 L274.0,544.9 L274.5,545.1 L275.0,545.3 L275.5,545.5 L276.2,545.8 L276.8,545.9 L277.4,546.0 L278.0,546.1 L278.8,546.1 L279.5,546.0 L280.0,545.9 L280.8,545.8 L281.2,545.6 L281.8,545.5 L282.2,545.2 L282.8,545.0 L283.2,544.7 L283.8,544.5 L284.2,544.1 L284.8,543.8 L285.2,543.5 L285.5,543.2 L286.0,542.9 L286.4,542.5 L286.8,542.2 L287.2,541.9 L287.7,541.5 L288.0,541.2 L288.5,540.9 L289.0,540.5 L289.3,540.2 L289.8,539.8 L290.1,539.5 L290.5,539.1 L290.9,538.8 L291.2,538.3 L291.5,538.0 L291.9,537.5 L292.2,537.0 L292.5,536.5 L292.7,536.0 L292.9,535.5 L293.1,535.0 L293.3,534.5 L293.5,533.8 L293.6,533.2 L293.8,532.8 L293.9,532.0 L294.0,531.5 L294.2,530.8 L294.3,530.2 L294.4,529.5 L294.5,529.0 L294.6,528.2 L294.8,527.7 L294.9,527.0 L295.0,526.3 L295.1,525.8 L295.2,525.0 L295.3,524.5 L295.5,523.8 L295.5,523.2 L295.6,522.5 L295.7,521.8 L295.8,521.2 L295.9,520.5 L295.9,519.8 L296.0,519.1 L296.1,518.5 L296.1,517.8 L296.2,517.0 L296.2,516.2 L296.3,515.8 L296.3,515.0 L296.4,514.2 L296.5,513.5 L296.5,513.0 L296.6,512.2 L296.6,511.5 L296.7,510.8 L296.7,510.0 L296.8,509.5 L296.8,508.8 L296.9,508.0 L296.9,507.2 L296.9,506.5 L296.9,505.8 L296.9,505.0 L296.8,504.2 L296.8,503.5 L296.7,503.0 L296.7,502.2 L296.6,501.5 L296.5,500.8 L296.5,500.2 L296.4,499.5 L296.3,498.8 L296.2,498.1 L296.2,497.5 L296.1,496.8 L296.0,496.2 L295.9,495.5 L295.8,494.9 L295.6,494.2 L295.4,493.8 L295.2,493.1 L295.0,492.5 L294.8,492.0 L294.6,491.5 L294.4,491.0 L294.1,490.5 L293.8,490.0 L293.5,489.6 L293.2,489.2 L292.9,488.8 L292.5,488.2 L292.2,487.9 L291.9,487.5 L291.5,487.1 L291.2,486.8 L290.8,486.3 L290.5,486.0 L290.0,485.5 L289.8,485.2 L289.3,484.8 L289.0,484.5 L288.6,484.0 L288.2,483.7 L287.9,483.2 L287.5,482.8 L287.2,482.5 L286.9,482.0 L286.6,481.5 L286.4,481.0 L286.4,480.2 L286.7,479.8 L287.0,479.5 L287.5,479.2 L288.1,479.0 L288.8,478.8 L289.2,478.6 L289.8,478.5 L290.5,478.4 L291.0,478.2 L291.8,478.1 L292.2,478.0 L293.0,477.8 L293.5,477.6 L294.0,477.3 L294.5,477.0 L294.9,476.8 L295.2,476.4 L295.8,476.0 L296.1,475.8 L296.5,475.4 L297.0,475.1 L297.5,474.8 L297.9,474.5 L298.3,474.2 L298.9,474.0 L299.5,473.8 L300.0,473.7 L300.8,473.7 L301.2,473.8 L302.0,474.0 L302.5,474.2 L303.0,474.5 L303.3,474.8 L303.8,475.2 L304.1,475.5 L304.4,476.0 L304.7,476.5 L305.0,477.0 L305.2,477.5 L305.4,478.0 L305.5,478.5 L305.7,479.2 L305.8,479.8 L306.0,480.5 L306.1,481.0 L306.1,481.8 L306.2,482.5 L306.2,483.2 L306.2,484.0 L306.2,484.8 L306.2,485.5 L306.2,486.2 L306.1,487.0 L306.1,487.8 L306.1,488.5 L306.0,489.2 L306.0,489.8 L305.9,490.5 L305.9,491.2 L305.9,492.0 L305.8,492.8 L305.8,493.5 L305.8,494.2 L305.8,495.0 L305.9,495.8 L305.9,496.5 L305.9,497.2 L305.9,498.0 L305.9,498.8 L305.9,499.5 L306.0,500.2 L306.0,501.0 L306.0,501.5 L306.1,502.2 L306.1,503.0 L306.1,503.8 L306.1,504.5 L306.1,505.2 L306.2,506.0 L306.2,506.8 L306.2,507.5 L306.2,508.2 L306.2,509.0 L306.2,509.8 L306.2,510.5 L306.2,511.2 L306.3,511.8 L306.3,512.5 L306.3,513.2 L306.3,514.0 L306.3,514.8 L306.3,515.5 L306.3,516.2 L306.3,517.0 L306.3,517.8 L306.4,518.5 L306.4,519.2 L306.4,520.0 L306.4,520.8 L306.4,521.5 L306.4,522.2 L306.4,523.0 L306.4,523.8 L306.5,524.5 L306.5,525.2 L306.5,525.8 L306.5,526.5 L306.5,527.2 L306.5,528.0 L306.5,528.8 L306.5,529.2 L306.5,530.0 L306.5,530.8 L306.5,531.5 L306.5,532.2 L306.5,533.0 L306.5,533.8 L306.5,534.5 L306.5,535.2 L306.4,536.0 L306.4,536.8 L306.4,537.5 L306.4,538.2 L306.4,539.0 L306.4,539.8 L306.4,540.5 L306.5,541.2 L306.5,542.0 L306.5,542.5 L306.6,543.2 L306.7,544.0 L306.9,544.5 L307.1,545.0 L307.3,545.5 L307.5,546.0 L307.8,546.5 L308.0,547.0 L308.3,547.5 L308.6,548.0 L308.8,548.5 L309.0,549.1 L309.2,549.8 L309.2,550.5 L309.2,551.2 L309.0,551.8 L308.7,552.2 L308.3,552.8 L308.0,553.1 L307.5,553.5 L307.0,553.8 L306.5,554.0 L306.0,554.2 L305.5,554.4 L305.0,554.5 L304.2,554.7 L303.8,554.8 L303.0,554.8 L302.2,554.8 L301.5,554.8 L301.0,554.7 L300.2,554.6 L299.8,554.4 L299.1,554.2 L298.5,554.0 L298.0,553.8 L297.5,553.5 L297.1,553.2 L296.7,553.0 L296.2,552.7 L295.8,552.3 L295.4,552.0 L295.0,551.7 L294.5,551.2 L294.2,551.0 L293.8,550.6 L293.2,550.3 L292.8,550.0 L292.2,549.8 L291.8,549.6 L291.2,549.5 L290.5,549.4 L289.8,549.3 L289.2,549.2 L288.5,549.2 L287.8,549.1 L287.0,549.1 L286.2,549.1 L285.5,549.1 L284.8,549.1 L284.0,549.1 L283.2,549.1 L282.5,549.1 L281.8,549.1 L281.0,549.1 L280.2,549.1 L279.5,549.1 L278.8,549.1 L278.0,549.1 L277.2,549.1 L276.5,549.1 L275.8,549.1 L275.0,549.2 L274.3,549.2 L273.8,549.3 L273.0,549.4 L272.2,549.4 L271.5,549.5 L271.0,549.5 L270.2,549.6 L269.5,549.6 L268.8,549.6 L268.0,549.6 L267.2,549.6 L266.5,549.6 L265.8,549.7 L265.0,549.7 L264.2,549.7 L263.5,549.8 L263.0,549.8 L262.2,549.8 L261.5,549.9 L261.0,550.0 L260.2,550.1 L259.7,550.2 L259.0,550.4 L258.5,550.6 L258.0,550.8 L257.5,551.0 L256.9,551.2 L256.4,551.5 L255.9,551.8 L255.4,552.0 L255.0,552.2 L254.5,552.5 L254.0,552.8 L253.4,553.0 L252.9,553.2 L252.3,553.5 L251.8,553.7 L251.2,553.9 L250.8,554.1 L250.1,554.2 L249.5,554.4 L249.0,554.6 L248.2,554.7 L247.8,554.8 L247.0,555.0 L246.5,555.0 L245.8,555.2 L245.0,555.2 Z" fill="none" stroke="#454545" stroke-width="0.45"/>
<path d="M304.0,554.3 L303.2,554.4 L302.5,554.4 L301.8,554.4 L301.0,554.3 L300.5,554.2 L299.9,554.0 L299.2,553.8 L298.8,553.6 L298.2,553.3 L297.8,553.0 L297.4,552.8 L297.0,552.5 L296.5,552.0 L296.2,551.8 L295.8,551.2 L295.5,550.9 L295.1,550.5 L294.8,550.0 L294.5,549.7 L294.0,549.3 L293.7,549.0 L293.2,548.8 L292.7,548.5 L292.0,548.3 L291.5,548.2 L290.8,548.1 L290.2,548.0 L289.5,547.9 L288.8,547.9 L288.0,547.8 L287.5,547.7 L286.8,547.6 L286.0,547.5 L285.5,547.4 L285.0,547.2 L284.6,546.8 L284.8,546.0 L285.0,545.7 L285.4,545.2 L285.8,544.9 L286.2,544.5 L286.5,544.2 L287.0,543.8 L287.3,543.5 L287.8,543.1 L288.2,542.8 L288.5,542.5 L289.0,542.1 L289.4,541.8 L289.8,541.4 L290.2,541.0 L290.6,540.8 L291.0,540.3 L291.4,540.0 L291.8,539.6 L292.0,539.2 L292.5,538.8 L292.8,538.4 L293.0,538.0 L293.3,537.5 L293.6,537.0 L293.8,536.5 L294.0,536.0 L294.2,535.3 L294.4,534.8 L294.6,534.2 L294.7,533.5 L294.9,533.0 L295.0,532.3 L295.1,531.8 L295.2,531.0 L295.3,530.5 L295.5,529.8 L295.6,529.2 L295.7,528.5 L295.8,528.0 L295.9,527.2 L296.0,526.6 L296.1,526.0 L296.2,525.2 L296.3,524.8 L296.4,524.0 L296.5,523.5 L296.6,522.8 L296.7,522.0 L296.8,521.5 L296.8,520.8 L296.9,520.0 L297.0,519.2 L297.0,518.8 L297.1,518.0 L297.1,517.2 L297.2,516.5 L297.2,515.9 L297.3,515.2 L297.4,514.5 L297.4,513.8 L297.5,513.0 L297.5,512.5 L297.6,511.8 L297.6,511.0 L297.7,510.2 L297.8,509.8 L297.8,509.0 L297.8,508.2 L297.9,507.5 L297.9,506.8 L297.9,506.0 L297.9,505.2 L297.9,504.5 L297.8,503.8 L297.8,503.0 L297.8,502.2 L297.7,501.8 L297.7,501.0 L297.6,500.2 L297.5,499.5 L297.5,499.0 L297.4,498.2 L297.3,497.5 L297.2,497.0 L297.1,496.2 L297.0,495.8 L296.8,495.0 L296.7,494.5 L296.5,493.9 L296.3,493.2 L296.1,492.8 L295.9,492.2 L295.7,491.8 L295.5,491.2 L295.2,490.7 L295.0,490.2 L294.7,489.8 L294.5,489.2 L294.1,488.8 L293.8,488.2 L293.5,487.8 L293.2,487.5 L292.9,487.0 L292.5,486.5 L292.2,486.2 L291.8,485.8 L291.5,485.4 L291.2,485.0 L290.8,484.5 L290.5,484.2 L290.1,483.8 L289.8,483.3 L289.5,483.0 L289.2,482.5 L288.9,482.0 L288.8,481.2 L289.0,480.7 L289.5,480.2 L289.9,480.0 L290.5,479.8 L291.0,479.6 L291.5,479.5 L292.2,479.2 L292.8,479.1 L293.2,478.9 L293.8,478.6 L294.2,478.3 L294.6,478.0 L295.0,477.7 L295.5,477.2 L295.8,477.0 L296.2,476.5 L296.5,476.2 L297.0,475.8 L297.4,475.5 L297.8,475.2 L298.2,475.0 L298.8,474.7 L299.4,474.5 L300.0,474.4 L300.8,474.4 L301.5,474.5 L302.0,474.6 L302.5,474.9 L303.0,475.2 L303.3,475.5 L303.8,476.0 L304.0,476.3 L304.3,476.8 L304.6,477.2 L304.8,477.8 L305.0,478.4 L305.2,479.0 L305.3,479.5 L305.5,480.2 L305.6,480.8 L305.6,481.5 L305.7,482.2 L305.7,483.0 L305.7,483.8 L305.7,484.5 L305.7,485.2 L305.7,486.0 L305.6,486.8 L305.5,487.5 L305.5,488.1 L305.4,488.8 L305.4,489.5 L305.3,490.2 L305.2,490.8 L305.2,491.5 L305.1,492.2 L305.1,493.0 L305.0,493.8 L305.0,494.5 L305.0,495.2 L305.0,496.0 L305.0,496.8 L305.0,497.5 L305.0,498.2 L305.0,499.0 L305.0,499.8 L305.1,500.5 L305.1,501.2 L305.1,502.0 L305.2,502.8 L305.2,503.5 L305.2,504.2 L305.3,504.8 L305.3,505.5 L305.3,506.2 L305.3,507.0 L305.3,507.8 L305.3,508.5 L305.3,509.2 L305.4,510.0 L305.4,510.8 L305.4,511.5 L305.4,512.2 L305.4,513.0 L305.5,513.8 L305.5,514.5 L305.5,515.2 L305.5,516.0 L305.5,516.8 L305.5,517.5 L305.5,518.0 L305.5,518.8 L305.6,519.5 L305.6,520.2 L305.6,521.0 L305.6,521.8 L305.6,522.5 L305.6,523.2 L305.6,524.0 L305.7,524.8 L305.7,525.5 L305.7,526.2 L305.7,527.0 L305.7,527.8 L305.7,528.5 L305.7,529.2 L305.7,530.0 L305.7,530.8 L305.7,531.5 L305.7,532.2 L305.7,533.0 L305.7,533.8 L305.7,534.5 L305.7,535.2 L305.7,536.0 L305.7,536.8 L305.7,537.5 L305.7,538.2 L305.7,539.0 L305.7,539.8 L305.7,540.5 L305.7,541.2 L305.7,542.0 L305.8,542.6 L305.8,543.2 L306.0,544.0 L306.1,544.5 L306.3,545.0 L306.5,545.5 L306.8,546.0 L307.1,546.5 L307.4,547.0 L307.7,547.5 L307.9,548.0 L308.2,548.5 L308.4,549.0 L308.5,549.5 L308.6,550.2 L308.6,551.0 L308.5,551.5 L308.2,552.0 L307.8,552.5 L307.5,552.8 L307.0,553.2 L306.5,553.5 L306.0,553.7 L305.5,553.9 L305.0,554.1 L304.2,554.2 Z" fill="none" stroke="#404040" stroke-width="0.45"/>
<path d="M245.5,554.8 L244.8,554.9 L244.0,554.9 L243.2,555.0 L242.5,555.0 L241.8,555.0 L241.0,555.0 L240.2,554.9 L239.5,554.9 L238.8,554.8 L238.2,554.7 L237.5,554.6 L237.0,554.4 L236.3,554.2 L235.8,554.1 L235.2,553.9 L234.8,553.7 L234.2,553.5 L233.7,553.2 L233.2,553.0 L232.8,552.7 L232.2,552.3 L232.0,552.0 L231.6,551.5 L231.4,551.0 L231.4,550.2 L231.5,549.6 L231.7,549.0 L232.0,548.6 L232.2,548.2 L232.6,547.8 L233.0,547.3 L233.3,547.0 L233.8,546.6 L234.2,546.2 L234.5,546.0 L235.0,545.6 L235.5,545.3 L235.9,545.0 L236.3,544.8 L236.8,544.4 L237.2,544.1 L237.8,543.8 L238.1,543.5 L238.5,543.2 L239.0,542.9 L239.4,542.5 L239.8,542.2 L240.2,541.8 L240.6,541.5 L241.0,541.1 L241.3,540.8 L241.8,540.3 L242.1,540.0 L242.5,539.6 L242.8,539.2 L243.2,538.9 L243.7,538.5 L244.0,538.2 L244.5,537.8 L244.8,537.5 L245.2,537.1 L245.6,536.8 L246.0,536.4 L246.5,536.0 L246.8,535.8 L247.2,535.4 L247.7,535.0 L248.0,534.7 L248.5,534.3 L248.8,534.0 L249.2,533.6 L249.7,533.2 L250.0,533.0 L250.5,532.6 L251.0,532.2 L251.3,532.0 L251.8,531.7 L252.2,531.4 L252.8,531.2 L253.2,531.0 L254.0,530.9 L254.7,531.0 L255.2,531.2 L255.7,531.5 L256.0,531.8 L256.5,532.2 L256.8,532.5 L257.2,533.0 L257.5,533.3 L257.9,533.8 L258.2,534.2 L258.5,534.5 L259.0,535.0 L259.2,535.3 L259.6,535.8 L260.0,536.2 L260.3,536.5 L260.7,537.0 L261.0,537.3 L261.4,537.8 L261.8,538.2 L262.1,538.5 L262.5,538.9 L262.8,539.2 L263.2,539.6 L263.7,540.0 L264.0,540.3 L264.5,540.7 L264.9,541.0 L265.3,541.2 L265.8,541.6 L266.2,541.9 L266.8,542.2 L267.2,542.5 L267.6,542.8 L268.0,543.0 L268.5,543.3 L269.0,543.6 L269.5,543.9 L270.0,544.2 L270.4,544.5 L270.8,544.8 L271.2,545.0 L271.8,545.4 L272.2,545.8 L272.5,546.1 L272.9,546.5 L272.9,547.2 L272.5,547.6 L272.0,547.8 L271.2,548.0 L270.8,548.1 L270.0,548.2 L269.3,548.2 L268.8,548.3 L268.0,548.3 L267.2,548.4 L266.5,548.4 L265.8,548.4 L265.0,548.4 L264.2,548.5 L263.5,548.5 L263.0,548.5 L262.2,548.6 L261.5,548.6 L260.8,548.7 L260.2,548.8 L259.5,548.9 L259.0,549.1 L258.3,549.2 L257.8,549.5 L257.2,549.7 L256.8,550.0 L256.3,550.2 L255.9,550.5 L255.5,550.8 L255.0,551.1 L254.5,551.5 L254.1,551.8 L253.7,552.0 L253.2,552.3 L252.8,552.6 L252.2,552.8 L251.8,553.1 L251.2,553.3 L250.7,553.5 L250.0,553.7 L249.5,553.9 L249.0,554.1 L248.3,554.2 L247.8,554.4 L247.1,554.5 L246.5,554.6 L245.8,554.7 Z" fill="none" stroke="#404040" stroke-width="0.45"/>
<path d="M304.2,553.8 L303.5,553.9 L302.8,553.9 L302.0,553.9 L301.2,553.8 L300.8,553.7 L300.0,553.5 L299.5,553.3 L299.0,553.1 L298.5,552.8 L298.1,552.5 L297.8,552.2 L297.3,551.8 L297.0,551.4 L296.7,551.0 L296.4,550.5 L296.1,550.0 L295.9,549.5 L295.6,549.0 L295.4,548.5 L295.1,548.0 L294.8,547.6 L294.2,547.3 L293.8,547.1 L293.2,546.9 L292.5,546.8 L292.0,546.7 L291.2,546.5 L290.8,546.4 L290.1,546.2 L289.5,546.0 L289.0,545.8 L288.8,545.2 L289.0,544.5 L289.2,544.1 L289.5,543.8 L290.0,543.2 L290.2,543.0 L290.7,542.5 L291.0,542.2 L291.5,541.8 L291.8,541.5 L292.2,541.0 L292.5,540.8 L293.0,540.2 L293.2,539.9 L293.6,539.5 L293.9,539.0 L294.2,538.5 L294.5,538.0 L294.7,537.5 L294.9,537.0 L295.1,536.5 L295.3,536.0 L295.5,535.3 L295.7,534.8 L295.8,534.2 L295.9,533.5 L296.0,533.0 L296.2,532.2 L296.2,531.7 L296.4,531.0 L296.5,530.3 L296.6,529.8 L296.7,529.0 L296.8,528.5 L296.9,527.8 L297.0,527.2 L297.1,526.5 L297.2,525.8 L297.3,525.2 L297.4,524.5 L297.5,524.0 L297.6,523.2 L297.7,522.5 L297.8,522.0 L297.9,521.2 L297.9,520.5 L298.0,519.8 L298.1,519.2 L298.1,518.5 L298.2,517.8 L298.2,517.0 L298.3,516.5 L298.4,515.8 L298.4,515.0 L298.5,514.3 L298.5,513.8 L298.6,513.0 L298.7,512.2 L298.7,511.5 L298.8,511.0 L298.9,510.2 L299.0,509.5 L299.0,508.9 L299.0,508.2 L299.1,507.5 L299.1,506.8 L299.1,506.0 L299.1,505.2 L299.2,504.5 L299.2,503.8 L299.2,503.0 L299.1,502.2 L299.1,501.5 L299.0,500.8 L299.0,500.2 L298.9,499.5 L298.8,498.8 L298.7,498.2 L298.6,497.5 L298.5,497.0 L298.3,496.2 L298.2,495.8 L298.0,495.1 L297.8,494.5 L297.7,494.0 L297.5,493.5 L297.2,492.9 L297.0,492.3 L296.8,491.8 L296.5,491.2 L296.3,490.8 L296.1,490.2 L295.8,489.8 L295.5,489.2 L295.3,488.8 L295.0,488.3 L294.8,487.9 L294.5,487.5 L294.2,487.0 L293.9,486.5 L293.5,486.0 L293.2,485.6 L293.0,485.2 L292.6,484.8 L292.3,484.2 L292.0,483.8 L291.8,483.3 L291.5,482.8 L291.4,482.2 L291.5,481.8 L291.9,481.2 L292.2,480.9 L292.8,480.6 L293.2,480.3 L293.8,480.0 L294.1,479.8 L294.5,479.4 L294.9,479.0 L295.2,478.6 L295.6,478.2 L296.0,477.8 L296.2,477.5 L296.7,477.0 L297.0,476.7 L297.5,476.2 L297.8,476.0 L298.2,475.7 L298.8,475.4 L299.2,475.2 L300.0,475.1 L300.8,475.0 L301.5,475.2 L302.0,475.3 L302.5,475.6 L303.0,476.0 L303.2,476.3 L303.6,476.8 L304.0,477.2 L304.2,477.8 L304.4,478.2 L304.6,478.8 L304.8,479.3 L304.9,480.0 L305.0,480.5 L305.1,481.2 L305.2,482.0 L305.2,482.8 L305.2,483.5 L305.2,484.2 L305.2,485.0 L305.1,485.8 L305.0,486.5 L305.0,487.0 L304.9,487.8 L304.8,488.5 L304.7,489.0 L304.6,489.8 L304.5,490.4 L304.4,491.0 L304.3,491.8 L304.2,492.2 L304.1,493.0 L304.0,493.7 L303.9,494.2 L303.9,495.0 L303.8,495.8 L303.8,496.5 L303.8,497.2 L303.7,497.8 L303.7,498.5 L303.7,499.2 L303.7,500.0 L303.7,500.8 L303.7,501.5 L303.8,502.0 L303.8,502.8 L303.9,503.5 L303.9,504.2 L304.0,505.0 L304.0,505.5 L304.0,506.2 L304.1,507.0 L304.1,507.8 L304.1,508.5 L304.1,509.2 L304.2,510.0 L304.2,510.8 L304.2,511.3 L304.3,512.0 L304.3,512.8 L304.3,513.5 L304.3,514.2 L304.4,515.0 L304.4,515.8 L304.4,516.5 L304.4,517.2 L304.4,518.0 L304.5,518.8 L304.5,519.3 L304.5,520.0 L304.6,520.8 L304.6,521.5 L304.6,522.2 L304.6,523.0 L304.6,523.8 L304.6,524.5 L304.7,525.2 L304.7,526.0 L304.7,526.8 L304.7,527.5 L304.7,528.2 L304.7,529.0 L304.7,529.8 L304.7,530.5 L304.7,531.2 L304.7,532.0 L304.8,532.5 L304.8,533.2 L304.8,534.0 L304.8,534.8 L304.8,535.3 L304.7,536.0 L304.7,536.8 L304.8,537.2 L304.8,538.0 L304.8,538.8 L304.8,539.5 L304.8,540.2 L304.8,541.0 L304.8,541.8 L304.8,542.5 L304.9,543.2 L305.0,543.8 L305.2,544.5 L305.4,545.0 L305.6,545.5 L305.9,546.0 L306.2,546.5 L306.5,546.9 L306.8,547.3 L307.1,547.8 L307.3,548.2 L307.6,548.8 L307.8,549.2 L308.0,550.0 L308.0,550.8 L307.8,551.5 L307.5,551.9 L307.2,552.2 L306.8,552.7 L306.3,553.0 L305.8,553.2 L305.2,553.5 L304.8,553.6 L304.2,553.8 Z" fill="none" stroke="#404040" stroke-width="0.45"/>
<path d="M243.8,554.5 L243.0,554.5 L242.2,554.6 L241.5,554.6 L240.8,554.5 L240.2,554.5 L239.5,554.4 L238.8,554.3 L238.2,554.2 L237.5,554.1 L237.0,554.0 L236.3,553.8 L235.8,553.6 L235.2,553.4 L234.8,553.1 L234.2,552.9 L233.8,552.6 L233.3,552.2 L233.0,552.0 L232.6,551.5 L232.4,551.0 L232.3,550.2 L232.4,549.5 L232.6,549.0 L233.0,548.5 L233.2,548.1 L233.6,547.8 L234.0,547.4 L234.4,547.0 L234.8,546.7 L235.2,546.3 L235.7,546.0 L236.1,545.8 L236.5,545.5 L237.0,545.2 L237.5,544.9 L238.0,544.7 L238.5,544.4 L239.0,544.1 L239.5,543.8 L239.9,543.5 L240.3,543.2 L240.8,542.9 L241.2,542.5 L241.6,542.2 L242.0,541.9 L242.4,541.5 L242.8,541.2 L243.2,540.8 L243.5,540.4 L244.0,540.0 L244.3,539.8 L244.8,539.3 L245.1,539.0 L245.5,538.7 L246.0,538.2 L246.2,538.0 L246.8,537.6 L247.1,537.2 L247.5,536.9 L248.0,536.5 L248.3,536.2 L248.8,535.8 L249.1,535.5 L249.5,535.2 L250.0,534.8 L250.3,534.5 L250.8,534.2 L251.2,533.8 L251.6,533.5 L252.0,533.2 L252.5,533.0 L253.2,532.8 L253.8,532.7 L254.4,532.8 L255.0,533.0 L255.4,533.2 L255.8,533.5 L256.2,534.0 L256.5,534.2 L257.0,534.8 L257.2,535.1 L257.6,535.5 L258.0,535.9 L258.3,536.2 L258.7,536.8 L259.0,537.1 L259.4,537.5 L259.8,537.9 L260.0,538.2 L260.5,538.8 L260.8,539.0 L261.2,539.5 L261.5,539.8 L261.9,540.2 L262.2,540.6 L262.7,541.0 L263.0,541.2 L263.5,541.7 L263.9,542.0 L264.2,542.3 L264.8,542.6 L265.2,543.0 L265.6,543.2 L266.0,543.6 L266.5,543.9 L266.9,544.2 L267.2,544.6 L267.6,545.0 L267.9,545.5 L267.8,546.2 L267.2,546.4 L266.8,546.6 L266.1,546.8 L265.5,546.8 L264.8,546.9 L264.0,547.0 L263.5,547.0 L262.8,547.1 L262.0,547.1 L261.2,547.2 L260.7,547.2 L260.0,547.3 L259.2,547.4 L258.8,547.5 L258.0,547.7 L257.5,547.8 L256.9,548.0 L256.4,548.2 L256.0,548.5 L255.5,548.8 L255.1,549.2 L254.8,549.6 L254.4,550.0 L254.0,550.4 L253.7,550.8 L253.2,551.1 L252.8,551.5 L252.5,551.8 L252.0,552.1 L251.5,552.4 L251.0,552.7 L250.5,552.9 L250.0,553.1 L249.5,553.3 L249.0,553.5 L248.2,553.7 L247.8,553.9 L247.2,554.0 L246.5,554.1 L245.9,554.2 L245.2,554.4 L244.5,554.4 L243.8,554.5 Z" fill="none" stroke="#404040" stroke-width="0.45"/>
<path d="M301.2,495.9 L300.5,495.9 L300.0,495.5 L299.8,495.1 L299.5,494.8 L299.2,494.2 L298.9,493.8 L298.6,493.2 L298.3,492.8 L298.0,492.2 L297.8,491.8 L297.5,491.2 L297.2,490.8 L297.0,490.3 L296.8,489.8 L296.5,489.4 L296.2,488.9 L296.0,488.5 L295.8,488.0 L295.5,487.5 L295.2,487.0 L294.9,486.5 L294.6,486.0 L294.4,485.5 L294.1,485.0 L293.8,484.5 L293.6,484.0 L293.5,483.5 L293.4,482.8 L293.5,482.2 L293.8,481.7 L294.1,481.2 L294.5,480.8 L294.8,480.5 L295.1,480.0 L295.5,479.5 L295.8,479.2 L296.0,478.8 L296.4,478.2 L296.8,477.8 L297.0,477.5 L297.5,477.0 L297.8,476.8 L298.2,476.4 L298.8,476.1 L299.2,475.9 L299.8,475.7 L300.5,475.6 L301.2,475.7 L301.8,475.9 L302.2,476.2 L302.7,476.5 L303.0,476.8 L303.4,477.2 L303.7,477.8 L303.9,478.2 L304.1,478.8 L304.2,479.3 L304.4,480.0 L304.5,480.5 L304.7,481.2 L304.7,482.0 L304.7,482.8 L304.7,483.5 L304.7,484.2 L304.6,485.0 L304.6,485.8 L304.5,486.3 L304.4,487.0 L304.3,487.8 L304.2,488.2 L304.0,489.0 L303.9,489.5 L303.8,490.1 L303.6,490.8 L303.4,491.2 L303.2,491.8 L303.0,492.5 L302.8,493.0 L302.6,493.5 L302.4,494.0 L302.2,494.5 L301.9,495.0 L301.6,495.5 L301.2,495.9 Z" fill="none" stroke="#404040" stroke-width="0.45"/>
<path d="M304.2,553.3 L303.5,553.4 L302.8,553.5 L302.0,553.4 L301.2,553.3 L300.8,553.2 L300.1,553.0 L299.6,552.8 L299.1,552.5 L298.8,552.2 L298.2,551.8 L298.0,551.5 L297.6,551.0 L297.3,550.5 L297.1,550.0 L297.0,549.4 L296.9,548.8 L296.9,548.0 L296.8,547.2 L296.6,546.8 L296.3,546.2 L296.0,546.0 L295.5,545.7 L295.0,545.5 L294.2,545.3 L293.8,545.1 L293.2,544.9 L292.8,544.6 L292.4,544.2 L292.4,543.5 L292.7,543.0 L293.0,542.5 L293.2,542.2 L293.6,541.8 L293.9,541.2 L294.2,540.8 L294.5,540.4 L294.8,540.0 L295.1,539.5 L295.3,539.0 L295.6,538.5 L295.8,538.0 L296.0,537.4 L296.2,536.8 L296.4,536.2 L296.5,535.8 L296.7,535.0 L296.8,534.5 L297.0,533.8 L297.1,533.2 L297.2,532.5 L297.3,532.0 L297.4,531.2 L297.5,530.8 L297.6,530.0 L297.8,529.4 L297.9,528.8 L298.0,528.0 L298.1,527.5 L298.2,526.8 L298.3,526.2 L298.4,525.5 L298.5,525.0 L298.6,524.2 L298.8,523.6 L298.8,523.0 L298.9,522.2 L299.0,521.8 L299.1,521.0 L299.2,520.2 L299.3,519.8 L299.4,519.0 L299.5,518.2 L299.6,517.8 L299.7,517.0 L299.8,516.4 L299.9,515.8 L300.0,515.0 L300.0,514.5 L300.2,513.8 L300.2,513.1 L300.4,512.5 L300.5,511.9 L300.7,511.2 L301.0,510.8 L301.2,510.5 L301.8,510.7 L302.0,511.1 L302.2,511.8 L302.3,512.2 L302.5,513.0 L302.5,513.5 L302.6,514.2 L302.6,515.0 L302.7,515.8 L302.8,516.4 L302.8,517.0 L302.9,517.8 L302.9,518.5 L303.0,519.0 L303.1,519.8 L303.1,520.5 L303.2,521.2 L303.2,522.0 L303.3,522.5 L303.3,523.2 L303.3,524.0 L303.4,524.8 L303.4,525.5 L303.5,526.2 L303.5,526.8 L303.5,527.5 L303.5,528.2 L303.6,529.0 L303.6,529.8 L303.6,530.5 L303.6,531.2 L303.6,532.0 L303.7,532.8 L303.7,533.5 L303.7,534.2 L303.7,535.0 L303.7,535.8 L303.7,536.5 L303.7,537.2 L303.7,538.0 L303.7,538.8 L303.7,539.5 L303.7,540.2 L303.7,541.0 L303.7,541.8 L303.7,542.5 L303.8,543.0 L303.9,543.8 L304.0,544.2 L304.2,544.8 L304.5,545.2 L304.8,545.8 L305.2,546.2 L305.5,546.7 L305.8,547.0 L306.1,547.5 L306.5,548.0 L306.8,548.4 L307.0,548.9 L307.2,549.5 L307.3,550.0 L307.3,550.8 L307.1,551.2 L306.9,551.8 L306.5,552.2 L306.1,552.5 L305.7,552.8 L305.1,553.0 L304.5,553.2 Z" fill="none" stroke="#404040" stroke-width="0.45"/>
<path d="M244.5,554.0 L243.8,554.1 L243.0,554.1 L242.2,554.2 L241.5,554.2 L240.8,554.1 L240.0,554.1 L239.4,554.0 L238.8,553.9 L238.0,553.8 L237.5,553.6 L237.0,553.5 L236.3,553.2 L235.8,553.0 L235.2,552.8 L234.8,552.5 L234.4,552.2 L234.0,552.0 L233.6,551.5 L233.3,551.0 L233.1,550.5 L233.2,549.8 L233.4,549.2 L233.7,548.8 L234.0,548.3 L234.3,548.0 L234.8,547.6 L235.1,547.2 L235.5,547.0 L236.0,546.6 L236.5,546.3 L237.0,546.0 L237.5,545.8 L238.0,545.5 L238.5,545.3 L239.0,545.0 L239.5,544.8 L240.0,544.6 L240.5,544.3 L241.0,544.0 L241.5,543.8 L241.9,543.5 L242.2,543.2 L242.8,542.8 L243.2,542.5 L243.5,542.2 L244.0,541.8 L244.3,541.5 L244.8,541.0 L245.1,540.8 L245.5,540.4 L245.9,540.0 L246.2,539.7 L246.8,539.3 L247.1,539.0 L247.5,538.6 L247.9,538.2 L248.2,538.0 L248.8,537.5 L249.1,537.2 L249.5,536.9 L249.9,536.5 L250.2,536.2 L250.8,535.8 L251.2,535.5 L251.5,535.2 L252.0,534.9 L252.5,534.7 L253.0,534.5 L253.8,534.4 L254.3,534.5 L254.9,534.8 L255.3,535.0 L255.8,535.4 L256.1,535.8 L256.5,536.2 L256.8,536.5 L257.2,537.0 L257.5,537.3 L257.9,537.8 L258.2,538.2 L258.5,538.5 L259.0,539.0 L259.2,539.3 L259.6,539.8 L260.0,540.1 L260.3,540.5 L260.8,540.9 L261.0,541.2 L261.5,541.7 L261.8,542.0 L262.2,542.5 L262.5,542.8 L262.9,543.2 L263.2,543.8 L263.4,544.2 L263.2,544.9 L262.8,545.2 L262.2,545.4 L261.8,545.6 L261.0,545.7 L260.5,545.8 L259.8,545.9 L259.0,545.9 L258.5,546.0 L257.8,546.1 L257.0,546.2 L256.5,546.3 L255.8,546.5 L255.2,546.6 L254.8,546.9 L254.2,547.2 L254.0,547.5 L253.6,548.0 L253.4,548.5 L253.2,549.0 L253.0,549.5 L252.7,550.0 L252.4,550.5 L252.0,551.0 L251.7,551.2 L251.2,551.7 L250.8,552.0 L250.4,552.2 L249.9,552.5 L249.4,552.8 L248.8,553.0 L248.2,553.2 L247.8,553.4 L247.2,553.5 L246.5,553.7 L246.0,553.8 L245.2,553.9 L244.7,554.0 Z" fill="none" stroke="#404040" stroke-width="0.45"/>
<path d="M301.0,492.3 L300.2,492.3 L299.8,492.2 L299.2,491.8 L298.9,491.5 L298.5,491.0 L298.2,490.7 L297.9,490.2 L297.6,489.8 L297.3,489.2 L297.0,488.8 L296.8,488.3 L296.5,487.9 L296.2,487.4 L296.0,486.9 L295.8,486.4 L295.5,485.9 L295.2,485.4 L295.0,484.8 L294.8,484.2 L294.7,483.8 L294.6,483.0 L294.8,482.4 L295.0,481.8 L295.2,481.3 L295.5,480.8 L295.8,480.4 L296.0,480.0 L296.3,479.5 L296.6,479.0 L296.9,478.5 L297.2,478.1 L297.5,477.8 L298.0,477.3 L298.4,477.0 L298.8,476.7 L299.2,476.5 L300.0,476.3 L300.5,476.2 L301.0,476.3 L301.7,476.5 L302.1,476.8 L302.5,477.1 L302.9,477.5 L303.2,478.0 L303.5,478.5 L303.7,479.0 L303.9,479.5 L304.0,480.1 L304.1,480.8 L304.2,481.5 L304.3,482.0 L304.3,482.8 L304.3,483.5 L304.2,484.0 L304.2,484.8 L304.1,485.5 L304.0,486.1 L303.9,486.8 L303.8,487.3 L303.6,488.0 L303.4,488.5 L303.2,489.1 L303.0,489.7 L302.8,490.2 L302.5,490.7 L302.2,491.1 L302.0,491.5 L301.5,492.0 L301.0,492.2 Z" fill="none" stroke="#404040" stroke-width="0.45"/>
<path d="M304.2,552.8 L303.5,552.9 L302.8,553.0 L302.0,553.0 L301.2,552.8 L300.8,552.7 L300.2,552.5 L299.8,552.2 L299.2,551.9 L298.9,551.5 L298.5,551.0 L298.2,550.6 L298.1,550.0 L298.0,549.5 L298.0,548.8 L298.1,548.2 L298.2,547.6 L298.4,547.0 L298.5,546.5 L298.6,545.8 L298.5,545.2 L298.1,544.8 L297.8,544.5 L297.2,544.2 L296.8,543.9 L296.2,543.7 L295.8,543.3 L295.5,542.9 L295.4,542.2 L295.6,541.8 L295.8,541.2 L296.0,540.6 L296.2,540.0 L296.5,539.5 L296.7,539.0 L296.9,538.5 L297.0,538.0 L297.2,537.4 L297.5,536.8 L297.6,536.2 L297.8,535.7 L298.0,535.0 L298.1,534.5 L298.2,533.8 L298.4,533.2 L298.5,532.7 L298.7,532.0 L298.8,531.5 L299.0,530.8 L299.1,530.2 L299.3,529.8 L299.5,529.0 L299.6,528.5 L299.8,528.0 L300.0,527.3 L300.2,526.9 L300.8,526.7 L301.1,527.0 L301.3,527.5 L301.4,528.2 L301.5,528.8 L301.6,529.5 L301.7,530.2 L301.8,530.8 L301.9,531.5 L302.0,532.1 L302.1,532.8 L302.2,533.5 L302.2,534.2 L302.2,534.9 L302.3,535.5 L302.3,536.2 L302.4,537.0 L302.4,537.8 L302.4,538.5 L302.4,539.2 L302.4,540.0 L302.3,540.8 L302.2,541.2 L302.1,542.0 L302.0,542.8 L302.1,543.5 L302.3,544.0 L302.6,544.5 L303.0,545.0 L303.2,545.3 L303.7,545.8 L304.0,546.1 L304.4,546.5 L304.8,546.9 L305.1,547.2 L305.5,547.7 L305.8,548.1 L306.1,548.5 L306.3,549.0 L306.5,549.5 L306.7,550.2 L306.5,551.0 L306.3,551.5 L306.0,551.8 L305.5,552.2 L305.0,552.5 L304.5,552.7 Z" fill="none" stroke="#404040" stroke-width="0.45"/>
<path d="M243.0,553.8 L242.2,553.8 L241.5,553.8 L240.9,553.8 L240.2,553.7 L239.5,553.6 L238.8,553.5 L238.2,553.4 L237.8,553.2 L237.0,553.0 L236.5,552.8 L236.0,552.6 L235.5,552.3 L235.1,552.0 L234.8,551.7 L234.3,551.2 L234.1,550.8 L234.0,550.2 L234.0,549.8 L234.2,549.2 L234.5,548.8 L235.0,548.2 L235.2,548.0 L235.8,547.6 L236.2,547.2 L236.6,547.0 L237.0,546.8 L237.5,546.5 L238.0,546.2 L238.6,546.0 L239.2,545.8 L239.8,545.5 L240.2,545.3 L240.8,545.2 L241.2,545.0 L241.8,544.8 L242.4,544.5 L243.0,544.2 L243.4,544.0 L243.8,543.8 L244.2,543.5 L244.8,543.0 L245.1,542.8 L245.5,542.3 L245.8,542.0 L246.2,541.6 L246.6,541.2 L247.0,540.9 L247.4,540.5 L247.8,540.2 L248.2,539.8 L248.5,539.5 L249.0,539.1 L249.4,538.8 L249.8,538.4 L250.2,538.0 L250.5,537.8 L251.0,537.4 L251.5,537.0 L251.9,536.8 L252.3,536.5 L252.9,536.2 L253.5,536.1 L254.1,536.2 L254.7,536.5 L255.0,536.8 L255.5,537.2 L255.8,537.5 L256.2,537.9 L256.5,538.2 L257.0,538.8 L257.2,539.1 L257.6,539.5 L258.0,539.9 L258.3,540.2 L258.7,540.8 L259.0,541.2 L259.3,541.5 L259.6,542.0 L259.9,542.5 L260.0,543.0 L260.0,543.5 L259.5,544.0 L259.0,544.2 L258.5,544.4 L257.8,544.5 L257.2,544.6 L256.5,544.6 L255.8,544.7 L255.2,544.8 L254.5,544.9 L253.8,545.0 L253.2,545.1 L252.7,545.2 L252.1,545.5 L251.7,545.8 L251.3,546.2 L251.3,547.0 L251.4,547.8 L251.5,548.2 L251.6,549.0 L251.5,549.5 L251.3,550.2 L251.0,550.7 L250.7,551.0 L250.2,551.5 L249.9,551.8 L249.5,552.0 L249.0,552.3 L248.5,552.6 L248.0,552.8 L247.3,553.0 L246.8,553.2 L246.2,553.3 L245.5,553.5 L245.0,553.6 L244.2,553.7 L243.5,553.7 L243.0,553.8 Z" fill="none" stroke="#404040" stroke-width="0.45"/>
<path d="M300.2,490.5 L299.8,490.4 L299.2,490.2 L298.8,489.8 L298.5,489.5 L298.1,489.0 L297.8,488.5 L297.5,488.2 L297.2,487.7 L297.0,487.2 L296.7,486.8 L296.4,486.2 L296.2,485.8 L296.0,485.2 L295.8,484.5 L295.6,484.0 L295.6,483.2 L295.6,482.5 L295.8,482.0 L296.0,481.4 L296.2,480.9 L296.5,480.3 L296.8,479.8 L297.0,479.4 L297.2,479.0 L297.6,478.5 L298.0,478.0 L298.3,477.8 L298.8,477.4 L299.2,477.1 L299.8,476.9 L300.5,476.8 L301.2,476.9 L301.8,477.2 L302.2,477.5 L302.5,477.8 L302.8,478.2 L303.1,478.8 L303.3,479.2 L303.5,479.9 L303.7,480.5 L303.8,481.1 L303.8,481.8 L303.9,482.5 L303.8,483.2 L303.8,484.0 L303.7,484.5 L303.6,485.2 L303.5,485.9 L303.4,486.5 L303.2,487.0 L303.0,487.7 L302.8,488.2 L302.5,488.8 L302.2,489.2 L302.0,489.5 L301.5,490.0 L301.2,490.2 L300.5,490.5 Z" fill="none" stroke="#404040" stroke-width="0.45"/>
<path d="M254.0,542.8 L253.2,542.8 L252.5,542.9 L251.8,542.9 L251.0,542.9 L250.2,542.9 L249.5,542.8 L249.2,542.5 L249.2,541.8 L249.5,541.4 L249.8,541.0 L250.2,540.5 L250.5,540.2 L251.0,539.8 L251.4,539.5 L251.8,539.2 L252.2,538.9 L252.8,538.6 L253.5,538.5 L254.2,538.8 L254.6,539.0 L255.0,539.4 L255.3,539.8 L255.7,540.2 L256.0,540.6 L256.2,541.1 L256.4,541.8 L256.2,542.2 L255.7,542.5 L255.0,542.7 L254.2,542.7 Z" fill="none" stroke="#404040" stroke-width="0.45"/>
<path d="M244.2,553.3 L243.5,553.3 L242.8,553.4 L242.0,553.4 L241.2,553.4 L240.5,553.3 L239.8,553.2 L239.2,553.2 L238.5,553.0 L238.0,552.9 L237.5,552.7 L237.0,552.5 L236.5,552.2 L236.0,551.9 L235.5,551.5 L235.2,551.2 L235.0,550.8 L234.8,550.0 L235.0,549.4 L235.2,549.0 L235.7,548.5 L236.0,548.2 L236.5,547.8 L237.0,547.5 L237.4,547.2 L237.9,547.0 L238.5,546.8 L239.0,546.5 L239.5,546.4 L240.0,546.2 L240.8,546.0 L241.2,545.9 L241.9,545.8 L242.5,545.6 L243.2,545.5 L243.8,545.4 L244.5,545.4 L245.2,545.4 L246.0,545.5 L246.5,545.6 L247.0,545.8 L247.5,546.1 L248.0,546.4 L248.4,546.8 L248.8,547.0 L249.2,547.5 L249.5,547.8 L249.8,548.2 L250.1,548.8 L250.2,549.5 L250.1,550.2 L249.8,550.8 L249.5,551.1 L249.1,551.5 L248.7,551.8 L248.2,552.1 L247.8,552.3 L247.2,552.5 L246.6,552.8 L246.0,552.9 L245.5,553.0 L244.8,553.2 L244.2,553.3 Z" fill="none" stroke="#404040" stroke-width="0.45"/>
<path d="M304.0,552.3 L303.2,552.5 L302.5,552.5 L301.8,552.4 L301.1,552.2 L300.5,552.0 L300.1,551.8 L299.8,551.5 L299.3,551.0 L299.1,550.5 L298.9,550.0 L298.9,549.2 L299.0,548.8 L299.2,548.1 L299.5,547.6 L299.8,547.2 L300.2,546.8 L300.5,546.4 L301.0,546.2 L301.8,546.1 L302.4,546.2 L302.9,546.5 L303.3,546.8 L303.8,547.0 L304.2,547.5 L304.6,547.8 L305.0,548.2 L305.3,548.5 L305.6,549.0 L305.8,549.5 L306.0,550.2 L305.8,551.0 L305.5,551.4 L305.1,551.8 L304.8,552.0 L304.2,552.2 Z" fill="none" stroke="#404040" stroke-width="0.45"/>
<path d="M300.8,488.8 L300.0,488.9 L299.5,488.7 L299.0,488.4 L298.5,488.0 L298.2,487.7 L297.9,487.2 L297.6,486.8 L297.3,486.2 L297.1,485.8 L296.9,485.2 L296.7,484.8 L296.5,484.0 L296.4,483.5 L296.5,482.8 L296.5,482.2 L296.7,481.5 L296.9,481.0 L297.1,480.5 L297.4,480.0 L297.6,479.5 L298.0,479.0 L298.2,478.6 L298.6,478.2 L299.0,478.0 L299.5,477.7 L300.2,477.5 L301.0,477.6 L301.5,477.8 L302.0,478.2 L302.3,478.5 L302.6,479.0 L302.8,479.5 L303.0,480.0 L303.2,480.8 L303.3,481.2 L303.3,482.0 L303.3,482.8 L303.3,483.5 L303.2,484.0 L303.1,484.8 L303.0,485.3 L302.8,486.0 L302.6,486.5 L302.4,487.0 L302.1,487.5 L301.8,488.0 L301.5,488.3 L301.0,488.7 Z" fill="none" stroke="#404040" stroke-width="0.45"/>
<path d="M244.2,552.8 L243.5,552.9 L242.8,552.9 L242.0,552.9 L241.2,552.9 L240.5,552.9 L239.8,552.8 L239.2,552.7 L238.6,552.5 L238.0,552.3 L237.5,552.1 L237.0,551.8 L236.6,551.5 L236.2,551.1 L236.0,550.7 L235.9,550.0 L236.0,549.5 L236.3,549.0 L236.8,548.6 L237.1,548.2 L237.5,548.0 L238.0,547.7 L238.5,547.5 L239.2,547.2 L239.8,547.1 L240.2,546.9 L241.0,546.8 L241.5,546.7 L242.2,546.7 L243.0,546.6 L243.8,546.7 L244.4,546.8 L245.0,546.8 L245.6,547.0 L246.2,547.2 L246.8,547.4 L247.2,547.7 L247.7,548.0 L248.0,548.2 L248.5,548.8 L248.7,549.2 L248.8,549.8 L248.8,550.3 L248.5,550.8 L248.1,551.2 L247.8,551.5 L247.2,551.8 L246.8,552.1 L246.2,552.3 L245.5,552.5 L245.0,552.6 L244.4,552.8 Z" fill="none" stroke="#404040" stroke-width="0.45"/>
<path d="M303.2,551.8 L302.5,551.8 L301.9,551.8 L301.2,551.5 L300.8,551.2 L300.5,551.0 L300.1,550.5 L300.0,550.0 L300.0,549.4 L300.2,548.8 L300.5,548.4 L300.9,548.0 L301.3,547.8 L302.0,547.6 L302.8,547.7 L303.2,547.9 L303.8,548.2 L304.1,548.5 L304.5,548.9 L304.8,549.3 L305.0,550.0 L305.0,550.3 L304.8,550.9 L304.5,551.2 L304.0,551.5 L303.4,551.8 Z" fill="none" stroke="#404040" stroke-width="0.45"/>
<path d="M300.8,487.3 L300.0,487.4 L299.5,487.2 L299.0,486.9 L298.6,486.5 L298.2,486.1 L298.0,485.7 L297.8,485.2 L297.5,484.6 L297.3,484.0 L297.2,483.3 L297.2,482.8 L297.3,482.2 L297.5,481.5 L297.6,481.0 L297.8,480.5 L298.1,480.0 L298.4,479.5 L298.8,479.0 L299.1,478.8 L299.5,478.5 L300.2,478.2 L300.5,478.2 L301.2,478.5 L301.6,478.8 L302.0,479.2 L302.2,479.6 L302.5,480.2 L302.6,480.8 L302.8,481.4 L302.8,482.0 L302.8,482.8 L302.8,483.3 L302.6,484.0 L302.5,484.7 L302.3,485.2 L302.1,485.8 L301.8,486.2 L301.5,486.7 L301.2,487.0 L300.8,487.3 Z" fill="none" stroke="#404040" stroke-width="0.45"/>
<path d="M244.0,552.3 L243.2,552.4 L242.5,552.5 L241.8,552.5 L241.0,552.4 L240.2,552.3 L239.8,552.2 L239.0,552.0 L238.5,551.8 L238.0,551.6 L237.5,551.2 L237.2,550.9 L237.0,550.4 L237.0,549.9 L237.2,549.3 L237.5,549.0 L238.0,548.6 L238.5,548.3 L239.0,548.1 L239.5,547.9 L240.1,547.8 L240.8,547.6 L241.5,547.5 L242.1,547.5 L242.6,547.5 L243.2,547.5 L244.0,547.6 L244.6,547.8 L245.2,547.9 L245.8,548.1 L246.2,548.4 L246.8,548.7 L247.1,549.0 L247.4,549.5 L247.5,550.2 L247.2,550.8 L246.8,551.2 L246.3,551.5 L245.9,551.8 L245.2,552.0 L244.8,552.1 L244.2,552.2 Z" fill="none" stroke="#404040" stroke-width="0.45"/>
<path d="M303.2,550.6 L302.5,550.7 L301.9,550.5 L301.5,550.0 L301.8,549.4 L302.2,549.2 L302.9,549.2 L303.3,549.5 L303.5,550.0 L303.3,550.5 Z" fill="none" stroke="#404040" stroke-width="0.45"/>
<path d="M300.8,485.8 L300.0,485.9 L299.5,485.8 L299.0,485.3 L298.7,485.0 L298.4,484.5 L298.2,484.0 L298.1,483.2 L298.1,482.5 L298.2,481.8 L298.3,481.2 L298.5,480.7 L298.8,480.2 L299.1,479.8 L299.5,479.4 L300.0,479.2 L300.8,479.2 L301.2,479.5 L301.5,479.8 L301.8,480.2 L302.0,480.8 L302.1,481.5 L302.2,482.2 L302.1,483.0 L302.0,483.8 L301.9,484.2 L301.6,484.8 L301.3,485.2 L301.0,485.6 Z" fill="none" stroke="#404040" stroke-width="0.45"/>
<path d="M243.5,551.8 L242.8,551.9 L242.0,551.9 L241.2,551.9 L240.5,551.8 L240.0,551.6 L239.5,551.5 L239.0,551.2 L238.5,550.8 L238.2,550.3 L238.3,550.0 L238.5,549.5 L239.0,549.1 L239.5,548.8 L240.0,548.6 L240.5,548.5 L241.2,548.4 L242.0,548.3 L242.8,548.3 L243.5,548.4 L244.0,548.5 L244.7,548.8 L245.2,549.0 L245.5,549.2 L245.9,549.8 L246.0,550.1 L245.8,550.7 L245.5,551.0 L245.0,551.3 L244.5,551.5 L243.8,551.7 Z" fill="none" stroke="#404040" stroke-width="0.45"/>
<path d="M300.5,484.4 L299.8,484.3 L299.4,484.0 L299.1,483.5 L299.0,483.0 L298.9,482.2 L299.0,481.6 L299.2,481.0 L299.5,480.6 L299.9,480.2 L300.5,480.2 L301.0,480.5 L301.2,480.9 L301.4,481.5 L301.5,482.2 L301.4,483.0 L301.2,483.5 L300.9,484.0 L300.5,484.4 Z" fill="none" stroke="#404040" stroke-width="0.45"/>
<path d="M243.2,551.0 L242.5,551.2 L241.8,551.2 L241.0,551.1 L240.5,550.9 L240.0,550.6 L239.8,550.0 L240.2,549.6 L240.8,549.4 L241.2,549.2 L242.0,549.2 L242.8,549.2 L243.2,549.3 L243.8,549.5 L244.2,550.0 L244.2,550.4 L243.9,550.8 L243.4,551.0 Z" fill="none" stroke="#404040" stroke-width="0.45"/><path d="M229,541 C226.5,548 228.5,555 237,556.3 L300,556.6 C308,556.6 311,554 310.8,549" fill="none" stroke="#222" stroke-width="1.6" opacity="0.35"/><path d="M232,552 C232,545 240,542 250,543 L296,545 C306,545 310,547 310,551 C310,555 305,556 296,556 L240,556 C234,556 232,555 232,552 Z" fill="#222" opacity="0.18"/><path d="M296,545 C292,530 294,500 298,480 C300,474 308,474 309,482 C311,500 311,530 310,548 Z" fill="#222" opacity="0.12"/>
<rect x="214.5" y="463.0" width="116.80000000000001" height="117.39999999999998" fill="none" stroke="#222" stroke-width="1.1"/>
<line x1="262.70" y1="463.00" x2="262.70" y2="580.40" stroke="#222" stroke-width="1.1"/>
<line x1="214.50" y1="520.10" x2="331.30" y2="520.10" stroke="#222" stroke-width="1.1"/>
<text transform="translate(217.80,469.80)" x="0" y="2.61" font-size="7.3" text-anchor="start" font-weight="normal" fill="#222" stroke="#222" stroke-width="0.22">Q1</text>
<text transform="translate(217.80,479.00)" x="0" y="2.61" font-size="7.3" text-anchor="start" font-weight="normal" fill="#222" stroke="#222" stroke-width="0.22">2.25</text>
<text transform="translate(322.90,469.80)" x="0" y="2.61" font-size="7.3" text-anchor="end" font-weight="normal" fill="#222" stroke="#222" stroke-width="0.22">Q2</text>
<text transform="translate(322.90,479.00)" x="0" y="2.61" font-size="7.3" text-anchor="end" font-weight="normal" fill="#222" stroke="#222" stroke-width="0.22">26.2</text>
<text transform="translate(217.80,562.50)" x="0" y="2.61" font-size="7.3" text-anchor="start" font-weight="normal" fill="#222" stroke="#222" stroke-width="0.22">Q4</text>
<text transform="translate(217.80,572.00)" x="0" y="2.61" font-size="7.3" text-anchor="start" font-weight="normal" fill="#222" stroke="#222" stroke-width="0.22">42.5</text>
<text transform="translate(322.90,562.50)" x="0" y="2.61" font-size="7.3" text-anchor="end" font-weight="normal" fill="#222" stroke="#222" stroke-width="0.22">Q3</text>
<text transform="translate(322.90,572.00)" x="0" y="2.61" font-size="7.3" text-anchor="end" font-weight="normal" fill="#222" stroke="#222" stroke-width="0.22">29.1</text>
<line x1="211.90" y1="475.40" x2="214.50" y2="475.40" stroke="#222" stroke-width="0.9"/>
<line x1="211.90" y1="502.80" x2="214.50" y2="502.80" stroke="#222" stroke-width="0.9"/>
<line x1="211.90" y1="534.50" x2="214.50" y2="534.50" stroke="#222" stroke-width="0.9"/>
<line x1="211.90" y1="553.30" x2="214.50" y2="553.30" stroke="#222" stroke-width="0.9"/>
<line x1="211.90" y1="574.00" x2="214.50" y2="574.00" stroke="#222" stroke-width="0.9"/>
<line x1="212.90" y1="524.96" x2="214.50" y2="524.96" stroke="#333" stroke-width="0.6"/>
<line x1="212.90" y1="494.55" x2="214.50" y2="494.55" stroke="#333" stroke-width="0.6"/>
<line x1="212.90" y1="519.38" x2="214.50" y2="519.38" stroke="#333" stroke-width="0.6"/>
<line x1="212.90" y1="489.73" x2="214.50" y2="489.73" stroke="#333" stroke-width="0.6"/>
<line x1="212.90" y1="515.41" x2="214.50" y2="515.41" stroke="#333" stroke-width="0.6"/>
<line x1="212.90" y1="486.30" x2="214.50" y2="486.30" stroke="#333" stroke-width="0.6"/>
<line x1="212.90" y1="512.34" x2="214.50" y2="512.34" stroke="#333" stroke-width="0.6"/>
<line x1="212.90" y1="483.65" x2="214.50" y2="483.65" stroke="#333" stroke-width="0.6"/>
<line x1="212.90" y1="509.83" x2="214.50" y2="509.83" stroke="#333" stroke-width="0.6"/>
<line x1="212.90" y1="481.48" x2="214.50" y2="481.48" stroke="#333" stroke-width="0.6"/>
<line x1="212.90" y1="507.71" x2="214.50" y2="507.71" stroke="#333" stroke-width="0.6"/>
<line x1="212.90" y1="479.64" x2="214.50" y2="479.64" stroke="#333" stroke-width="0.6"/>
<line x1="212.90" y1="505.87" x2="214.50" y2="505.87" stroke="#333" stroke-width="0.6"/>
<line x1="212.90" y1="478.06" x2="214.50" y2="478.06" stroke="#333" stroke-width="0.6"/>
<line x1="212.90" y1="504.25" x2="214.50" y2="504.25" stroke="#333" stroke-width="0.6"/>
<line x1="212.90" y1="476.65" x2="214.50" y2="476.65" stroke="#333" stroke-width="0.6"/>
<line x1="212.90" y1="467.15" x2="214.50" y2="467.15" stroke="#333" stroke-width="0.6"/>
<line x1="212.90" y1="548.68" x2="214.50" y2="548.68" stroke="#333" stroke-width="0.6"/>
<line x1="212.90" y1="558.29" x2="214.50" y2="558.29" stroke="#333" stroke-width="0.6"/>
<line x1="212.90" y1="545.17" x2="214.50" y2="545.17" stroke="#333" stroke-width="0.6"/>
<line x1="212.90" y1="562.06" x2="214.50" y2="562.06" stroke="#333" stroke-width="0.6"/>
<line x1="212.90" y1="542.62" x2="214.50" y2="542.62" stroke="#333" stroke-width="0.6"/>
<line x1="212.90" y1="564.81" x2="214.50" y2="564.81" stroke="#333" stroke-width="0.6"/>
<line x1="212.90" y1="540.67" x2="214.50" y2="540.67" stroke="#333" stroke-width="0.6"/>
<line x1="212.90" y1="566.92" x2="214.50" y2="566.92" stroke="#333" stroke-width="0.6"/>
<line x1="212.90" y1="539.11" x2="214.50" y2="539.11" stroke="#333" stroke-width="0.6"/>
<line x1="212.90" y1="568.60" x2="214.50" y2="568.60" stroke="#333" stroke-width="0.6"/>
<line x1="212.90" y1="537.81" x2="214.50" y2="537.81" stroke="#333" stroke-width="0.6"/>
<line x1="212.90" y1="570.00" x2="214.50" y2="570.00" stroke="#333" stroke-width="0.6"/>
<line x1="212.90" y1="536.70" x2="214.50" y2="536.70" stroke="#333" stroke-width="0.6"/>
<line x1="212.90" y1="571.20" x2="214.50" y2="571.20" stroke="#333" stroke-width="0.6"/>
<line x1="212.90" y1="535.73" x2="214.50" y2="535.73" stroke="#333" stroke-width="0.6"/>
<line x1="212.90" y1="572.25" x2="214.50" y2="572.25" stroke="#333" stroke-width="0.6"/>
<line x1="212.90" y1="534.87" x2="214.50" y2="534.87" stroke="#333" stroke-width="0.6"/>
<line x1="212.90" y1="573.17" x2="214.50" y2="573.17" stroke="#333" stroke-width="0.6"/>
<line x1="262.32" y1="580.40" x2="262.32" y2="582.00" stroke="#333" stroke-width="0.6"/>
<line x1="266.55" y1="580.40" x2="266.55" y2="582.00" stroke="#333" stroke-width="0.6"/>
<line x1="269.55" y1="580.40" x2="269.55" y2="582.00" stroke="#333" stroke-width="0.6"/>
<line x1="271.88" y1="580.40" x2="271.88" y2="582.00" stroke="#333" stroke-width="0.6"/>
<line x1="273.78" y1="580.40" x2="273.78" y2="582.00" stroke="#333" stroke-width="0.6"/>
<line x1="275.38" y1="580.40" x2="275.38" y2="582.00" stroke="#333" stroke-width="0.6"/>
<line x1="276.77" y1="580.40" x2="276.77" y2="582.00" stroke="#333" stroke-width="0.6"/>
<line x1="278.00" y1="580.40" x2="278.00" y2="582.00" stroke="#333" stroke-width="0.6"/>
<line x1="285.72" y1="580.40" x2="285.72" y2="582.00" stroke="#333" stroke-width="0.6"/>
<line x1="289.60" y1="580.40" x2="289.60" y2="582.00" stroke="#333" stroke-width="0.6"/>
<line x1="292.35" y1="580.40" x2="292.35" y2="582.00" stroke="#333" stroke-width="0.6"/>
<line x1="294.48" y1="580.40" x2="294.48" y2="582.00" stroke="#333" stroke-width="0.6"/>
<line x1="296.22" y1="580.40" x2="296.22" y2="582.00" stroke="#333" stroke-width="0.6"/>
<line x1="297.69" y1="580.40" x2="297.69" y2="582.00" stroke="#333" stroke-width="0.6"/>
<line x1="298.97" y1="580.40" x2="298.97" y2="582.00" stroke="#333" stroke-width="0.6"/>
<line x1="300.09" y1="580.40" x2="300.09" y2="582.00" stroke="#333" stroke-width="0.6"/>
<line x1="307.57" y1="580.40" x2="307.57" y2="582.00" stroke="#333" stroke-width="0.6"/>
<line x1="311.36" y1="580.40" x2="311.36" y2="582.00" stroke="#333" stroke-width="0.6"/>
<line x1="314.04" y1="580.40" x2="314.04" y2="582.00" stroke="#333" stroke-width="0.6"/>
<line x1="316.13" y1="580.40" x2="316.13" y2="582.00" stroke="#333" stroke-width="0.6"/>
<line x1="317.83" y1="580.40" x2="317.83" y2="582.00" stroke="#333" stroke-width="0.6"/>
<line x1="319.27" y1="580.40" x2="319.27" y2="582.00" stroke="#333" stroke-width="0.6"/>
<line x1="320.52" y1="580.40" x2="320.52" y2="582.00" stroke="#333" stroke-width="0.6"/>
<line x1="321.62" y1="580.40" x2="321.62" y2="582.00" stroke="#333" stroke-width="0.6"/>
<line x1="239.66" y1="580.40" x2="239.66" y2="582.00" stroke="#333" stroke-width="0.6"/>
<line x1="233.73" y1="580.40" x2="233.73" y2="582.00" stroke="#333" stroke-width="0.6"/>
<line x1="243.03" y1="580.40" x2="243.03" y2="582.00" stroke="#333" stroke-width="0.6"/>
<line x1="232.17" y1="580.40" x2="232.17" y2="582.00" stroke="#333" stroke-width="0.6"/>
<line x1="245.68" y1="580.40" x2="245.68" y2="582.00" stroke="#333" stroke-width="0.6"/>
<line x1="230.95" y1="580.40" x2="230.95" y2="582.00" stroke="#333" stroke-width="0.6"/>
<line x1="247.77" y1="580.40" x2="247.77" y2="582.00" stroke="#333" stroke-width="0.6"/>
<line x1="229.98" y1="580.40" x2="229.98" y2="582.00" stroke="#333" stroke-width="0.6"/>
<line x1="249.49" y1="580.40" x2="249.49" y2="582.00" stroke="#333" stroke-width="0.6"/>
<line x1="229.19" y1="580.40" x2="229.19" y2="582.00" stroke="#333" stroke-width="0.6"/>
<line x1="250.93" y1="580.40" x2="250.93" y2="582.00" stroke="#333" stroke-width="0.6"/>
<line x1="228.52" y1="580.40" x2="228.52" y2="582.00" stroke="#333" stroke-width="0.6"/>
<line x1="252.18" y1="580.40" x2="252.18" y2="582.00" stroke="#333" stroke-width="0.6"/>
<line x1="227.95" y1="580.40" x2="227.95" y2="582.00" stroke="#333" stroke-width="0.6"/>
<line x1="253.26" y1="580.40" x2="253.26" y2="582.00" stroke="#333" stroke-width="0.6"/>
<line x1="227.45" y1="580.40" x2="227.45" y2="582.00" stroke="#333" stroke-width="0.6"/>
<line x1="254.23" y1="580.40" x2="254.23" y2="582.00" stroke="#333" stroke-width="0.6"/>
<line x1="227.00" y1="580.40" x2="227.00" y2="582.00" stroke="#333" stroke-width="0.6"/>
<line x1="226.60" y1="580.40" x2="226.60" y2="583.00" stroke="#222" stroke-width="0.9"/>
<line x1="235.60" y1="580.40" x2="235.60" y2="583.00" stroke="#222" stroke-width="0.9"/>
<line x1="255.10" y1="580.40" x2="255.10" y2="583.00" stroke="#222" stroke-width="0.9"/>
<line x1="279.10" y1="580.40" x2="279.10" y2="583.00" stroke="#222" stroke-width="0.9"/>
<line x1="301.10" y1="580.40" x2="301.10" y2="583.00" stroke="#222" stroke-width="0.9"/>
<line x1="322.60" y1="580.40" x2="322.60" y2="583.00" stroke="#222" stroke-width="0.9"/>
<text transform="translate(207.50,475.40)" x="0" y="2.51" font-size="7.0" text-anchor="end" font-weight="normal" fill="#1a1a1a" stroke="#1a1a1a" stroke-width="0.22">10<tspan baseline-shift="super" font-size="5">5</tspan></text>
<text transform="translate(207.50,502.80)" x="0" y="2.51" font-size="7.0" text-anchor="end" font-weight="normal" fill="#1a1a1a" stroke="#1a1a1a" stroke-width="0.22">10<tspan baseline-shift="super" font-size="5">4</tspan></text>
<text transform="translate(207.50,534.50)" x="0" y="2.51" font-size="7.0" text-anchor="end" font-weight="normal" fill="#1a1a1a" stroke="#1a1a1a" stroke-width="0.22">10<tspan baseline-shift="super" font-size="5">3</tspan></text>
<text transform="translate(207.50,553.30)" x="0" y="2.51" font-size="7.0" text-anchor="end" font-weight="normal" fill="#1a1a1a" stroke="#1a1a1a" stroke-width="0.22">0</text>
<text transform="translate(207.50,574.00)" x="0" y="2.51" font-size="7.0" text-anchor="end" font-weight="normal" fill="#1a1a1a" stroke="#1a1a1a" stroke-width="0.22">−10<tspan baseline-shift="super" font-size="5">3</tspan></text>
<text transform="translate(224.10,589.90)" x="0" y="2.51" font-size="7.0" text-anchor="middle" font-weight="normal" fill="#1a1a1a" stroke="#1a1a1a" stroke-width="0.22">−10<tspan baseline-shift="super" font-size="5">2</tspan></text>
<text transform="translate(235.60,589.90)" x="0" y="2.51" font-size="7.0" text-anchor="middle" font-weight="normal" fill="#1a1a1a" stroke="#1a1a1a" stroke-width="0.22">0</text>
<text transform="translate(258.60,589.90)" x="0" y="2.51" font-size="7.0" text-anchor="middle" font-weight="normal" fill="#1a1a1a" stroke="#1a1a1a" stroke-width="0.22">10<tspan baseline-shift="super" font-size="5">2</tspan></text>
<text transform="translate(282.60,589.90)" x="0" y="2.51" font-size="7.0" text-anchor="middle" font-weight="normal" fill="#1a1a1a" stroke="#1a1a1a" stroke-width="0.22">10<tspan baseline-shift="super" font-size="5">3</tspan></text>
<text transform="translate(305.60,589.90)" x="0" y="2.51" font-size="7.0" text-anchor="middle" font-weight="normal" fill="#1a1a1a" stroke="#1a1a1a" stroke-width="0.22">10<tspan baseline-shift="super" font-size="5">4</tspan></text>
<text transform="translate(323.60,589.90)" x="0" y="2.51" font-size="7.0" text-anchor="middle" font-weight="normal" fill="#1a1a1a" stroke="#1a1a1a" stroke-width="0.22">10<tspan baseline-shift="super" font-size="5">5</tspan></text>
<text transform="translate(272.80,604.60)" x="0" y="0" font-size="9.3" text-anchor="middle" font-weight="bold" fill="#1a1a1a" textLength="28.0" lengthAdjust="spacingAndGlyphs" stroke="#1a1a1a" stroke-width="0.1">Annexin V</text>
<text transform="translate(185.80,521.20) rotate(-90)" x="0" y="0" font-size="8.8" text-anchor="middle" font-weight="normal" fill="#1a1a1a" textLength="6.0" lengthAdjust="spacingAndGlyphs" stroke="#1a1a1a" stroke-width="0.35">PI</text>
<text transform="translate(349.50,446.65)" x="0" y="3.94" font-size="11.0" text-anchor="middle" font-weight="bold" fill="#000" stroke="#000" stroke-width="0.22">F</text>
<text transform="translate(421.00,456.30)" x="0" y="2.61" font-size="7.3" text-anchor="middle" font-weight="normal" fill="#1a1a1a" stroke="#1a1a1a" stroke-width="0.22">Peripheral blood day24</text>
<line x1="388.50" y1="469.20" x2="388.50" y2="566.70" stroke="#3a3a3a" stroke-width="1.0"/>
<line x1="388.00" y1="566.20" x2="454.20" y2="566.20" stroke="#3a3a3a" stroke-width="1.0"/>
<line x1="385.80" y1="566.20" x2="388.50" y2="566.20" stroke="#3a3a3a" stroke-width="1.0"/>
<text transform="translate(382.80,566.20)" x="0" y="2.58" font-size="7.2" text-anchor="end" font-weight="normal" fill="#1a1a1a" letter-spacing="0.25" stroke="#1a1a1a" stroke-width="0.22">0</text>
<line x1="385.80" y1="546.79" x2="388.50" y2="546.79" stroke="#3a3a3a" stroke-width="1.0"/>
<text transform="translate(382.80,546.79)" x="0" y="2.58" font-size="7.2" text-anchor="end" font-weight="normal" fill="#1a1a1a" letter-spacing="0.25" stroke="#1a1a1a" stroke-width="0.22">20</text>
<line x1="385.80" y1="527.38" x2="388.50" y2="527.38" stroke="#3a3a3a" stroke-width="1.0"/>
<text transform="translate(382.80,527.38)" x="0" y="2.58" font-size="7.2" text-anchor="end" font-weight="normal" fill="#1a1a1a" letter-spacing="0.25" stroke="#1a1a1a" stroke-width="0.22">40</text>
<line x1="385.80" y1="507.97" x2="388.50" y2="507.97" stroke="#3a3a3a" stroke-width="1.0"/>
<text transform="translate(382.80,507.97)" x="0" y="2.58" font-size="7.2" text-anchor="end" font-weight="normal" fill="#1a1a1a" letter-spacing="0.25" stroke="#1a1a1a" stroke-width="0.22">60</text>
<line x1="385.80" y1="488.56" x2="388.50" y2="488.56" stroke="#3a3a3a" stroke-width="1.0"/>
<text transform="translate(382.80,488.56)" x="0" y="2.58" font-size="7.2" text-anchor="end" font-weight="normal" fill="#1a1a1a" letter-spacing="0.25" stroke="#1a1a1a" stroke-width="0.22">80</text>
<line x1="385.80" y1="469.15" x2="388.50" y2="469.15" stroke="#3a3a3a" stroke-width="1.0"/>
<text transform="translate(382.80,469.15)" x="0" y="2.58" font-size="7.2" text-anchor="end" font-weight="normal" fill="#1a1a1a" letter-spacing="0.25" stroke="#1a1a1a" stroke-width="0.22">100</text>
<rect x="398.8" y="551.64" width="17" height="14.56" fill="#de8799" opacity="0.95"/>
<rect x="426.9" y="513.79" width="17.1" height="52.41" fill="#de8799" opacity="0.95"/>
<line x1="388.00" y1="566.20" x2="454.20" y2="566.20" stroke="#3a3a3a" stroke-width="1.0"/>
<line x1="407.10" y1="566.20" x2="407.10" y2="568.60" stroke="#3a3a3a" stroke-width="1.0"/>
<line x1="435.60" y1="566.20" x2="435.60" y2="568.60" stroke="#3a3a3a" stroke-width="1.0"/>
<line x1="407.10" y1="551.64" x2="407.10" y2="551.64" stroke="#c8102e" stroke-width="1.0"/>
<line x1="407.10" y1="536.90" x2="407.10" y2="564.60" stroke="#c8102e" stroke-width="1.0"/>
<line x1="403.10" y1="536.90" x2="411.10" y2="536.90" stroke="#c8102e" stroke-width="1.0"/>
<line x1="403.10" y1="564.60" x2="411.10" y2="564.60" stroke="#c8102e" stroke-width="1.0"/>
<circle cx="407.10" cy="534.40" r="1.4" fill="#c8102e"/>
<circle cx="407.10" cy="557.10" r="1.4" fill="#c8102e"/>
<circle cx="407.10" cy="561.30" r="1.4" fill="#c8102e"/>
<line x1="435.60" y1="513.79" x2="435.60" y2="513.79" stroke="#c8102e" stroke-width="1.0"/>
<line x1="435.60" y1="502.10" x2="435.60" y2="524.60" stroke="#c8102e" stroke-width="1.0"/>
<line x1="431.60" y1="502.10" x2="439.60" y2="502.10" stroke="#c8102e" stroke-width="1.0"/>
<line x1="431.60" y1="524.60" x2="439.60" y2="524.60" stroke="#c8102e" stroke-width="1.0"/>
<circle cx="435.60" cy="509.60" r="1.4" fill="#c8102e"/>
<circle cx="435.60" cy="524.60" r="1.4" fill="#c8102e"/>
<circle cx="435.60" cy="502.30" r="1.4" fill="#c8102e"/>
<line x1="406.90" y1="490.20" x2="436.20" y2="490.20" stroke="#111" stroke-width="1.0"/>
<circle cx="421.50" cy="486.30" r="1.0" fill="#222"/>
<text transform="translate(364.20,517.70) rotate(-90)" x="0" y="0" font-size="8.4" text-anchor="middle" font-weight="normal" fill="#1a1a1a" textLength="78.4" lengthAdjust="spacingAndGlyphs" stroke="#1a1a1a" stroke-width="0.4">% of apoptosis + dead cells</text>
<text transform="translate(411.0,575.5) rotate(-45)" x="0" y="0" font-size="8.0" text-anchor="end" fill="#1a1a1a" stroke="#1a1a1a" stroke-width="0.2">PBS</text>
<text transform="translate(439.5,575.5) rotate(-45)" x="0" y="0" font-size="7.6" text-anchor="end" fill="#1a1a1a" stroke="#1a1a1a" stroke-width="0.2">BBM 100mg/kg</text>
<rect x="0.5" y="0.5" width="519" height="617" fill="none" stroke="#000" stroke-width="1.2"/>
</svg></div>
</body></html>
